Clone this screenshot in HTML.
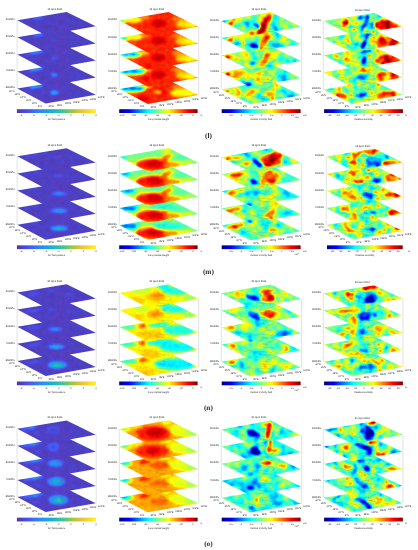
<!DOCTYPE html>
<html><head><meta charset="utf-8"><style>
html,body{margin:0;padding:0;background:#fff;width:418px;height:550px;overflow:hidden}
svg{display:block;font-family:"Liberation Sans",sans-serif;filter:blur(0.3px)}
</style></head><body><svg width="418" height="550" viewBox="0 0 418 550" font-family="Liberation Sans"><style>.t{fill:#1e1e1e}</style><defs><linearGradient id="gpar" x1="0" x2="1" y1="0" y2="0"><stop offset="0.000" stop-color="#5136aa"/><stop offset="0.050" stop-color="#4d40c4"/><stop offset="0.100" stop-color="#4a49de"/><stop offset="0.150" stop-color="#4654f4"/><stop offset="0.200" stop-color="#3d67f5"/><stop offset="0.250" stop-color="#3479f6"/><stop offset="0.300" stop-color="#2a8bf3"/><stop offset="0.350" stop-color="#2099e8"/><stop offset="0.400" stop-color="#17a8dc"/><stop offset="0.450" stop-color="#17b4cc"/><stop offset="0.500" stop-color="#24bcb6"/><stop offset="0.550" stop-color="#31c4a0"/><stop offset="0.600" stop-color="#4ec784"/><stop offset="0.650" stop-color="#77c763"/><stop offset="0.700" stop-color="#9fc642"/><stop offset="0.750" stop-color="#c0c538"/><stop offset="0.800" stop-color="#ddc438"/><stop offset="0.850" stop-color="#fac338"/><stop offset="0.900" stop-color="#fcd32d"/><stop offset="0.950" stop-color="#fae720"/><stop offset="1.000" stop-color="#f9fa14"/></linearGradient><linearGradient id="gjet" x1="0" x2="1" y1="0" y2="0"><stop offset="0.000" stop-color="#00007f"/><stop offset="0.031" stop-color="#00009f"/><stop offset="0.062" stop-color="#0000bf"/><stop offset="0.094" stop-color="#0000df"/><stop offset="0.125" stop-color="#0000ff"/><stop offset="0.156" stop-color="#001fff"/><stop offset="0.188" stop-color="#003fff"/><stop offset="0.219" stop-color="#005fff"/><stop offset="0.250" stop-color="#007fff"/><stop offset="0.281" stop-color="#009fff"/><stop offset="0.312" stop-color="#00bfff"/><stop offset="0.344" stop-color="#00dfff"/><stop offset="0.375" stop-color="#00ffff"/><stop offset="0.406" stop-color="#1fffdf"/><stop offset="0.438" stop-color="#3fffbf"/><stop offset="0.469" stop-color="#5fff9f"/><stop offset="0.500" stop-color="#7fff7f"/><stop offset="0.531" stop-color="#9fff5f"/><stop offset="0.562" stop-color="#bfff3f"/><stop offset="0.594" stop-color="#dfff1f"/><stop offset="0.625" stop-color="#ffff00"/><stop offset="0.656" stop-color="#ffdf00"/><stop offset="0.688" stop-color="#ffbf00"/><stop offset="0.719" stop-color="#ff9f00"/><stop offset="0.750" stop-color="#ff7f00"/><stop offset="0.781" stop-color="#ff5f00"/><stop offset="0.812" stop-color="#ff3f00"/><stop offset="0.844" stop-color="#ff1f00"/><stop offset="0.875" stop-color="#ff0000"/><stop offset="0.906" stop-color="#df0000"/><stop offset="0.938" stop-color="#bf0000"/><stop offset="0.969" stop-color="#9f0000"/><stop offset="1.000" stop-color="#7f0000"/></linearGradient><filter id="f00" x="-10%" y="-20%" width="120%" height="140%" color-interpolation-filters="sRGB"><feGaussianBlur stdDeviation="0.90" result="b"/><feTurbulence type="fractalNoise" baseFrequency="0.200" numOctaves="2" seed="1" result="n"/><feColorMatrix in="n" type="matrix" values="1 0 0 0 0 1 0 0 0 0 1 0 0 0 0 0 0 0 0 1" result="ng"/><feComposite in="b" in2="ng" operator="arithmetic" k1="0" k2="1" k3="0.080" k4="-0.040" result="s"/><feComponentTransfer in="s"><feFuncR type="table" tableValues="0.318 0.281 0.179 0.069 0.216 0.672 0.997 0.977"/><feFuncG type="table" tableValues="0.213 0.323 0.529 0.695 0.784 0.779 0.766 0.984"/><feFuncB type="table" tableValues="0.667 0.958 0.968 0.839 0.592 0.223 0.220 0.081"/><feFuncA type="linear" slope="0" intercept="1"/></feComponentTransfer></filter><filter id="f10" x="-10%" y="-20%" width="120%" height="140%" color-interpolation-filters="sRGB"><feGaussianBlur stdDeviation="0.90" result="b"/><feTurbulence type="fractalNoise" baseFrequency="0.200" numOctaves="2" seed="5" result="n"/><feColorMatrix in="n" type="matrix" values="1 0 0 0 0 1 0 0 0 0 1 0 0 0 0 0 0 0 0 1" result="ng"/><feComposite in="b" in2="ng" operator="arithmetic" k1="0" k2="1" k3="0.080" k4="-0.040" result="s"/><feComponentTransfer in="s"><feFuncR type="table" tableValues="0.318 0.281 0.179 0.069 0.216 0.672 0.997 0.977"/><feFuncG type="table" tableValues="0.213 0.323 0.529 0.695 0.784 0.779 0.766 0.984"/><feFuncB type="table" tableValues="0.667 0.958 0.968 0.839 0.592 0.223 0.220 0.081"/><feFuncA type="linear" slope="0" intercept="1"/></feComponentTransfer></filter><filter id="f20" x="-10%" y="-20%" width="120%" height="140%" color-interpolation-filters="sRGB"><feGaussianBlur stdDeviation="0.90" result="b"/><feTurbulence type="fractalNoise" baseFrequency="0.200" numOctaves="2" seed="9" result="n"/><feColorMatrix in="n" type="matrix" values="1 0 0 0 0 1 0 0 0 0 1 0 0 0 0 0 0 0 0 1" result="ng"/><feComposite in="b" in2="ng" operator="arithmetic" k1="0" k2="1" k3="0.080" k4="-0.040" result="s"/><feComponentTransfer in="s"><feFuncR type="table" tableValues="0.318 0.281 0.179 0.069 0.216 0.672 0.997 0.977"/><feFuncG type="table" tableValues="0.213 0.323 0.529 0.695 0.784 0.779 0.766 0.984"/><feFuncB type="table" tableValues="0.667 0.958 0.968 0.839 0.592 0.223 0.220 0.081"/><feFuncA type="linear" slope="0" intercept="1"/></feComponentTransfer></filter><filter id="f30" x="-10%" y="-20%" width="120%" height="140%" color-interpolation-filters="sRGB"><feGaussianBlur stdDeviation="0.90" result="b"/><feTurbulence type="fractalNoise" baseFrequency="0.200" numOctaves="2" seed="13" result="n"/><feColorMatrix in="n" type="matrix" values="1 0 0 0 0 1 0 0 0 0 1 0 0 0 0 0 0 0 0 1" result="ng"/><feComposite in="b" in2="ng" operator="arithmetic" k1="0" k2="1" k3="0.080" k4="-0.040" result="s"/><feComponentTransfer in="s"><feFuncR type="table" tableValues="0.318 0.281 0.179 0.069 0.216 0.672 0.997 0.977"/><feFuncG type="table" tableValues="0.213 0.323 0.529 0.695 0.784 0.779 0.766 0.984"/><feFuncB type="table" tableValues="0.667 0.958 0.968 0.839 0.592 0.223 0.220 0.081"/><feFuncA type="linear" slope="0" intercept="1"/></feComponentTransfer></filter><filter id="f01" x="-10%" y="-20%" width="120%" height="140%" color-interpolation-filters="sRGB"><feGaussianBlur stdDeviation="1.50" result="b"/><feTurbulence type="fractalNoise" baseFrequency="0.250" numOctaves="2" seed="2" result="n"/><feColorMatrix in="n" type="matrix" values="1 0 0 0 0 1 0 0 0 0 1 0 0 0 0 0 0 0 0 1" result="ng"/><feComposite in="b" in2="ng" operator="arithmetic" k1="0" k2="1" k3="0.060" k4="-0.030" result="s"/><feComponentTransfer in="s"><feFuncR type="table" tableValues="0 0 0 0 0.5 1 1 1 0.5"/><feFuncG type="table" tableValues="0 0 0.5 1 1 1 0.5 0 0"/><feFuncB type="table" tableValues="0.56 1 1 1 0.5 0 0 0 0"/><feFuncA type="linear" slope="0" intercept="1"/></feComponentTransfer></filter><filter id="f11" x="-10%" y="-20%" width="120%" height="140%" color-interpolation-filters="sRGB"><feGaussianBlur stdDeviation="1.50" result="b"/><feTurbulence type="fractalNoise" baseFrequency="0.250" numOctaves="2" seed="6" result="n"/><feColorMatrix in="n" type="matrix" values="1 0 0 0 0 1 0 0 0 0 1 0 0 0 0 0 0 0 0 1" result="ng"/><feComposite in="b" in2="ng" operator="arithmetic" k1="0" k2="1" k3="0.060" k4="-0.030" result="s"/><feComponentTransfer in="s"><feFuncR type="table" tableValues="0 0 0 0 0.5 1 1 1 0.5"/><feFuncG type="table" tableValues="0 0 0.5 1 1 1 0.5 0 0"/><feFuncB type="table" tableValues="0.56 1 1 1 0.5 0 0 0 0"/><feFuncA type="linear" slope="0" intercept="1"/></feComponentTransfer></filter><filter id="f21" x="-10%" y="-20%" width="120%" height="140%" color-interpolation-filters="sRGB"><feGaussianBlur stdDeviation="1.50" result="b"/><feTurbulence type="fractalNoise" baseFrequency="0.250" numOctaves="2" seed="10" result="n"/><feColorMatrix in="n" type="matrix" values="1 0 0 0 0 1 0 0 0 0 1 0 0 0 0 0 0 0 0 1" result="ng"/><feComposite in="b" in2="ng" operator="arithmetic" k1="0" k2="1" k3="0.070" k4="-0.035" result="s"/><feComponentTransfer in="s"><feFuncR type="table" tableValues="0 0 0 0 0.5 1 1 1 0.5"/><feFuncG type="table" tableValues="0 0 0.5 1 1 1 0.5 0 0"/><feFuncB type="table" tableValues="0.56 1 1 1 0.5 0 0 0 0"/><feFuncA type="linear" slope="0" intercept="1"/></feComponentTransfer></filter><filter id="f31" x="-10%" y="-20%" width="120%" height="140%" color-interpolation-filters="sRGB"><feGaussianBlur stdDeviation="1.60" result="b"/><feTurbulence type="fractalNoise" baseFrequency="0.250" numOctaves="2" seed="14" result="n"/><feColorMatrix in="n" type="matrix" values="1 0 0 0 0 1 0 0 0 0 1 0 0 0 0 0 0 0 0 1" result="ng"/><feComposite in="b" in2="ng" operator="arithmetic" k1="0" k2="1" k3="0.060" k4="-0.030" result="s"/><feComponentTransfer in="s"><feFuncR type="table" tableValues="0 0 0 0 0.5 1 1 1 0.5"/><feFuncG type="table" tableValues="0 0 0.5 1 1 1 0.5 0 0"/><feFuncB type="table" tableValues="0.56 1 1 1 0.5 0 0 0 0"/><feFuncA type="linear" slope="0" intercept="1"/></feComponentTransfer></filter><filter id="f02" x="-10%" y="-20%" width="120%" height="140%" color-interpolation-filters="sRGB"><feGaussianBlur stdDeviation="1.00" result="b"/><feTurbulence type="fractalNoise" baseFrequency="0.100" numOctaves="2" seed="3" result="n"/><feColorMatrix in="n" type="matrix" values="1 0 0 0 0 1 0 0 0 0 1 0 0 0 0 0 0 0 0 1" result="ng"/><feComposite in="b" in2="ng" operator="arithmetic" k1="0" k2="1" k3="0.600" k4="-0.300" result="s"/><feComponentTransfer in="s"><feFuncR type="table" tableValues="0 0 0 0 0.5 1 1 1 0.5"/><feFuncG type="table" tableValues="0 0 0.5 1 1 1 0.5 0 0"/><feFuncB type="table" tableValues="0.56 1 1 1 0.5 0 0 0 0"/><feFuncA type="linear" slope="0" intercept="1"/></feComponentTransfer></filter><filter id="f12" x="-10%" y="-20%" width="120%" height="140%" color-interpolation-filters="sRGB"><feGaussianBlur stdDeviation="1.00" result="b"/><feTurbulence type="fractalNoise" baseFrequency="0.100" numOctaves="2" seed="7" result="n"/><feColorMatrix in="n" type="matrix" values="1 0 0 0 0 1 0 0 0 0 1 0 0 0 0 0 0 0 0 1" result="ng"/><feComposite in="b" in2="ng" operator="arithmetic" k1="0" k2="1" k3="0.600" k4="-0.300" result="s"/><feComponentTransfer in="s"><feFuncR type="table" tableValues="0 0 0 0 0.5 1 1 1 0.5"/><feFuncG type="table" tableValues="0 0 0.5 1 1 1 0.5 0 0"/><feFuncB type="table" tableValues="0.56 1 1 1 0.5 0 0 0 0"/><feFuncA type="linear" slope="0" intercept="1"/></feComponentTransfer></filter><filter id="f22" x="-10%" y="-20%" width="120%" height="140%" color-interpolation-filters="sRGB"><feGaussianBlur stdDeviation="1.00" result="b"/><feTurbulence type="fractalNoise" baseFrequency="0.100" numOctaves="2" seed="11" result="n"/><feColorMatrix in="n" type="matrix" values="1 0 0 0 0 1 0 0 0 0 1 0 0 0 0 0 0 0 0 1" result="ng"/><feComposite in="b" in2="ng" operator="arithmetic" k1="0" k2="1" k3="0.600" k4="-0.300" result="s"/><feComponentTransfer in="s"><feFuncR type="table" tableValues="0 0 0 0 0.5 1 1 1 0.5"/><feFuncG type="table" tableValues="0 0 0.5 1 1 1 0.5 0 0"/><feFuncB type="table" tableValues="0.56 1 1 1 0.5 0 0 0 0"/><feFuncA type="linear" slope="0" intercept="1"/></feComponentTransfer></filter><filter id="f32" x="-10%" y="-20%" width="120%" height="140%" color-interpolation-filters="sRGB"><feGaussianBlur stdDeviation="1.00" result="b"/><feTurbulence type="fractalNoise" baseFrequency="0.100" numOctaves="2" seed="15" result="n"/><feColorMatrix in="n" type="matrix" values="1 0 0 0 0 1 0 0 0 0 1 0 0 0 0 0 0 0 0 1" result="ng"/><feComposite in="b" in2="ng" operator="arithmetic" k1="0" k2="1" k3="0.600" k4="-0.300" result="s"/><feComponentTransfer in="s"><feFuncR type="table" tableValues="0 0 0 0 0.5 1 1 1 0.5"/><feFuncG type="table" tableValues="0 0 0.5 1 1 1 0.5 0 0"/><feFuncB type="table" tableValues="0.56 1 1 1 0.5 0 0 0 0"/><feFuncA type="linear" slope="0" intercept="1"/></feComponentTransfer></filter><filter id="f03" x="-10%" y="-20%" width="120%" height="140%" color-interpolation-filters="sRGB"><feGaussianBlur stdDeviation="0.90" result="b"/><feTurbulence type="fractalNoise" baseFrequency="0.120" numOctaves="2" seed="4" result="n"/><feColorMatrix in="n" type="matrix" values="1 0 0 0 0 1 0 0 0 0 1 0 0 0 0 0 0 0 0 1" result="ng"/><feComposite in="b" in2="ng" operator="arithmetic" k1="0" k2="1" k3="0.620" k4="-0.290" result="s"/><feComponentTransfer in="s"><feFuncR type="table" tableValues="0 0 0 0 0.5 1 1 1 0.5"/><feFuncG type="table" tableValues="0 0 0.5 1 1 1 0.5 0 0"/><feFuncB type="table" tableValues="0.56 1 1 1 0.5 0 0 0 0"/><feFuncA type="linear" slope="0" intercept="1"/></feComponentTransfer></filter><filter id="f13" x="-10%" y="-20%" width="120%" height="140%" color-interpolation-filters="sRGB"><feGaussianBlur stdDeviation="0.90" result="b"/><feTurbulence type="fractalNoise" baseFrequency="0.120" numOctaves="2" seed="8" result="n"/><feColorMatrix in="n" type="matrix" values="1 0 0 0 0 1 0 0 0 0 1 0 0 0 0 0 0 0 0 1" result="ng"/><feComposite in="b" in2="ng" operator="arithmetic" k1="0" k2="1" k3="0.620" k4="-0.290" result="s"/><feComponentTransfer in="s"><feFuncR type="table" tableValues="0 0 0 0 0.5 1 1 1 0.5"/><feFuncG type="table" tableValues="0 0 0.5 1 1 1 0.5 0 0"/><feFuncB type="table" tableValues="0.56 1 1 1 0.5 0 0 0 0"/><feFuncA type="linear" slope="0" intercept="1"/></feComponentTransfer></filter><filter id="f23" x="-10%" y="-20%" width="120%" height="140%" color-interpolation-filters="sRGB"><feGaussianBlur stdDeviation="0.90" result="b"/><feTurbulence type="fractalNoise" baseFrequency="0.120" numOctaves="2" seed="12" result="n"/><feColorMatrix in="n" type="matrix" values="1 0 0 0 0 1 0 0 0 0 1 0 0 0 0 0 0 0 0 1" result="ng"/><feComposite in="b" in2="ng" operator="arithmetic" k1="0" k2="1" k3="0.620" k4="-0.290" result="s"/><feComponentTransfer in="s"><feFuncR type="table" tableValues="0 0 0 0 0.5 1 1 1 0.5"/><feFuncG type="table" tableValues="0 0 0.5 1 1 1 0.5 0 0"/><feFuncB type="table" tableValues="0.56 1 1 1 0.5 0 0 0 0"/><feFuncA type="linear" slope="0" intercept="1"/></feComponentTransfer></filter><filter id="f33" x="-10%" y="-20%" width="120%" height="140%" color-interpolation-filters="sRGB"><feGaussianBlur stdDeviation="0.90" result="b"/><feTurbulence type="fractalNoise" baseFrequency="0.120" numOctaves="2" seed="16" result="n"/><feColorMatrix in="n" type="matrix" values="1 0 0 0 0 1 0 0 0 0 1 0 0 0 0 0 0 0 0 1" result="ng"/><feComposite in="b" in2="ng" operator="arithmetic" k1="0" k2="1" k3="0.620" k4="-0.290" result="s"/><feComponentTransfer in="s"><feFuncR type="table" tableValues="0 0 0 0 0.5 1 1 1 0.5"/><feFuncG type="table" tableValues="0 0 0.5 1 1 1 0.5 0 0"/><feFuncB type="table" tableValues="0.56 1 1 1 0.5 0 0 0 0"/><feFuncA type="linear" slope="0" intercept="1"/></feComponentTransfer></filter><clipPath id="c004"><polygon points="17.30,88.60 66.60,80.40 95.70,94.70 45.60,103.60"/></clipPath><clipPath id="c003"><polygon points="17.30,71.50 66.60,63.30 95.70,77.60 45.60,86.50"/></clipPath><clipPath id="c002"><polygon points="17.30,54.40 66.60,46.20 95.70,60.50 45.60,69.40"/></clipPath><clipPath id="c001"><polygon points="17.30,37.30 66.60,29.10 95.70,43.40 45.60,52.30"/></clipPath><clipPath id="c000"><polygon points="17.30,20.20 66.60,12.00 95.70,26.30 45.60,35.20"/></clipPath><clipPath id="c014"><polygon points="119.50,89.00 168.60,80.30 198.20,94.90 147.80,103.90"/></clipPath><clipPath id="c013"><polygon points="119.50,71.90 168.60,63.20 198.20,77.80 147.80,86.80"/></clipPath><clipPath id="c012"><polygon points="119.50,54.80 168.60,46.10 198.20,60.70 147.80,69.70"/></clipPath><clipPath id="c011"><polygon points="119.50,37.70 168.60,29.00 198.20,43.60 147.80,52.60"/></clipPath><clipPath id="c010"><polygon points="119.50,20.60 168.60,11.90 198.20,26.50 147.80,35.50"/></clipPath><clipPath id="c024"><polygon points="221.50,89.40 270.60,80.50 300.90,95.20 250.30,104.10"/></clipPath><clipPath id="c023"><polygon points="221.50,72.30 270.60,63.40 300.90,78.10 250.30,87.00"/></clipPath><clipPath id="c022"><polygon points="221.50,55.20 270.60,46.30 300.90,61.00 250.30,69.90"/></clipPath><clipPath id="c021"><polygon points="221.50,38.10 270.60,29.20 300.90,43.90 250.30,52.80"/></clipPath><clipPath id="c020"><polygon points="221.50,21.00 270.60,12.10 300.90,26.80 250.30,35.70"/></clipPath><clipPath id="c034"><polygon points="323.50,89.40 374.00,81.30 402.40,94.70 352.30,103.90"/></clipPath><clipPath id="c033"><polygon points="323.50,72.30 374.00,64.20 402.40,77.60 352.30,86.80"/></clipPath><clipPath id="c032"><polygon points="323.50,55.20 374.00,47.10 402.40,60.50 352.30,69.70"/></clipPath><clipPath id="c031"><polygon points="323.50,38.10 374.00,30.00 402.40,43.40 352.30,52.60"/></clipPath><clipPath id="c030"><polygon points="323.50,21.00 374.00,12.90 402.40,26.30 352.30,35.50"/></clipPath><clipPath id="c104"><polygon points="17.30,224.75 66.60,216.55 95.70,230.85 45.60,239.75"/></clipPath><clipPath id="c103"><polygon points="17.30,207.65 66.60,199.45 95.70,213.75 45.60,222.65"/></clipPath><clipPath id="c102"><polygon points="17.30,190.55 66.60,182.35 95.70,196.65 45.60,205.55"/></clipPath><clipPath id="c101"><polygon points="17.30,173.45 66.60,165.25 95.70,179.55 45.60,188.45"/></clipPath><clipPath id="c100"><polygon points="17.30,156.35 66.60,148.15 95.70,162.45 45.60,171.35"/></clipPath><clipPath id="c114"><polygon points="119.50,225.15 168.60,216.45 198.20,231.05 147.80,240.05"/></clipPath><clipPath id="c113"><polygon points="119.50,208.05 168.60,199.35 198.20,213.95 147.80,222.95"/></clipPath><clipPath id="c112"><polygon points="119.50,190.95 168.60,182.25 198.20,196.85 147.80,205.85"/></clipPath><clipPath id="c111"><polygon points="119.50,173.85 168.60,165.15 198.20,179.75 147.80,188.75"/></clipPath><clipPath id="c110"><polygon points="119.50,156.75 168.60,148.05 198.20,162.65 147.80,171.65"/></clipPath><clipPath id="c124"><polygon points="221.50,225.55 270.60,216.65 300.90,231.35 250.30,240.25"/></clipPath><clipPath id="c123"><polygon points="221.50,208.45 270.60,199.55 300.90,214.25 250.30,223.15"/></clipPath><clipPath id="c122"><polygon points="221.50,191.35 270.60,182.45 300.90,197.15 250.30,206.05"/></clipPath><clipPath id="c121"><polygon points="221.50,174.25 270.60,165.35 300.90,180.05 250.30,188.95"/></clipPath><clipPath id="c120"><polygon points="221.50,157.15 270.60,148.25 300.90,162.95 250.30,171.85"/></clipPath><clipPath id="c134"><polygon points="326.50,225.00 374.50,217.00 402.70,230.90 353.30,239.30"/></clipPath><clipPath id="c133"><polygon points="326.50,207.90 374.50,199.90 402.70,213.80 353.30,222.20"/></clipPath><clipPath id="c132"><polygon points="326.50,190.80 374.50,182.80 402.70,196.70 353.30,205.10"/></clipPath><clipPath id="c131"><polygon points="326.50,173.70 374.50,165.70 402.70,179.60 353.30,188.00"/></clipPath><clipPath id="c130"><polygon points="326.50,156.60 374.50,148.60 402.70,162.50 353.30,170.90"/></clipPath><clipPath id="c204"><polygon points="17.30,360.90 66.60,352.70 95.70,367.00 45.60,375.90"/></clipPath><clipPath id="c203"><polygon points="17.30,343.80 66.60,335.60 95.70,349.90 45.60,358.80"/></clipPath><clipPath id="c202"><polygon points="17.30,326.70 66.60,318.50 95.70,332.80 45.60,341.70"/></clipPath><clipPath id="c201"><polygon points="17.30,309.60 66.60,301.40 95.70,315.70 45.60,324.60"/></clipPath><clipPath id="c200"><polygon points="17.30,292.50 66.60,284.30 95.70,298.60 45.60,307.50"/></clipPath><clipPath id="c214"><polygon points="119.50,361.30 168.60,352.60 198.20,367.20 147.80,376.20"/></clipPath><clipPath id="c213"><polygon points="119.50,344.20 168.60,335.50 198.20,350.10 147.80,359.10"/></clipPath><clipPath id="c212"><polygon points="119.50,327.10 168.60,318.40 198.20,333.00 147.80,342.00"/></clipPath><clipPath id="c211"><polygon points="119.50,310.00 168.60,301.30 198.20,315.90 147.80,324.90"/></clipPath><clipPath id="c210"><polygon points="119.50,292.90 168.60,284.20 198.20,298.80 147.80,307.80"/></clipPath><clipPath id="c224"><polygon points="221.50,361.70 270.60,352.80 300.90,367.50 250.30,376.40"/></clipPath><clipPath id="c223"><polygon points="221.50,344.60 270.60,335.70 300.90,350.40 250.30,359.30"/></clipPath><clipPath id="c222"><polygon points="221.50,327.50 270.60,318.60 300.90,333.30 250.30,342.20"/></clipPath><clipPath id="c221"><polygon points="221.50,310.40 270.60,301.50 300.90,316.20 250.30,325.10"/></clipPath><clipPath id="c220"><polygon points="221.50,293.30 270.60,284.40 300.90,299.10 250.30,308.00"/></clipPath><clipPath id="c234"><polygon points="323.50,361.70 374.00,353.60 402.40,367.00 352.30,376.20"/></clipPath><clipPath id="c233"><polygon points="323.50,344.60 374.00,336.50 402.40,349.90 352.30,359.10"/></clipPath><clipPath id="c232"><polygon points="323.50,327.50 374.00,319.40 402.40,332.80 352.30,342.00"/></clipPath><clipPath id="c231"><polygon points="323.50,310.40 374.00,302.30 402.40,315.70 352.30,324.90"/></clipPath><clipPath id="c230"><polygon points="323.50,293.30 374.00,285.20 402.40,298.60 352.30,307.80"/></clipPath><clipPath id="c304"><polygon points="17.30,497.05 66.60,488.85 95.70,503.15 45.60,512.05"/></clipPath><clipPath id="c303"><polygon points="17.30,479.95 66.60,471.75 95.70,486.05 45.60,494.95"/></clipPath><clipPath id="c302"><polygon points="17.30,462.85 66.60,454.65 95.70,468.95 45.60,477.85"/></clipPath><clipPath id="c301"><polygon points="17.30,445.75 66.60,437.55 95.70,451.85 45.60,460.75"/></clipPath><clipPath id="c300"><polygon points="17.30,428.65 66.60,420.45 95.70,434.75 45.60,443.65"/></clipPath><clipPath id="c314"><polygon points="119.50,497.45 168.60,488.75 198.20,503.35 147.80,512.35"/></clipPath><clipPath id="c313"><polygon points="119.50,480.35 168.60,471.65 198.20,486.25 147.80,495.25"/></clipPath><clipPath id="c312"><polygon points="119.50,463.25 168.60,454.55 198.20,469.15 147.80,478.15"/></clipPath><clipPath id="c311"><polygon points="119.50,446.15 168.60,437.45 198.20,452.05 147.80,461.05"/></clipPath><clipPath id="c310"><polygon points="119.50,429.05 168.60,420.35 198.20,434.95 147.80,443.95"/></clipPath><clipPath id="c324"><polygon points="221.50,497.85 270.60,488.95 300.90,503.65 250.30,512.55"/></clipPath><clipPath id="c323"><polygon points="221.50,480.75 270.60,471.85 300.90,486.55 250.30,495.45"/></clipPath><clipPath id="c322"><polygon points="221.50,463.65 270.60,454.75 300.90,469.45 250.30,478.35"/></clipPath><clipPath id="c321"><polygon points="221.50,446.55 270.60,437.65 300.90,452.35 250.30,461.25"/></clipPath><clipPath id="c320"><polygon points="221.50,429.45 270.60,420.55 300.90,435.25 250.30,444.15"/></clipPath><clipPath id="c334"><polygon points="323.50,497.85 374.00,489.75 402.40,503.15 352.30,512.35"/></clipPath><clipPath id="c333"><polygon points="323.50,480.75 374.00,472.65 402.40,486.05 352.30,495.25"/></clipPath><clipPath id="c332"><polygon points="323.50,463.65 374.00,455.55 402.40,468.95 352.30,478.15"/></clipPath><clipPath id="c331"><polygon points="323.50,446.55 374.00,438.45 402.40,451.85 352.30,461.05"/></clipPath><clipPath id="c330"><polygon points="323.50,429.45 374.00,421.35 402.40,434.75 352.30,443.95"/></clipPath></defs><line x1="17.10" y1="20.20" x2="17.10" y2="88.60" stroke="#c4c4c4" stroke-width="0.5"/><line x1="96.20" y1="26.30" x2="96.20" y2="94.70" stroke="#c4c4c4" stroke-width="0.5"/><g clip-path="url(#c004)"><g filter="url(#f00)"><g transform="translate(17.30 88.60)"><rect x="-2" y="-12" width="83" height="30" fill="#0d0d0d"/><ellipse cx="10.0" cy="0.5" rx="4.0" ry="1.5" fill="#171717" transform="rotate(-10 10.0 0.5)"/><ellipse cx="19.0" cy="-2.0" rx="7.0" ry="1.4" fill="#6b6b6b" transform="rotate(-10 19.0 -2.0)"/><ellipse cx="37.0" cy="4.0" rx="4.0" ry="2.3" fill="#545454"/><ellipse cx="37.0" cy="4.0" rx="2.0" ry="1.2" fill="#737373"/></g></g></g><path d="M26.4 93.4 L27.6 92.9 L29.1 92.8 L31.5 93.5 L33.8 93.9 L37.3 94.3 L39.2 95.0 L40.3 95.8 L41.7 95.7 L42.4 94.9 L44.1 94.4 L46.1 94.9 L47.6 95.7 L51.2 96.6 L53.7 97.8 L54.9 98.8 L56.2 99.3 L58.3 99.5 L60.9 99.7 L63.0 100.5 M68.0 99.6 L64.8 99.2 L62.3 99.1 L60.1 99.0 L58.5 98.5 L56.0 98.2 L54.7 97.6 L53.8 96.8 L53.4 96.2 L52.7 95.7 L54.2 95.4 L55.0 95.8 L57.4 95.8 L59.4 95.9 L61.7 96.3 L63.6 96.1 L65.2 96.6 L66.2 97.1 L66.7 96.9 L67.6 96.2 L67.4 95.5 L68.4 95.1 L69.7 94.4 L69.6 93.8 L68.6 93.2 L67.3 92.7 L65.1 92.0 L63.2 91.7 L60.7 91.6 L58.8 91.4 L56.4 91.0 L55.6 90.5 L55.5 89.9 L55.6 89.4 L56.3 88.7 L57.4 88.4 L58.8 88.4 L60.2 88.5 L61.2 88.8 L62.0 88.7 L61.1 88.1 L62.4 87.7 L63.8 87.2 L64.9 86.7 L66.0 86.4 L67.7 85.8 L69.0 85.4 L69.7 84.6 L70.4 83.9 L70.8 83.2 L70.0 82.5 L69.9 82.0 M61.3 90.2 L62.9 90.1 L64.0 89.6 L63.8 88.9 L62.6 88.7 L61.0 89.1 L60.2 89.7 L61.3 90.2 M53.8 101.7 L56.2 101.6 L57.9 101.3 L59.5 101.1" fill="none" stroke="#c8287a" stroke-width="0.4" stroke-opacity="0.5" stroke-dasharray="0.8 0.4"/><g clip-path="url(#c003)"><g filter="url(#f00)"><g transform="translate(17.30 71.50)"><rect x="-2" y="-12" width="83" height="30" fill="#0d0d0d"/><ellipse cx="10.0" cy="0.5" rx="4.0" ry="1.5" fill="#171717" transform="rotate(-10 10.0 0.5)"/><ellipse cx="19.0" cy="-2.0" rx="7.0" ry="1.4" fill="#666666" transform="rotate(-10 19.0 -2.0)"/><ellipse cx="37.0" cy="3.3" rx="3.5" ry="2.0" fill="#424242"/><ellipse cx="37.0" cy="3.3" rx="1.8" ry="1.0" fill="#5c5c5c"/></g></g></g><path d="M26.4 76.3 L27.6 75.8 L29.1 75.7 L31.5 76.4 L33.8 76.8 L37.3 77.2 L39.2 77.9 L40.3 78.7 L41.7 78.6 L42.4 77.8 L44.1 77.3 L46.1 77.8 L47.6 78.6 L51.2 79.5 L53.7 80.7 L54.9 81.7 L56.2 82.2 L58.3 82.4 L60.9 82.6 L63.0 83.4 M68.0 82.5 L64.8 82.1 L62.3 82.0 L60.1 81.9 L58.5 81.4 L56.0 81.1 L54.7 80.5 L53.8 79.7 L53.4 79.1 L52.7 78.6 L54.2 78.3 L55.0 78.7 L57.4 78.7 L59.4 78.8 L61.7 79.2 L63.6 79.0 L65.2 79.5 L66.2 80.0 L66.7 79.8 L67.6 79.1 L67.4 78.4 L68.4 78.0 L69.7 77.3 L69.6 76.7 L68.6 76.1 L67.3 75.6 L65.1 74.9 L63.2 74.6 L60.7 74.5 L58.8 74.3 L56.4 73.9 L55.6 73.4 L55.5 72.8 L55.6 72.3 L56.3 71.6 L57.4 71.3 L58.8 71.3 L60.2 71.4 L61.2 71.7 L62.0 71.6 L61.1 71.0 L62.4 70.6 L63.8 70.1 L64.9 69.6 L66.0 69.3 L67.7 68.7 L69.0 68.3 L69.7 67.5 L70.4 66.8 L70.8 66.1 L70.0 65.4 L69.9 64.9 M61.3 73.1 L62.9 73.0 L64.0 72.5 L63.8 71.8 L62.6 71.6 L61.0 72.0 L60.2 72.6 L61.3 73.1 M53.8 84.6 L56.2 84.5 L57.9 84.2 L59.5 84.0" fill="none" stroke="#c8287a" stroke-width="0.4" stroke-opacity="0.5" stroke-dasharray="0.8 0.4"/><g clip-path="url(#c002)"><g filter="url(#f00)"><g transform="translate(17.30 54.40)"><rect x="-2" y="-12" width="83" height="30" fill="#0d0d0d"/><ellipse cx="10.0" cy="0.5" rx="4.0" ry="1.5" fill="#171717" transform="rotate(-10 10.0 0.5)"/><ellipse cx="19.0" cy="-2.0" rx="7.0" ry="1.4" fill="#575757" transform="rotate(-10 19.0 -2.0)"/><ellipse cx="37.0" cy="3.5" rx="3.0" ry="2.0" fill="#242424"/></g></g></g><path d="M26.4 59.2 L27.6 58.7 L29.1 58.6 L31.5 59.3 L33.8 59.7 L37.3 60.1 L39.2 60.8 L40.3 61.6 L41.7 61.5 L42.4 60.7 L44.1 60.2 L46.1 60.7 L47.6 61.5 L51.2 62.4 L53.7 63.6 L54.9 64.6 L56.2 65.1 L58.3 65.3 L60.9 65.5 L63.0 66.3 M68.0 65.4 L64.8 65.0 L62.3 64.9 L60.1 64.8 L58.5 64.3 L56.0 64.0 L54.7 63.4 L53.8 62.6 L53.4 62.0 L52.7 61.5 L54.2 61.2 L55.0 61.6 L57.4 61.6 L59.4 61.7 L61.7 62.1 L63.6 61.9 L65.2 62.4 L66.2 62.9 L66.7 62.7 L67.6 62.0 L67.4 61.3 L68.4 60.9 L69.7 60.2 L69.6 59.6 L68.6 59.0 L67.3 58.5 L65.1 57.8 L63.2 57.5 L60.7 57.4 L58.8 57.2 L56.4 56.8 L55.6 56.3 L55.5 55.7 L55.6 55.2 L56.3 54.5 L57.4 54.2 L58.8 54.2 L60.2 54.3 L61.2 54.6 L62.0 54.5 L61.1 53.9 L62.4 53.5 L63.8 53.0 L64.9 52.5 L66.0 52.2 L67.7 51.6 L69.0 51.2 L69.7 50.4 L70.4 49.7 L70.8 49.0 L70.0 48.3 L69.9 47.8 M61.3 56.0 L62.9 55.9 L64.0 55.4 L63.8 54.7 L62.6 54.5 L61.0 54.9 L60.2 55.5 L61.3 56.0 M53.8 67.5 L56.2 67.4 L57.9 67.1 L59.5 66.9" fill="none" stroke="#c8287a" stroke-width="0.4" stroke-opacity="0.5" stroke-dasharray="0.8 0.4"/><g clip-path="url(#c001)"><g filter="url(#f00)"><g transform="translate(17.30 37.30)"><rect x="-2" y="-12" width="83" height="30" fill="#0d0d0d"/><ellipse cx="10.0" cy="0.5" rx="4.0" ry="1.5" fill="#171717" transform="rotate(-10 10.0 0.5)"/><ellipse cx="21.0" cy="-2.3" rx="5.0" ry="1.3" fill="#474747" transform="rotate(-10 21.0 -2.3)"/><ellipse cx="37.0" cy="3.5" rx="3.0" ry="2.0" fill="#171717"/></g></g></g><path d="M26.4 42.1 L27.6 41.6 L29.1 41.5 L31.5 42.2 L33.8 42.6 L37.3 43.0 L39.2 43.7 L40.3 44.5 L41.7 44.4 L42.4 43.6 L44.1 43.1 L46.1 43.6 L47.6 44.4 L51.2 45.3 L53.7 46.5 L54.9 47.5 L56.2 48.0 L58.3 48.2 L60.9 48.4 L63.0 49.2 M68.0 48.3 L64.8 47.9 L62.3 47.8 L60.1 47.7 L58.5 47.2 L56.0 46.9 L54.7 46.3 L53.8 45.5 L53.4 44.9 L52.7 44.4 L54.2 44.1 L55.0 44.5 L57.4 44.5 L59.4 44.6 L61.7 45.0 L63.6 44.8 L65.2 45.3 L66.2 45.8 L66.7 45.6 L67.6 44.9 L67.4 44.2 L68.4 43.8 L69.7 43.1 L69.6 42.5 L68.6 41.9 L67.3 41.4 L65.1 40.7 L63.2 40.4 L60.7 40.3 L58.8 40.1 L56.4 39.7 L55.6 39.2 L55.5 38.6 L55.6 38.1 L56.3 37.4 L57.4 37.1 L58.8 37.1 L60.2 37.2 L61.2 37.5 L62.0 37.4 L61.1 36.8 L62.4 36.4 L63.8 35.9 L64.9 35.4 L66.0 35.1 L67.7 34.5 L69.0 34.1 L69.7 33.3 L70.4 32.6 L70.8 31.9 L70.0 31.2 L69.9 30.7 M61.3 38.9 L62.9 38.8 L64.0 38.3 L63.8 37.6 L62.6 37.4 L61.0 37.8 L60.2 38.4 L61.3 38.9 M53.8 50.4 L56.2 50.3 L57.9 50.0 L59.5 49.8" fill="none" stroke="#c8287a" stroke-width="0.4" stroke-opacity="0.5" stroke-dasharray="0.8 0.4"/><g clip-path="url(#c000)"><g filter="url(#f00)"><g transform="translate(17.30 20.20)"><rect x="-2" y="-12" width="83" height="30" fill="#0d0d0d"/><ellipse cx="10.0" cy="0.5" rx="4.0" ry="1.5" fill="#171717" transform="rotate(-10 10.0 0.5)"/><ellipse cx="21.0" cy="-2.3" rx="5.0" ry="1.3" fill="#383838" transform="rotate(-10 21.0 -2.3)"/><ellipse cx="37.0" cy="3.0" rx="3.0" ry="2.0" fill="#0f0f0f"/></g></g></g><path d="M26.4 25.0 L27.6 24.5 L29.1 24.4 L31.5 25.1 L33.8 25.5 L37.3 25.9 L39.2 26.6 L40.3 27.4 L41.7 27.3 L42.4 26.5 L44.1 26.0 L46.1 26.5 L47.6 27.3 L51.2 28.2 L53.7 29.4 L54.9 30.4 L56.2 30.9 L58.3 31.1 L60.9 31.3 L63.0 32.1 M68.0 31.2 L64.8 30.8 L62.3 30.7 L60.1 30.6 L58.5 30.1 L56.0 29.8 L54.7 29.2 L53.8 28.4 L53.4 27.8 L52.7 27.3 L54.2 27.0 L55.0 27.4 L57.4 27.4 L59.4 27.5 L61.7 27.9 L63.6 27.7 L65.2 28.2 L66.2 28.7 L66.7 28.5 L67.6 27.8 L67.4 27.1 L68.4 26.7 L69.7 26.0 L69.6 25.4 L68.6 24.8 L67.3 24.3 L65.1 23.6 L63.2 23.3 L60.7 23.2 L58.8 23.0 L56.4 22.6 L55.6 22.1 L55.5 21.5 L55.6 21.0 L56.3 20.3 L57.4 20.0 L58.8 20.0 L60.2 20.1 L61.2 20.4 L62.0 20.3 L61.1 19.7 L62.4 19.3 L63.8 18.8 L64.9 18.3 L66.0 18.0 L67.7 17.4 L69.0 17.0 L69.7 16.2 L70.4 15.5 L70.8 14.8 L70.0 14.1 L69.9 13.6 M61.3 21.8 L62.9 21.7 L64.0 21.2 L63.8 20.5 L62.6 20.3 L61.0 20.7 L60.2 21.3 L61.3 21.8 M53.8 33.3 L56.2 33.2 L57.9 32.9 L59.5 32.7" fill="none" stroke="#c8287a" stroke-width="0.4" stroke-opacity="0.5" stroke-dasharray="0.8 0.4"/><rect x="16.90" y="109.20" width="79.20" height="3.8" fill="url(#gpar)"/><line x1="119.30" y1="20.60" x2="119.30" y2="89.00" stroke="#c4c4c4" stroke-width="0.5"/><line x1="198.70" y1="26.50" x2="198.70" y2="94.90" stroke="#c4c4c4" stroke-width="0.5"/><g clip-path="url(#c014)"><g filter="url(#f01)"><g transform="translate(119.50 89.00)"><rect x="-2" y="-12" width="83" height="30" fill="#d6d6d6"/><ellipse cx="39.0" cy="3.0" rx="7.0" ry="3.5" fill="#ededed"/><ellipse cx="68.0" cy="3.5" rx="12.0" ry="4.5" fill="#a8a8a8"/><ellipse cx="71.0" cy="4.5" rx="6.0" ry="2.5" fill="#9e9e9e"/><ellipse cx="58.0" cy="-2.0" rx="6.0" ry="2.0" fill="#b8b8b8"/><ellipse cx="12.0" cy="7.0" rx="6.0" ry="3.0" fill="#cccccc"/><ellipse cx="12.0" cy="-0.5" rx="14.0" ry="3.2" fill="#454545"/><ellipse cx="5.0" cy="1.0" rx="2.0" ry="1.0" fill="#1f1f1f"/><ellipse cx="13.0" cy="-1.0" rx="2.0" ry="1.0" fill="#1a1a1a"/><ellipse cx="20.0" cy="1.0" rx="2.0" ry="1.0" fill="#1f1f1f"/><ellipse cx="28.0" cy="-3.0" rx="4.0" ry="2.0" fill="#999999"/><ellipse cx="23.0" cy="10.0" rx="6.0" ry="2.5" fill="#ebebeb"/><ellipse cx="38.0" cy="3.0" rx="5.0" ry="2.0" fill="#a8a8a8"/><ellipse cx="62.0" cy="4.0" rx="12.0" ry="4.0" fill="#9e9e9e"/></g></g></g><path d="M128.6 93.8 L129.8 93.2 L131.3 93.1 L133.7 93.8 L136.0 94.2 L139.5 94.6 L141.5 95.3 L142.5 96.1 L143.9 96.0 L144.6 95.2 L146.3 94.7 L148.4 95.2 L149.9 96.0 L153.5 96.9 L155.9 98.1 L157.2 99.0 L158.5 99.6 L160.6 99.8 L163.2 100.0 L165.3 100.8 M170.3 99.9 L167.1 99.5 L164.6 99.4 L162.4 99.3 L160.7 98.8 L158.3 98.4 L156.9 97.9 L156.1 97.1 L155.7 96.4 L154.9 95.9 L156.4 95.7 L157.3 96.1 L159.7 96.0 L161.7 96.2 L164.0 96.5 L165.9 96.4 L167.5 96.8 L168.5 97.3 L169.1 97.2 L169.9 96.4 L169.8 95.7 L170.7 95.4 L172.0 94.6 L171.9 94.0 L170.9 93.4 L169.6 92.8 L167.4 92.2 L165.5 91.9 L163.0 91.8 L161.0 91.6 L158.6 91.1 L157.8 90.7 L157.7 90.1 L157.8 89.6 L158.5 88.8 L159.6 88.6 L160.9 88.5 L162.4 88.6 L163.4 88.9 L164.2 88.8 L163.3 88.2 L164.6 87.8 L165.9 87.3 L167.1 86.8 L168.1 86.5 L169.8 85.9 L171.1 85.4 L171.8 84.7 L172.5 83.9 L172.9 83.2 L172.1 82.5 L171.9 81.9 M163.5 90.3 L165.2 90.3 L166.2 89.7 L166.0 89.0 L164.8 88.8 L163.2 89.2 L162.4 89.8 L163.5 90.3 M156.0 102.0 L158.5 101.8 L160.2 101.5 L161.7 101.4" fill="none" stroke="#404040" stroke-width="0.3" stroke-opacity="0.35"/><g clip-path="url(#c013)"><g filter="url(#f01)"><g transform="translate(119.50 71.90)"><rect x="-2" y="-12" width="83" height="30" fill="#d6d6d6"/><ellipse cx="39.0" cy="3.0" rx="7.0" ry="3.5" fill="#ededed"/><ellipse cx="68.0" cy="3.5" rx="12.0" ry="4.5" fill="#a8a8a8"/><ellipse cx="71.0" cy="4.5" rx="6.0" ry="2.5" fill="#9e9e9e"/><ellipse cx="58.0" cy="-2.0" rx="6.0" ry="2.0" fill="#b8b8b8"/><ellipse cx="12.0" cy="7.0" rx="6.0" ry="3.0" fill="#cccccc"/><ellipse cx="12.0" cy="-0.5" rx="14.0" ry="3.2" fill="#4c4c4c"/><ellipse cx="6.0" cy="0.0" rx="2.0" ry="1.0" fill="#1f1f1f"/><ellipse cx="15.0" cy="-1.0" rx="2.0" ry="1.0" fill="#1f1f1f"/><ellipse cx="28.0" cy="-3.0" rx="4.0" ry="2.0" fill="#999999"/><ellipse cx="27.0" cy="7.0" rx="3.0" ry="1.5" fill="#ededed"/></g></g></g><path d="M128.6 76.7 L129.8 76.1 L131.3 76.0 L133.7 76.7 L136.0 77.1 L139.5 77.5 L141.5 78.2 L142.5 79.0 L143.9 78.9 L144.6 78.1 L146.3 77.6 L148.4 78.1 L149.9 78.9 L153.5 79.8 L155.9 81.0 L157.2 81.9 L158.5 82.5 L160.6 82.7 L163.2 82.9 L165.3 83.7 M170.3 82.8 L167.1 82.4 L164.6 82.3 L162.4 82.2 L160.7 81.7 L158.3 81.3 L156.9 80.8 L156.1 80.0 L155.7 79.3 L154.9 78.8 L156.4 78.6 L157.3 79.0 L159.7 78.9 L161.7 79.1 L164.0 79.4 L165.9 79.3 L167.5 79.7 L168.5 80.2 L169.1 80.1 L169.9 79.3 L169.8 78.6 L170.7 78.3 L172.0 77.5 L171.9 76.9 L170.9 76.3 L169.6 75.7 L167.4 75.1 L165.5 74.8 L163.0 74.7 L161.0 74.5 L158.6 74.0 L157.8 73.6 L157.7 73.0 L157.8 72.5 L158.5 71.7 L159.6 71.5 L160.9 71.4 L162.4 71.5 L163.4 71.8 L164.2 71.7 L163.3 71.1 L164.6 70.7 L165.9 70.2 L167.1 69.7 L168.1 69.4 L169.8 68.8 L171.1 68.3 L171.8 67.6 L172.5 66.8 L172.9 66.1 L172.1 65.4 L171.9 64.8 M163.5 73.2 L165.2 73.2 L166.2 72.6 L166.0 71.9 L164.8 71.7 L163.2 72.1 L162.4 72.7 L163.5 73.2 M156.0 84.9 L158.5 84.7 L160.2 84.4 L161.7 84.3" fill="none" stroke="#404040" stroke-width="0.3" stroke-opacity="0.35"/><g clip-path="url(#c012)"><g filter="url(#f01)"><g transform="translate(119.50 54.80)"><rect x="-2" y="-12" width="83" height="30" fill="#d6d6d6"/><ellipse cx="39.0" cy="3.0" rx="7.0" ry="3.5" fill="#ededed"/><ellipse cx="68.0" cy="3.5" rx="12.0" ry="4.5" fill="#a8a8a8"/><ellipse cx="71.0" cy="4.5" rx="6.0" ry="2.5" fill="#9e9e9e"/><ellipse cx="58.0" cy="-2.0" rx="6.0" ry="2.0" fill="#b8b8b8"/><ellipse cx="12.0" cy="7.0" rx="6.0" ry="3.0" fill="#cccccc"/><ellipse cx="10.0" cy="-0.5" rx="12.0" ry="3.0" fill="#545454"/><ellipse cx="6.0" cy="0.0" rx="2.0" ry="1.0" fill="#292929"/><ellipse cx="14.0" cy="-1.0" rx="2.0" ry="1.0" fill="#292929"/><ellipse cx="25.0" cy="-2.0" rx="4.0" ry="2.0" fill="#9e9e9e"/><ellipse cx="29.0" cy="11.0" rx="3.0" ry="1.5" fill="#ededed"/></g></g></g><path d="M128.6 59.6 L129.8 59.0 L131.3 58.9 L133.7 59.6 L136.0 60.0 L139.5 60.4 L141.5 61.1 L142.5 61.9 L143.9 61.8 L144.6 61.0 L146.3 60.5 L148.4 61.0 L149.9 61.8 L153.5 62.7 L155.9 63.9 L157.2 64.8 L158.5 65.4 L160.6 65.6 L163.2 65.8 L165.3 66.6 M170.3 65.7 L167.1 65.3 L164.6 65.2 L162.4 65.1 L160.7 64.6 L158.3 64.2 L156.9 63.7 L156.1 62.9 L155.7 62.2 L154.9 61.7 L156.4 61.5 L157.3 61.9 L159.7 61.8 L161.7 62.0 L164.0 62.3 L165.9 62.2 L167.5 62.6 L168.5 63.1 L169.1 63.0 L169.9 62.2 L169.8 61.5 L170.7 61.2 L172.0 60.4 L171.9 59.8 L170.9 59.2 L169.6 58.6 L167.4 58.0 L165.5 57.7 L163.0 57.6 L161.0 57.4 L158.6 56.9 L157.8 56.5 L157.7 55.9 L157.8 55.4 L158.5 54.6 L159.6 54.4 L160.9 54.3 L162.4 54.4 L163.4 54.7 L164.2 54.6 L163.3 54.0 L164.6 53.6 L165.9 53.1 L167.1 52.6 L168.1 52.3 L169.8 51.7 L171.1 51.2 L171.8 50.5 L172.5 49.7 L172.9 49.0 L172.1 48.3 L171.9 47.7 M163.5 56.1 L165.2 56.1 L166.2 55.5 L166.0 54.8 L164.8 54.6 L163.2 55.0 L162.4 55.6 L163.5 56.1 M156.0 67.8 L158.5 67.6 L160.2 67.3 L161.7 67.2" fill="none" stroke="#404040" stroke-width="0.3" stroke-opacity="0.35"/><g clip-path="url(#c011)"><g filter="url(#f01)"><g transform="translate(119.50 37.70)"><rect x="-2" y="-12" width="83" height="30" fill="#d6d6d6"/><ellipse cx="39.0" cy="3.0" rx="7.0" ry="3.5" fill="#ededed"/><ellipse cx="68.0" cy="3.5" rx="12.0" ry="4.5" fill="#a8a8a8"/><ellipse cx="71.0" cy="4.5" rx="6.0" ry="2.5" fill="#9e9e9e"/><ellipse cx="58.0" cy="-2.0" rx="6.0" ry="2.0" fill="#b8b8b8"/><ellipse cx="12.0" cy="7.0" rx="6.0" ry="3.0" fill="#cccccc"/><ellipse cx="4.0" cy="0.5" rx="6.0" ry="2.5" fill="#616161"/><ellipse cx="15.0" cy="-1.0" rx="8.0" ry="3.5" fill="#999999"/><ellipse cx="26.0" cy="-3.0" rx="4.0" ry="2.0" fill="#b2b2b2"/></g></g></g><path d="M128.6 42.5 L129.8 41.9 L131.3 41.8 L133.7 42.5 L136.0 42.9 L139.5 43.3 L141.5 44.0 L142.5 44.8 L143.9 44.7 L144.6 43.9 L146.3 43.4 L148.4 43.9 L149.9 44.7 L153.5 45.6 L155.9 46.8 L157.2 47.7 L158.5 48.3 L160.6 48.5 L163.2 48.7 L165.3 49.5 M170.3 48.6 L167.1 48.2 L164.6 48.1 L162.4 48.0 L160.7 47.5 L158.3 47.1 L156.9 46.6 L156.1 45.8 L155.7 45.1 L154.9 44.6 L156.4 44.4 L157.3 44.8 L159.7 44.7 L161.7 44.9 L164.0 45.2 L165.9 45.1 L167.5 45.5 L168.5 46.0 L169.1 45.9 L169.9 45.1 L169.8 44.4 L170.7 44.1 L172.0 43.3 L171.9 42.7 L170.9 42.1 L169.6 41.5 L167.4 40.9 L165.5 40.6 L163.0 40.5 L161.0 40.3 L158.6 39.8 L157.8 39.4 L157.7 38.8 L157.8 38.3 L158.5 37.5 L159.6 37.3 L160.9 37.2 L162.4 37.3 L163.4 37.6 L164.2 37.5 L163.3 36.9 L164.6 36.5 L165.9 36.0 L167.1 35.5 L168.1 35.2 L169.8 34.6 L171.1 34.1 L171.8 33.4 L172.5 32.6 L172.9 31.9 L172.1 31.2 L171.9 30.6 M163.5 39.0 L165.2 39.0 L166.2 38.4 L166.0 37.7 L164.8 37.5 L163.2 37.9 L162.4 38.5 L163.5 39.0 M156.0 50.7 L158.5 50.5 L160.2 50.2 L161.7 50.1" fill="none" stroke="#404040" stroke-width="0.3" stroke-opacity="0.35"/><g clip-path="url(#c010)"><g filter="url(#f01)"><g transform="translate(119.50 20.60)"><rect x="-2" y="-12" width="83" height="30" fill="#d6d6d6"/><ellipse cx="39.0" cy="3.0" rx="7.0" ry="3.5" fill="#ededed"/><ellipse cx="68.0" cy="3.5" rx="12.0" ry="4.5" fill="#a8a8a8"/><ellipse cx="71.0" cy="4.5" rx="6.0" ry="2.5" fill="#9e9e9e"/><ellipse cx="58.0" cy="-2.0" rx="6.0" ry="2.0" fill="#b8b8b8"/><ellipse cx="12.0" cy="7.0" rx="6.0" ry="3.0" fill="#cccccc"/><ellipse cx="3.0" cy="0.0" rx="4.0" ry="2.5" fill="#737373"/><ellipse cx="14.0" cy="-1.0" rx="9.0" ry="3.5" fill="#9e9e9e"/><ellipse cx="26.0" cy="-3.0" rx="4.0" ry="2.0" fill="#b8b8b8"/></g></g></g><path d="M128.6 25.4 L129.8 24.8 L131.3 24.7 L133.7 25.4 L136.0 25.8 L139.5 26.2 L141.5 26.9 L142.5 27.7 L143.9 27.6 L144.6 26.8 L146.3 26.3 L148.4 26.8 L149.9 27.6 L153.5 28.5 L155.9 29.7 L157.2 30.6 L158.5 31.2 L160.6 31.4 L163.2 31.6 L165.3 32.4 M170.3 31.5 L167.1 31.1 L164.6 31.0 L162.4 30.9 L160.7 30.4 L158.3 30.0 L156.9 29.5 L156.1 28.7 L155.7 28.0 L154.9 27.5 L156.4 27.3 L157.3 27.7 L159.7 27.6 L161.7 27.8 L164.0 28.1 L165.9 28.0 L167.5 28.4 L168.5 28.9 L169.1 28.8 L169.9 28.0 L169.8 27.3 L170.7 27.0 L172.0 26.2 L171.9 25.6 L170.9 25.0 L169.6 24.4 L167.4 23.8 L165.5 23.5 L163.0 23.4 L161.0 23.2 L158.6 22.7 L157.8 22.3 L157.7 21.7 L157.8 21.2 L158.5 20.4 L159.6 20.2 L160.9 20.1 L162.4 20.2 L163.4 20.5 L164.2 20.4 L163.3 19.8 L164.6 19.4 L165.9 18.9 L167.1 18.4 L168.1 18.1 L169.8 17.5 L171.1 17.0 L171.8 16.3 L172.5 15.5 L172.9 14.8 L172.1 14.1 L171.9 13.5 M163.5 21.9 L165.2 21.9 L166.2 21.3 L166.0 20.6 L164.8 20.4 L163.2 20.8 L162.4 21.4 L163.5 21.9 M156.0 33.6 L158.5 33.4 L160.2 33.1 L161.7 33.0" fill="none" stroke="#404040" stroke-width="0.3" stroke-opacity="0.35"/><rect x="119.20" y="109.20" width="78.40" height="3.8" fill="url(#gjet)"/><line x1="221.30" y1="21.00" x2="221.30" y2="89.40" stroke="#c4c4c4" stroke-width="0.5"/><line x1="301.40" y1="26.80" x2="301.40" y2="95.20" stroke="#c4c4c4" stroke-width="0.5"/><g clip-path="url(#c024)"><g filter="url(#f02)"><g transform="translate(221.50 89.40)"><rect x="-2" y="-12" width="83" height="30" fill="#7a7a7a"/><ellipse cx="51.6" cy="0.3" rx="2.4" ry="1.3" fill="#a6a6a6"/><ellipse cx="51.4" cy="8.8" rx="1.7" ry="1.4" fill="#c1c1c1"/><ellipse cx="58.0" cy="6.2" rx="1.4" ry="0.9" fill="#b5b5b5"/><ellipse cx="58.2" cy="5.6" rx="2.1" ry="1.0" fill="#a8a8a8"/><ellipse cx="27.5" cy="9.8" rx="1.7" ry="1.3" fill="#9f9f9f"/><ellipse cx="28.1" cy="1.3" rx="2.5" ry="1.5" fill="#5d5d5d"/><ellipse cx="44.5" cy="-5.4" rx="1.4" ry="1.0" fill="#646464"/><ellipse cx="46.8" cy="5.0" rx="1.2" ry="0.9" fill="#606060"/><ellipse cx="50.5" cy="-3.7" rx="1.4" ry="0.9" fill="#656565"/><ellipse cx="40.1" cy="4.7" rx="2.3" ry="1.5" fill="#616161"/><ellipse cx="7.5" cy="2.2" rx="4.0" ry="2.0" fill="#dbdbdb"/><ellipse cx="18.0" cy="-1.0" rx="8.0" ry="3.0" fill="#999999"/><ellipse cx="20.0" cy="3.0" rx="13.0" ry="4.5" fill="#999999"/><ellipse cx="46.0" cy="5.0" rx="6.0" ry="2.5" fill="#b8b8b8"/><ellipse cx="66.0" cy="9.0" rx="10.0" ry="3.5" fill="#5e5e5e"/><ellipse cx="34.0" cy="1.0" rx="4.0" ry="2.0" fill="#a3a3a3"/></g></g></g><path d="M230.7 94.1 L231.9 93.6 L233.5 93.5 L235.9 94.1 L238.2 94.5 L241.7 94.9 L243.7 95.6 L244.8 96.4 L246.2 96.3 L246.9 95.5 L248.6 95.0 L250.7 95.5 L252.2 96.2 L255.9 97.2 L258.4 98.3 L259.6 99.3 L261.0 99.8 L263.1 100.0 L265.7 100.2 L267.8 101.0 M272.9 100.1 L269.6 99.7 L267.1 99.6 L264.9 99.5 L263.2 99.0 L260.7 98.7 L259.4 98.1 L258.5 97.3 L258.1 96.7 L257.3 96.2 L258.8 95.9 L259.6 96.3 L262.1 96.3 L264.1 96.4 L266.5 96.8 L268.4 96.6 L269.9 97.1 L271.0 97.6 L271.6 97.4 L272.4 96.7 L272.2 95.9 L273.2 95.6 L274.5 94.8 L274.4 94.3 L273.3 93.7 L272.0 93.1 L269.8 92.5 L267.8 92.2 L265.3 92.1 L263.3 91.9 L260.9 91.4 L260.0 91.0 L259.9 90.4 L260.0 89.9 L260.7 89.1 L261.8 88.9 L263.2 88.8 L264.6 88.9 L265.6 89.2 L266.5 89.1 L265.6 88.5 L266.8 88.0 L268.1 87.5 L269.3 87.0 L270.4 86.7 L272.0 86.1 L273.3 85.7 L274.0 84.9 L274.7 84.1 L275.0 83.4 L274.2 82.7 L274.0 82.1 M265.8 90.6 L267.5 90.6 L268.5 90.0 L268.3 89.3 L267.0 89.1 L265.5 89.5 L264.7 90.1 L265.8 90.6 M258.5 102.2 L261.0 102.1 L262.7 101.8 L264.3 101.6" fill="none" stroke="#404040" stroke-width="0.3" stroke-opacity="0.45"/><g clip-path="url(#c023)"><g filter="url(#f02)"><g transform="translate(221.50 72.30)"><rect x="-2" y="-12" width="83" height="30" fill="#7a7a7a"/><ellipse cx="37.2" cy="2.4" rx="1.2" ry="0.9" fill="#d2d2d2"/><ellipse cx="42.9" cy="7.4" rx="1.3" ry="1.0" fill="#9f9f9f"/><ellipse cx="40.4" cy="10.8" rx="1.5" ry="1.0" fill="#c5c5c5"/><ellipse cx="15.3" cy="2.9" rx="2.2" ry="1.4" fill="#c2c2c2"/><ellipse cx="38.2" cy="2.0" rx="2.5" ry="1.7" fill="#a6a6a6"/><ellipse cx="34.6" cy="0.9" rx="1.8" ry="1.1" fill="#626262"/><ellipse cx="54.3" cy="6.0" rx="2.4" ry="1.9" fill="#656565"/><ellipse cx="34.9" cy="-5.0" rx="2.0" ry="1.1" fill="#656565"/><ellipse cx="35.0" cy="4.1" rx="2.3" ry="1.3" fill="#606060"/><ellipse cx="60.4" cy="3.8" rx="1.4" ry="0.9" fill="#666666"/><ellipse cx="7.5" cy="2.2" rx="4.0" ry="2.0" fill="#dbdbdb"/><ellipse cx="18.0" cy="-1.0" rx="8.0" ry="3.0" fill="#999999"/><ellipse cx="20.0" cy="3.0" rx="13.0" ry="4.5" fill="#999999"/><ellipse cx="28.0" cy="12.0" rx="3.0" ry="1.5" fill="#333333"/><ellipse cx="42.0" cy="6.0" rx="7.0" ry="3.0" fill="#b8b8b8"/><ellipse cx="62.0" cy="6.0" rx="10.0" ry="3.0" fill="#616161"/><ellipse cx="34.0" cy="1.0" rx="4.0" ry="2.0" fill="#a3a3a3"/></g></g></g><path d="M230.7 77.0 L231.9 76.5 L233.5 76.4 L235.9 77.0 L238.2 77.4 L241.7 77.8 L243.7 78.5 L244.8 79.3 L246.2 79.2 L246.9 78.4 L248.6 77.9 L250.7 78.4 L252.2 79.1 L255.9 80.1 L258.4 81.2 L259.6 82.2 L261.0 82.7 L263.1 82.9 L265.7 83.1 L267.8 83.9 M272.9 83.0 L269.6 82.6 L267.1 82.5 L264.9 82.4 L263.2 81.9 L260.7 81.6 L259.4 81.0 L258.5 80.2 L258.1 79.6 L257.3 79.1 L258.8 78.8 L259.6 79.2 L262.1 79.2 L264.1 79.3 L266.5 79.7 L268.4 79.5 L269.9 80.0 L271.0 80.5 L271.6 80.3 L272.4 79.6 L272.2 78.8 L273.2 78.5 L274.5 77.7 L274.4 77.2 L273.3 76.6 L272.0 76.0 L269.8 75.4 L267.8 75.1 L265.3 75.0 L263.3 74.8 L260.9 74.3 L260.0 73.9 L259.9 73.3 L260.0 72.8 L260.7 72.0 L261.8 71.8 L263.2 71.7 L264.6 71.8 L265.6 72.1 L266.5 72.0 L265.6 71.4 L266.8 70.9 L268.1 70.4 L269.3 69.9 L270.4 69.6 L272.0 69.0 L273.3 68.6 L274.0 67.8 L274.7 67.0 L275.0 66.3 L274.2 65.6 L274.0 65.0 M265.8 73.5 L267.5 73.5 L268.5 72.9 L268.3 72.2 L267.0 72.0 L265.5 72.4 L264.7 73.0 L265.8 73.5 M258.5 85.1 L261.0 85.0 L262.7 84.7 L264.3 84.5" fill="none" stroke="#404040" stroke-width="0.3" stroke-opacity="0.45"/><g clip-path="url(#c022)"><g filter="url(#f02)"><g transform="translate(221.50 55.20)"><rect x="-2" y="-12" width="83" height="30" fill="#7a7a7a"/><ellipse cx="33.9" cy="11.5" rx="2.0" ry="1.4" fill="#a5a5a5"/><ellipse cx="58.0" cy="5.9" rx="1.6" ry="1.1" fill="#9a9a9a"/><ellipse cx="50.7" cy="-1.5" rx="2.6" ry="1.6" fill="#9f9f9f"/><ellipse cx="28.6" cy="11.1" rx="2.5" ry="1.7" fill="#9e9e9e"/><ellipse cx="46.5" cy="1.0" rx="2.0" ry="1.1" fill="#a1a1a1"/><ellipse cx="30.6" cy="10.9" rx="1.9" ry="1.5" fill="#636363"/><ellipse cx="15.9" cy="0.2" rx="2.2" ry="1.5" fill="#636363"/><ellipse cx="49.8" cy="6.1" rx="1.7" ry="1.2" fill="#636363"/><ellipse cx="17.7" cy="0.9" rx="2.6" ry="1.5" fill="#5d5d5d"/><ellipse cx="32.5" cy="-3.2" rx="1.9" ry="1.3" fill="#626262"/><ellipse cx="7.5" cy="2.2" rx="4.0" ry="2.0" fill="#dbdbdb"/><ellipse cx="18.0" cy="-1.0" rx="8.0" ry="3.0" fill="#999999"/><ellipse cx="20.0" cy="2.0" rx="12.0" ry="4.0" fill="#999999"/><ellipse cx="43.0" cy="6.0" rx="9.0" ry="4.0" fill="#adadad" transform="rotate(124 43.0 6.0)"/><ellipse cx="30.0" cy="8.0" rx="3.5" ry="2.0" fill="#292929"/><ellipse cx="43.0" cy="6.0" rx="7.0" ry="2.4" fill="#c2c2c2" transform="rotate(124 43.0 6.0)"/><ellipse cx="60.0" cy="6.0" rx="9.0" ry="3.0" fill="#616161"/><ellipse cx="35.0" cy="12.0" rx="5.0" ry="2.0" fill="#999999"/></g></g></g><path d="M230.7 59.9 L231.9 59.4 L233.5 59.3 L235.9 59.9 L238.2 60.3 L241.7 60.7 L243.7 61.4 L244.8 62.2 L246.2 62.1 L246.9 61.3 L248.6 60.8 L250.7 61.3 L252.2 62.0 L255.9 63.0 L258.4 64.1 L259.6 65.1 L261.0 65.6 L263.1 65.8 L265.7 66.0 L267.8 66.8 M272.9 65.9 L269.6 65.5 L267.1 65.4 L264.9 65.3 L263.2 64.8 L260.7 64.5 L259.4 63.9 L258.5 63.1 L258.1 62.5 L257.3 62.0 L258.8 61.7 L259.6 62.1 L262.1 62.1 L264.1 62.2 L266.5 62.6 L268.4 62.4 L269.9 62.9 L271.0 63.4 L271.6 63.2 L272.4 62.5 L272.2 61.7 L273.2 61.4 L274.5 60.6 L274.4 60.1 L273.3 59.5 L272.0 58.9 L269.8 58.3 L267.8 58.0 L265.3 57.9 L263.3 57.7 L260.9 57.2 L260.0 56.8 L259.9 56.2 L260.0 55.7 L260.7 54.9 L261.8 54.7 L263.2 54.6 L264.6 54.7 L265.6 55.0 L266.5 54.9 L265.6 54.3 L266.8 53.8 L268.1 53.3 L269.3 52.8 L270.4 52.5 L272.0 51.9 L273.3 51.5 L274.0 50.7 L274.7 49.9 L275.0 49.2 L274.2 48.5 L274.0 47.9 M265.8 56.4 L267.5 56.4 L268.5 55.8 L268.3 55.1 L267.0 54.9 L265.5 55.3 L264.7 55.9 L265.8 56.4 M258.5 68.0 L261.0 67.9 L262.7 67.6 L264.3 67.4" fill="none" stroke="#404040" stroke-width="0.3" stroke-opacity="0.45"/><g clip-path="url(#c021)"><g filter="url(#f02)"><g transform="translate(221.50 38.10)"><rect x="-2" y="-12" width="83" height="30" fill="#7a7a7a"/><ellipse cx="32.0" cy="-1.6" rx="1.8" ry="1.1" fill="#9d9d9d"/><ellipse cx="24.8" cy="-1.6" rx="1.8" ry="1.3" fill="#b8b8b8"/><ellipse cx="44.5" cy="-6.7" rx="2.0" ry="1.2" fill="#b7b7b7"/><ellipse cx="17.4" cy="4.2" rx="1.8" ry="0.9" fill="#a6a6a6"/><ellipse cx="22.1" cy="4.8" rx="2.5" ry="1.3" fill="#dbdbdb"/><ellipse cx="33.8" cy="-0.2" rx="2.4" ry="1.8" fill="#646464"/><ellipse cx="64.7" cy="1.9" rx="1.2" ry="0.8" fill="#656565"/><ellipse cx="18.2" cy="4.8" rx="1.7" ry="0.9" fill="#636363"/><ellipse cx="17.2" cy="5.0" rx="2.1" ry="1.3" fill="#5e5e5e"/><ellipse cx="28.5" cy="12.2" rx="2.2" ry="1.5" fill="#5d5d5d"/><ellipse cx="7.5" cy="2.2" rx="4.0" ry="2.0" fill="#dbdbdb"/><ellipse cx="18.0" cy="-1.0" rx="8.0" ry="3.0" fill="#999999"/><ellipse cx="42.4" cy="4.0" rx="10.0" ry="4.5" fill="#b2b2b2" transform="rotate(124 42.4 4.0)"/><ellipse cx="33.0" cy="8.0" rx="4.5" ry="2.0" fill="#1a1a1a" transform="rotate(20 33.0 8.0)"/><ellipse cx="42.4" cy="4.0" rx="8.0" ry="2.6" fill="#e0e0e0" transform="rotate(124 42.4 4.0)"/><ellipse cx="57.0" cy="7.0" rx="6.0" ry="2.5" fill="#595959"/><ellipse cx="60.0" cy="3.0" rx="5.0" ry="2.0" fill="#8c8c8c"/><ellipse cx="35.0" cy="12.5" rx="6.0" ry="2.0" fill="#999999"/><ellipse cx="45.0" cy="-4.0" rx="5.0" ry="2.0" fill="#8c8c8c"/></g></g></g><path d="M230.7 42.8 L231.9 42.3 L233.5 42.2 L235.9 42.8 L238.2 43.2 L241.7 43.6 L243.7 44.3 L244.8 45.1 L246.2 45.0 L246.9 44.2 L248.6 43.7 L250.7 44.2 L252.2 44.9 L255.9 45.9 L258.4 47.0 L259.6 48.0 L261.0 48.5 L263.1 48.7 L265.7 48.9 L267.8 49.7 M272.9 48.8 L269.6 48.4 L267.1 48.3 L264.9 48.2 L263.2 47.7 L260.7 47.4 L259.4 46.8 L258.5 46.0 L258.1 45.4 L257.3 44.9 L258.8 44.6 L259.6 45.0 L262.1 45.0 L264.1 45.1 L266.5 45.5 L268.4 45.3 L269.9 45.8 L271.0 46.3 L271.6 46.1 L272.4 45.4 L272.2 44.6 L273.2 44.3 L274.5 43.5 L274.4 43.0 L273.3 42.4 L272.0 41.8 L269.8 41.2 L267.8 40.9 L265.3 40.8 L263.3 40.6 L260.9 40.1 L260.0 39.7 L259.9 39.1 L260.0 38.6 L260.7 37.8 L261.8 37.6 L263.2 37.5 L264.6 37.6 L265.6 37.9 L266.5 37.8 L265.6 37.2 L266.8 36.7 L268.1 36.2 L269.3 35.7 L270.4 35.4 L272.0 34.8 L273.3 34.4 L274.0 33.6 L274.7 32.8 L275.0 32.1 L274.2 31.4 L274.0 30.8 M265.8 39.3 L267.5 39.3 L268.5 38.7 L268.3 38.0 L267.0 37.8 L265.5 38.2 L264.7 38.8 L265.8 39.3 M258.5 50.9 L261.0 50.8 L262.7 50.5 L264.3 50.3" fill="none" stroke="#404040" stroke-width="0.3" stroke-opacity="0.45"/><g clip-path="url(#c020)"><g filter="url(#f02)"><g transform="translate(221.50 21.00)"><rect x="-2" y="-12" width="83" height="30" fill="#7a7a7a"/><ellipse cx="20.9" cy="5.5" rx="2.3" ry="1.6" fill="#9c9c9c"/><ellipse cx="33.5" cy="4.3" rx="1.8" ry="1.1" fill="#9e9e9e"/><ellipse cx="25.2" cy="9.8" rx="1.4" ry="0.8" fill="#a2a2a2"/><ellipse cx="52.0" cy="1.0" rx="1.8" ry="1.0" fill="#b3b3b3"/><ellipse cx="31.8" cy="11.1" rx="1.5" ry="0.9" fill="#c5c5c5"/><ellipse cx="56.6" cy="0.5" rx="1.3" ry="0.9" fill="#5e5e5e"/><ellipse cx="34.9" cy="-2.1" rx="2.5" ry="1.9" fill="#666666"/><ellipse cx="26.4" cy="3.6" rx="1.4" ry="0.8" fill="#646464"/><ellipse cx="18.0" cy="4.1" rx="1.4" ry="0.7" fill="#5f5f5f"/><ellipse cx="61.5" cy="-0.1" rx="1.7" ry="1.1" fill="#5d5d5d"/><ellipse cx="7.5" cy="2.2" rx="4.0" ry="2.0" fill="#dbdbdb"/><ellipse cx="18.0" cy="-1.0" rx="8.0" ry="3.0" fill="#999999"/><ellipse cx="40.0" cy="-2.7" rx="5.0" ry="1.2" fill="#b8b8b8" transform="rotate(-10 40.0 -2.7)"/><ellipse cx="43.0" cy="4.0" rx="13.0" ry="5.0" fill="#b2b2b2" transform="rotate(124 43.0 4.0)"/><ellipse cx="35.6" cy="5.0" rx="4.0" ry="2.0" fill="#333333" transform="rotate(30 35.6 5.0)"/><ellipse cx="43.0" cy="4.0" rx="11.0" ry="3.0" fill="#dbdbdb" transform="rotate(124 43.0 4.0)"/><ellipse cx="42.0" cy="5.0" rx="6.0" ry="1.2" fill="#f2f2f2" transform="rotate(124 42.0 5.0)"/><ellipse cx="30.0" cy="12.3" rx="2.5" ry="1.5" fill="#cccccc"/><ellipse cx="57.0" cy="7.0" rx="6.0" ry="2.5" fill="#595959"/><ellipse cx="53.0" cy="1.0" rx="4.0" ry="2.0" fill="#8c8c8c"/></g></g></g><path d="M230.7 25.7 L231.9 25.2 L233.5 25.1 L235.9 25.7 L238.2 26.1 L241.7 26.5 L243.7 27.2 L244.8 28.0 L246.2 27.9 L246.9 27.1 L248.6 26.6 L250.7 27.1 L252.2 27.8 L255.9 28.8 L258.4 29.9 L259.6 30.9 L261.0 31.4 L263.1 31.6 L265.7 31.8 L267.8 32.6 M272.9 31.7 L269.6 31.3 L267.1 31.2 L264.9 31.1 L263.2 30.6 L260.7 30.3 L259.4 29.7 L258.5 28.9 L258.1 28.3 L257.3 27.8 L258.8 27.5 L259.6 27.9 L262.1 27.9 L264.1 28.0 L266.5 28.4 L268.4 28.2 L269.9 28.7 L271.0 29.2 L271.6 29.0 L272.4 28.3 L272.2 27.5 L273.2 27.2 L274.5 26.4 L274.4 25.9 L273.3 25.3 L272.0 24.7 L269.8 24.1 L267.8 23.8 L265.3 23.7 L263.3 23.5 L260.9 23.0 L260.0 22.6 L259.9 22.0 L260.0 21.5 L260.7 20.7 L261.8 20.5 L263.2 20.4 L264.6 20.5 L265.6 20.8 L266.5 20.7 L265.6 20.1 L266.8 19.6 L268.1 19.1 L269.3 18.6 L270.4 18.3 L272.0 17.7 L273.3 17.3 L274.0 16.5 L274.7 15.7 L275.0 15.0 L274.2 14.3 L274.0 13.7 M265.8 22.2 L267.5 22.2 L268.5 21.6 L268.3 20.9 L267.0 20.7 L265.5 21.1 L264.7 21.7 L265.8 22.2 M258.5 33.8 L261.0 33.7 L262.7 33.4 L264.3 33.2" fill="none" stroke="#404040" stroke-width="0.3" stroke-opacity="0.45"/><rect x="221.70" y="109.20" width="78.90" height="3.8" fill="url(#gjet)"/><line x1="323.30" y1="21.00" x2="323.30" y2="89.40" stroke="#c4c4c4" stroke-width="0.5"/><line x1="402.90" y1="26.30" x2="402.90" y2="94.70" stroke="#c4c4c4" stroke-width="0.5"/><g clip-path="url(#c034)"><g filter="url(#f03)"><g transform="translate(323.50 89.40)"><rect x="-2" y="-12" width="83" height="30" fill="#7a7a7a"/><ellipse cx="57.8" cy="2.6" rx="1.5" ry="0.9" fill="#9f9f9f"/><ellipse cx="54.0" cy="-4.5" rx="1.6" ry="1.0" fill="#9b9b9b"/><ellipse cx="26.5" cy="4.7" rx="1.5" ry="0.8" fill="#9b9b9b"/><ellipse cx="58.5" cy="1.2" rx="1.7" ry="0.9" fill="#a6a6a6"/><ellipse cx="60.3" cy="8.1" rx="1.2" ry="0.9" fill="#b9b9b9"/><ellipse cx="47.3" cy="3.8" rx="2.2" ry="1.2" fill="#b6b6b6"/><ellipse cx="47.8" cy="3.7" rx="2.5" ry="1.8" fill="#c2c2c2"/><ellipse cx="24.4" cy="-2.7" rx="1.2" ry="0.9" fill="#d7d7d7"/><ellipse cx="48.6" cy="-3.4" rx="2.6" ry="1.8" fill="#9f9f9f"/><ellipse cx="27.8" cy="8.9" rx="1.3" ry="0.9" fill="#a5a5a5"/><ellipse cx="37.1" cy="5.9" rx="2.3" ry="1.8" fill="#bfbfbf"/><ellipse cx="55.9" cy="2.4" rx="1.6" ry="0.8" fill="#9b9b9b"/><ellipse cx="43.0" cy="-4.2" rx="2.5" ry="2.0" fill="#9f9f9f"/><ellipse cx="27.7" cy="6.2" rx="1.3" ry="0.8" fill="#bdbdbd"/><ellipse cx="53.2" cy="8.7" rx="1.4" ry="0.7" fill="#b6b6b6"/><ellipse cx="42.0" cy="8.3" rx="1.9" ry="1.5" fill="#cfcfcf"/><ellipse cx="17.2" cy="1.2" rx="2.1" ry="1.5" fill="#a1a1a1"/><ellipse cx="71.5" cy="6.3" rx="1.9" ry="1.0" fill="#999999"/><ellipse cx="15.8" cy="-0.3" rx="2.5" ry="1.7" fill="#a2a2a2"/><ellipse cx="20.9" cy="2.4" rx="2.0" ry="1.6" fill="#a7a7a7"/><ellipse cx="47.8" cy="-4.0" rx="2.3" ry="1.4" fill="#636363"/><ellipse cx="50.7" cy="-4.0" rx="2.3" ry="1.8" fill="#606060"/><ellipse cx="19.5" cy="6.1" rx="2.6" ry="1.9" fill="#5d5d5d"/><ellipse cx="28.9" cy="9.9" rx="2.6" ry="1.6" fill="#606060"/><ellipse cx="65.0" cy="6.0" rx="12.0" ry="5.0" fill="#b2b2b2"/><ellipse cx="65.0" cy="6.0" rx="8.0" ry="3.5" fill="#cccccc"/><ellipse cx="38.0" cy="5.5" rx="6.0" ry="3.0" fill="#404040"/><ellipse cx="38.0" cy="5.5" rx="2.5" ry="1.2" fill="#1a1a1a"/><ellipse cx="17.0" cy="6.5" rx="7.0" ry="3.0" fill="#b8b8b8"/><ellipse cx="14.0" cy="6.0" rx="2.0" ry="1.0" fill="#dbdbdb"/><ellipse cx="52.0" cy="10.0" rx="5.0" ry="2.0" fill="#9e9e9e"/></g></g></g><path d="M332.7 94.0 L333.9 93.5 L335.5 93.4 L338.0 94.1 L340.3 94.5 L343.8 94.9 L345.8 95.5 L346.8 96.3 L348.2 96.2 L349.0 95.4 L350.7 94.9 L352.8 95.4 L354.3 96.1 L357.9 97.0 L360.4 98.1 L361.6 99.1 L362.9 99.6 L365.0 99.8 L367.6 99.9 L369.7 100.7 M374.7 99.8 L371.5 99.5 L369.0 99.4 L366.8 99.3 L365.2 98.8 L362.7 98.5 L361.4 98.0 L360.5 97.2 L360.1 96.6 L359.4 96.1 L360.9 95.8 L361.7 96.2 L364.1 96.2 L366.1 96.3 L368.4 96.6 L370.3 96.4 L371.9 96.8 L372.9 97.4 L373.5 97.2 L374.3 96.5 L374.2 95.7 L375.1 95.4 L376.5 94.7 L376.4 94.1 L375.4 93.6 L374.1 93.0 L371.9 92.4 L370.0 92.2 L367.5 92.1 L365.6 91.9 L363.1 91.5 L362.3 91.1 L362.3 90.5 L362.4 90.0 L363.2 89.3 L364.2 89.0 L365.6 89.0 L367.0 89.1 L368.1 89.4 L368.9 89.2 L368.0 88.7 L369.4 88.3 L370.7 87.8 L371.9 87.3 L373.0 87.1 L374.7 86.5 L376.1 86.0 L376.8 85.3 L377.6 84.6 L378.0 84.0 L377.3 83.3 L377.2 82.8 M368.1 90.7 L369.8 90.6 L370.9 90.1 L370.7 89.4 L369.5 89.3 L367.9 89.6 L367.1 90.2 L368.1 90.7 M360.5 101.9 L362.9 101.8 L364.6 101.5 L366.2 101.4" fill="none" stroke="#404040" stroke-width="0.3" stroke-opacity="0.45"/><g clip-path="url(#c033)"><g filter="url(#f03)"><g transform="translate(323.50 72.30)"><rect x="-2" y="-12" width="83" height="30" fill="#7a7a7a"/><ellipse cx="53.0" cy="-3.9" rx="1.3" ry="0.7" fill="#a7a7a7"/><ellipse cx="42.0" cy="-1.8" rx="2.3" ry="1.3" fill="#9f9f9f"/><ellipse cx="59.1" cy="3.0" rx="1.3" ry="0.9" fill="#a0a0a0"/><ellipse cx="26.0" cy="-2.6" rx="1.6" ry="1.0" fill="#a8a8a8"/><ellipse cx="57.0" cy="1.3" rx="1.2" ry="1.0" fill="#9d9d9d"/><ellipse cx="34.9" cy="7.6" rx="1.8" ry="1.2" fill="#a4a4a4"/><ellipse cx="22.9" cy="8.1" rx="1.7" ry="1.1" fill="#a3a3a3"/><ellipse cx="53.6" cy="-2.8" rx="1.5" ry="0.9" fill="#a5a5a5"/><ellipse cx="41.3" cy="5.9" rx="1.4" ry="0.9" fill="#b8b8b8"/><ellipse cx="36.9" cy="11.3" rx="1.5" ry="0.9" fill="#c4c4c4"/><ellipse cx="41.0" cy="-5.4" rx="1.7" ry="1.3" fill="#a5a5a5"/><ellipse cx="48.7" cy="6.0" rx="1.8" ry="0.9" fill="#a6a6a6"/><ellipse cx="29.1" cy="6.2" rx="1.5" ry="0.8" fill="#9d9d9d"/><ellipse cx="32.3" cy="-0.0" rx="1.3" ry="0.8" fill="#b5b5b5"/><ellipse cx="47.8" cy="4.5" rx="1.3" ry="0.9" fill="#b4b4b4"/><ellipse cx="39.1" cy="-2.5" rx="2.0" ry="1.6" fill="#c1c1c1"/><ellipse cx="37.7" cy="2.6" rx="2.1" ry="1.3" fill="#a8a8a8"/><ellipse cx="46.5" cy="5.0" rx="1.8" ry="1.0" fill="#a5a5a5"/><ellipse cx="36.4" cy="-0.4" rx="2.0" ry="1.3" fill="#a5a5a5"/><ellipse cx="40.1" cy="6.0" rx="2.1" ry="1.6" fill="#a1a1a1"/><ellipse cx="57.6" cy="1.3" rx="1.7" ry="1.3" fill="#606060"/><ellipse cx="44.1" cy="1.3" rx="2.2" ry="1.6" fill="#636363"/><ellipse cx="30.9" cy="4.8" rx="1.8" ry="1.1" fill="#5d5d5d"/><ellipse cx="52.6" cy="-2.6" rx="2.4" ry="1.7" fill="#5f5f5f"/><ellipse cx="64.0" cy="4.0" rx="12.0" ry="5.5" fill="#b8b8b8"/><ellipse cx="64.0" cy="4.0" rx="9.0" ry="4.0" fill="#d1d1d1"/><ellipse cx="39.0" cy="5.0" rx="6.0" ry="3.0" fill="#474747"/><ellipse cx="19.0" cy="5.5" rx="5.0" ry="2.5" fill="#bfbfbf"/><ellipse cx="50.0" cy="9.0" rx="4.0" ry="2.0" fill="#9e9e9e"/><ellipse cx="30.0" cy="13.0" rx="7.0" ry="2.0" fill="#999999"/></g></g></g><path d="M332.7 76.9 L333.9 76.4 L335.5 76.3 L338.0 77.0 L340.3 77.4 L343.8 77.8 L345.8 78.4 L346.8 79.2 L348.2 79.1 L349.0 78.3 L350.7 77.8 L352.8 78.3 L354.3 79.0 L357.9 79.9 L360.4 81.0 L361.6 82.0 L362.9 82.5 L365.0 82.7 L367.6 82.8 L369.7 83.6 M374.7 82.7 L371.5 82.4 L369.0 82.3 L366.8 82.2 L365.2 81.7 L362.7 81.4 L361.4 80.9 L360.5 80.1 L360.1 79.5 L359.4 79.0 L360.9 78.7 L361.7 79.1 L364.1 79.1 L366.1 79.2 L368.4 79.5 L370.3 79.3 L371.9 79.7 L372.9 80.3 L373.5 80.1 L374.3 79.4 L374.2 78.6 L375.1 78.3 L376.5 77.6 L376.4 77.0 L375.4 76.5 L374.1 75.9 L371.9 75.3 L370.0 75.1 L367.5 75.0 L365.6 74.8 L363.1 74.4 L362.3 74.0 L362.3 73.4 L362.4 72.9 L363.2 72.2 L364.2 71.9 L365.6 71.9 L367.0 72.0 L368.1 72.3 L368.9 72.1 L368.0 71.6 L369.4 71.2 L370.7 70.7 L371.9 70.2 L373.0 70.0 L374.7 69.4 L376.1 68.9 L376.8 68.2 L377.6 67.5 L378.0 66.9 L377.3 66.2 L377.2 65.7 M368.1 73.6 L369.8 73.5 L370.9 73.0 L370.7 72.3 L369.5 72.2 L367.9 72.5 L367.1 73.1 L368.1 73.6 M360.5 84.8 L362.9 84.7 L364.6 84.4 L366.2 84.3" fill="none" stroke="#404040" stroke-width="0.3" stroke-opacity="0.45"/><g clip-path="url(#c032)"><g filter="url(#f03)"><g transform="translate(323.50 55.20)"><rect x="-2" y="-12" width="83" height="30" fill="#7a7a7a"/><ellipse cx="35.7" cy="4.6" rx="1.8" ry="1.3" fill="#b9b9b9"/><ellipse cx="15.8" cy="4.6" rx="1.4" ry="0.8" fill="#9f9f9f"/><ellipse cx="48.6" cy="-6.4" rx="2.3" ry="1.3" fill="#bebebe"/><ellipse cx="24.7" cy="3.2" rx="1.5" ry="1.0" fill="#a5a5a5"/><ellipse cx="13.3" cy="1.2" rx="2.4" ry="1.7" fill="#bebebe"/><ellipse cx="45.2" cy="1.6" rx="1.3" ry="0.9" fill="#d7d7d7"/><ellipse cx="23.1" cy="8.1" rx="1.5" ry="1.1" fill="#a1a1a1"/><ellipse cx="28.0" cy="6.8" rx="2.2" ry="1.3" fill="#a8a8a8"/><ellipse cx="33.8" cy="10.3" rx="1.8" ry="1.3" fill="#9f9f9f"/><ellipse cx="56.2" cy="-1.5" rx="1.7" ry="1.3" fill="#a6a6a6"/><ellipse cx="48.9" cy="-3.1" rx="1.9" ry="1.3" fill="#a0a0a0"/><ellipse cx="12.5" cy="-0.4" rx="1.8" ry="1.0" fill="#a5a5a5"/><ellipse cx="68.5" cy="2.8" rx="1.2" ry="0.7" fill="#c1c1c1"/><ellipse cx="46.8" cy="9.0" rx="1.4" ry="0.9" fill="#bdbdbd"/><ellipse cx="28.6" cy="10.6" rx="1.3" ry="0.8" fill="#a1a1a1"/><ellipse cx="25.2" cy="7.3" rx="1.4" ry="0.8" fill="#d8d8d8"/><ellipse cx="48.7" cy="-2.9" rx="2.0" ry="1.4" fill="#a1a1a1"/><ellipse cx="37.0" cy="3.9" rx="1.9" ry="1.2" fill="#bfbfbf"/><ellipse cx="52.3" cy="0.3" rx="1.4" ry="0.7" fill="#9c9c9c"/><ellipse cx="44.1" cy="-0.1" rx="2.4" ry="1.4" fill="#a7a7a7"/><ellipse cx="43.6" cy="0.7" rx="1.4" ry="0.9" fill="#5e5e5e"/><ellipse cx="34.4" cy="3.3" rx="2.5" ry="1.3" fill="#5f5f5f"/><ellipse cx="41.4" cy="11.4" rx="2.1" ry="1.4" fill="#606060"/><ellipse cx="16.8" cy="6.5" rx="1.7" ry="1.3" fill="#5e5e5e"/><ellipse cx="64.0" cy="5.0" rx="13.0" ry="6.0" fill="#b8b8b8"/><ellipse cx="64.0" cy="5.0" rx="10.5" ry="4.5" fill="#d6d6d6"/><ellipse cx="42.0" cy="-3.5" rx="8.0" ry="1.8" fill="#262626" transform="rotate(-10 42.0 -3.5)"/><ellipse cx="41.0" cy="4.0" rx="7.0" ry="2.0" fill="#2e2e2e" transform="rotate(116 41.0 4.0)"/><ellipse cx="24.0" cy="4.0" rx="4.0" ry="1.5" fill="#bfbfbf"/><ellipse cx="75.0" cy="7.0" rx="4.0" ry="1.5" fill="#b2b2b2"/></g></g></g><path d="M332.7 59.8 L333.9 59.3 L335.5 59.2 L338.0 59.9 L340.3 60.3 L343.8 60.7 L345.8 61.3 L346.8 62.1 L348.2 62.0 L349.0 61.2 L350.7 60.7 L352.8 61.2 L354.3 61.9 L357.9 62.8 L360.4 63.9 L361.6 64.9 L362.9 65.4 L365.0 65.6 L367.6 65.7 L369.7 66.5 M374.7 65.6 L371.5 65.3 L369.0 65.2 L366.8 65.1 L365.2 64.6 L362.7 64.3 L361.4 63.8 L360.5 63.0 L360.1 62.4 L359.4 61.9 L360.9 61.6 L361.7 62.0 L364.1 62.0 L366.1 62.1 L368.4 62.4 L370.3 62.2 L371.9 62.6 L372.9 63.2 L373.5 63.0 L374.3 62.3 L374.2 61.5 L375.1 61.2 L376.5 60.5 L376.4 59.9 L375.4 59.4 L374.1 58.8 L371.9 58.2 L370.0 58.0 L367.5 57.9 L365.6 57.7 L363.1 57.3 L362.3 56.9 L362.3 56.3 L362.4 55.8 L363.2 55.1 L364.2 54.8 L365.6 54.8 L367.0 54.9 L368.1 55.2 L368.9 55.0 L368.0 54.5 L369.4 54.1 L370.7 53.6 L371.9 53.1 L373.0 52.9 L374.7 52.3 L376.1 51.8 L376.8 51.1 L377.6 50.4 L378.0 49.8 L377.3 49.1 L377.2 48.6 M368.1 56.5 L369.8 56.4 L370.9 55.9 L370.7 55.2 L369.5 55.1 L367.9 55.4 L367.1 56.0 L368.1 56.5 M360.5 67.7 L362.9 67.6 L364.6 67.3 L366.2 67.2" fill="none" stroke="#404040" stroke-width="0.3" stroke-opacity="0.45"/><g clip-path="url(#c031)"><g filter="url(#f03)"><g transform="translate(323.50 38.10)"><rect x="-2" y="-12" width="83" height="30" fill="#7a7a7a"/><ellipse cx="50.1" cy="2.4" rx="1.6" ry="0.8" fill="#d9d9d9"/><ellipse cx="50.4" cy="-0.7" rx="2.3" ry="1.5" fill="#b8b8b8"/><ellipse cx="49.7" cy="-6.1" rx="2.5" ry="1.4" fill="#cfcfcf"/><ellipse cx="48.3" cy="5.2" rx="2.3" ry="1.8" fill="#a4a4a4"/><ellipse cx="51.2" cy="3.3" rx="1.4" ry="0.9" fill="#9c9c9c"/><ellipse cx="43.7" cy="6.1" rx="2.1" ry="1.2" fill="#9e9e9e"/><ellipse cx="42.9" cy="2.2" rx="2.6" ry="1.5" fill="#b4b4b4"/><ellipse cx="25.7" cy="2.8" rx="2.3" ry="1.2" fill="#b9b9b9"/><ellipse cx="26.7" cy="5.5" rx="1.9" ry="1.2" fill="#b8b8b8"/><ellipse cx="37.7" cy="-2.4" rx="1.5" ry="0.9" fill="#c1c1c1"/><ellipse cx="56.0" cy="-2.3" rx="1.5" ry="1.0" fill="#9e9e9e"/><ellipse cx="69.2" cy="6.4" rx="1.4" ry="0.9" fill="#9c9c9c"/><ellipse cx="27.2" cy="9.1" rx="1.4" ry="0.9" fill="#a5a5a5"/><ellipse cx="44.4" cy="-5.7" rx="1.3" ry="1.0" fill="#a6a6a6"/><ellipse cx="57.7" cy="4.4" rx="1.8" ry="1.2" fill="#b4b4b4"/><ellipse cx="31.2" cy="2.2" rx="2.3" ry="1.8" fill="#a8a8a8"/><ellipse cx="65.0" cy="6.6" rx="1.8" ry="1.1" fill="#a7a7a7"/><ellipse cx="57.6" cy="3.3" rx="2.3" ry="1.2" fill="#dadada"/><ellipse cx="46.6" cy="-0.3" rx="1.7" ry="1.0" fill="#b9b9b9"/><ellipse cx="53.8" cy="5.0" rx="1.6" ry="1.0" fill="#cecece"/><ellipse cx="10.3" cy="2.1" rx="1.2" ry="0.8" fill="#5e5e5e"/><ellipse cx="16.3" cy="1.4" rx="1.7" ry="1.4" fill="#636363"/><ellipse cx="28.0" cy="1.1" rx="1.3" ry="0.8" fill="#606060"/><ellipse cx="32.3" cy="2.2" rx="1.7" ry="1.1" fill="#656565"/><ellipse cx="64.0" cy="4.5" rx="13.0" ry="6.5" fill="#b8b8b8"/><ellipse cx="64.0" cy="4.5" rx="11.0" ry="5.0" fill="#d9d9d9"/><ellipse cx="61.0" cy="5.0" rx="4.0" ry="2.0" fill="#ebebeb"/><ellipse cx="42.0" cy="-2.7" rx="8.0" ry="1.8" fill="#212121" transform="rotate(-10 42.0 -2.7)"/><ellipse cx="41.0" cy="4.0" rx="8.0" ry="2.0" fill="#1f1f1f" transform="rotate(116 41.0 4.0)"/><ellipse cx="30.0" cy="8.0" rx="2.0" ry="1.2" fill="#cccccc"/><ellipse cx="20.0" cy="1.8" rx="2.0" ry="1.2" fill="#cccccc"/><ellipse cx="75.0" cy="7.0" rx="4.0" ry="1.5" fill="#b2b2b2"/></g></g></g><path d="M332.7 42.7 L333.9 42.2 L335.5 42.1 L338.0 42.8 L340.3 43.2 L343.8 43.6 L345.8 44.2 L346.8 45.0 L348.2 44.9 L349.0 44.1 L350.7 43.6 L352.8 44.1 L354.3 44.8 L357.9 45.7 L360.4 46.8 L361.6 47.8 L362.9 48.3 L365.0 48.5 L367.6 48.6 L369.7 49.4 M374.7 48.5 L371.5 48.2 L369.0 48.1 L366.8 48.0 L365.2 47.5 L362.7 47.2 L361.4 46.7 L360.5 45.9 L360.1 45.3 L359.4 44.8 L360.9 44.5 L361.7 44.9 L364.1 44.9 L366.1 45.0 L368.4 45.3 L370.3 45.1 L371.9 45.5 L372.9 46.1 L373.5 45.9 L374.3 45.2 L374.2 44.4 L375.1 44.1 L376.5 43.4 L376.4 42.8 L375.4 42.3 L374.1 41.7 L371.9 41.1 L370.0 40.9 L367.5 40.8 L365.6 40.6 L363.1 40.2 L362.3 39.8 L362.3 39.2 L362.4 38.7 L363.2 38.0 L364.2 37.7 L365.6 37.7 L367.0 37.8 L368.1 38.1 L368.9 37.9 L368.0 37.4 L369.4 37.0 L370.7 36.5 L371.9 36.0 L373.0 35.8 L374.7 35.2 L376.1 34.7 L376.8 34.0 L377.6 33.3 L378.0 32.7 L377.3 32.0 L377.2 31.5 M368.1 39.4 L369.8 39.3 L370.9 38.8 L370.7 38.1 L369.5 38.0 L367.9 38.3 L367.1 38.9 L368.1 39.4 M360.5 50.6 L362.9 50.5 L364.6 50.2 L366.2 50.1" fill="none" stroke="#404040" stroke-width="0.3" stroke-opacity="0.45"/><g clip-path="url(#c030)"><g filter="url(#f03)"><g transform="translate(323.50 21.00)"><rect x="-2" y="-12" width="83" height="30" fill="#7a7a7a"/><ellipse cx="58.5" cy="-1.1" rx="1.5" ry="1.1" fill="#c0c0c0"/><ellipse cx="60.0" cy="0.1" rx="1.8" ry="1.0" fill="#c2c2c2"/><ellipse cx="35.7" cy="10.6" rx="2.4" ry="1.4" fill="#999999"/><ellipse cx="47.8" cy="-0.4" rx="2.1" ry="1.3" fill="#bbbbbb"/><ellipse cx="44.5" cy="-1.9" rx="1.6" ry="1.0" fill="#b5b5b5"/><ellipse cx="24.3" cy="-0.2" rx="2.3" ry="1.2" fill="#c7c7c7"/><ellipse cx="42.2" cy="8.2" rx="2.1" ry="1.1" fill="#b4b4b4"/><ellipse cx="71.1" cy="5.8" rx="1.9" ry="1.1" fill="#a3a3a3"/><ellipse cx="60.4" cy="-0.7" rx="1.3" ry="0.6" fill="#a8a8a8"/><ellipse cx="55.0" cy="5.5" rx="2.5" ry="1.8" fill="#999999"/><ellipse cx="39.0" cy="7.6" rx="2.3" ry="1.6" fill="#d2d2d2"/><ellipse cx="33.2" cy="3.2" rx="1.5" ry="1.0" fill="#b6b6b6"/><ellipse cx="54.2" cy="5.0" rx="1.6" ry="1.1" fill="#d2d2d2"/><ellipse cx="28.5" cy="-3.3" rx="2.4" ry="1.4" fill="#a1a1a1"/><ellipse cx="19.9" cy="5.3" rx="2.2" ry="1.7" fill="#cdcdcd"/><ellipse cx="31.4" cy="4.2" rx="1.4" ry="1.0" fill="#b6b6b6"/><ellipse cx="29.0" cy="2.4" rx="1.7" ry="1.3" fill="#a7a7a7"/><ellipse cx="32.1" cy="8.3" rx="1.9" ry="1.1" fill="#c4c4c4"/><ellipse cx="41.5" cy="-3.9" rx="1.6" ry="1.1" fill="#d0d0d0"/><ellipse cx="44.2" cy="-0.7" rx="1.4" ry="1.1" fill="#a3a3a3"/><ellipse cx="35.4" cy="1.8" rx="1.7" ry="1.3" fill="#5e5e5e"/><ellipse cx="50.2" cy="2.1" rx="1.5" ry="1.0" fill="#666666"/><ellipse cx="32.7" cy="5.7" rx="2.5" ry="1.4" fill="#626262"/><ellipse cx="50.7" cy="-1.9" rx="1.7" ry="1.2" fill="#616161"/><ellipse cx="63.0" cy="4.5" rx="13.0" ry="6.5" fill="#b8b8b8"/><ellipse cx="63.0" cy="4.5" rx="11.0" ry="5.0" fill="#d9d9d9"/><ellipse cx="60.0" cy="6.0" rx="4.0" ry="2.0" fill="#ebebeb"/><ellipse cx="12.0" cy="2.0" rx="2.0" ry="1.0" fill="#9e9e9e"/><ellipse cx="22.0" cy="2.0" rx="3.0" ry="2.0" fill="#c7c7c7"/><ellipse cx="29.5" cy="8.5" rx="2.0" ry="1.5" fill="#cccccc"/><ellipse cx="23.0" cy="-1.7" rx="2.5" ry="1.0" fill="#b2b2b2"/><ellipse cx="40.0" cy="-3.6" rx="6.0" ry="2.0" fill="#262626" transform="rotate(-10 40.0 -3.6)"/><ellipse cx="41.0" cy="4.0" rx="9.0" ry="2.0" fill="#1a1a1a" transform="rotate(116 41.0 4.0)"/><ellipse cx="35.0" cy="1.5" rx="4.0" ry="1.5" fill="#a6a6a6"/><ellipse cx="49.0" cy="4.0" rx="2.0" ry="4.0" fill="#595959"/><ellipse cx="75.0" cy="7.0" rx="4.0" ry="1.5" fill="#b2b2b2"/></g></g></g><path d="M332.7 25.6 L333.9 25.1 L335.5 25.0 L338.0 25.7 L340.3 26.1 L343.8 26.5 L345.8 27.1 L346.8 27.9 L348.2 27.8 L349.0 27.0 L350.7 26.5 L352.8 27.0 L354.3 27.7 L357.9 28.6 L360.4 29.7 L361.6 30.7 L362.9 31.2 L365.0 31.4 L367.6 31.5 L369.7 32.3 M374.7 31.4 L371.5 31.1 L369.0 31.0 L366.8 30.9 L365.2 30.4 L362.7 30.1 L361.4 29.6 L360.5 28.8 L360.1 28.2 L359.4 27.7 L360.9 27.4 L361.7 27.8 L364.1 27.8 L366.1 27.9 L368.4 28.2 L370.3 28.0 L371.9 28.4 L372.9 29.0 L373.5 28.8 L374.3 28.1 L374.2 27.3 L375.1 27.0 L376.5 26.3 L376.4 25.7 L375.4 25.2 L374.1 24.6 L371.9 24.0 L370.0 23.8 L367.5 23.7 L365.6 23.5 L363.1 23.1 L362.3 22.7 L362.3 22.1 L362.4 21.6 L363.2 20.9 L364.2 20.6 L365.6 20.6 L367.0 20.7 L368.1 21.0 L368.9 20.8 L368.0 20.3 L369.4 19.9 L370.7 19.4 L371.9 18.9 L373.0 18.7 L374.7 18.1 L376.1 17.6 L376.8 16.9 L377.6 16.2 L378.0 15.6 L377.3 14.9 L377.2 14.4 M368.1 22.3 L369.8 22.2 L370.9 21.7 L370.7 21.0 L369.5 20.9 L367.9 21.2 L367.1 21.8 L368.1 22.3 M360.5 33.5 L362.9 33.4 L364.6 33.1 L366.2 33.0" fill="none" stroke="#404040" stroke-width="0.3" stroke-opacity="0.45"/><rect x="324.10" y="109.20" width="78.80" height="3.8" fill="url(#gjet)"/><line x1="17.10" y1="156.35" x2="17.10" y2="224.75" stroke="#c4c4c4" stroke-width="0.5"/><line x1="96.20" y1="162.45" x2="96.20" y2="230.85" stroke="#c4c4c4" stroke-width="0.5"/><g clip-path="url(#c104)"><g filter="url(#f10)"><g transform="translate(17.30 224.75)"><rect x="-2" y="-12" width="83" height="30" fill="#0d0d0d"/><ellipse cx="10.0" cy="0.5" rx="4.0" ry="1.5" fill="#171717" transform="rotate(-10 10.0 0.5)"/><ellipse cx="18.0" cy="-2.0" rx="3.0" ry="1.0" fill="#242424" transform="rotate(-10 18.0 -2.0)"/><ellipse cx="42.0" cy="3.5" rx="9.0" ry="2.8" fill="#525252"/><ellipse cx="42.0" cy="3.5" rx="5.5" ry="1.5" fill="#757575"/></g></g></g><path d="M26.4 229.5 L27.6 229.0 L29.1 228.9 L31.5 229.6 L33.8 230.0 L37.3 230.5 L39.2 231.1 L40.3 231.9 L41.7 231.8 L42.4 231.1 L44.1 230.6 L46.1 231.1 L47.6 231.8 L51.2 232.8 L53.7 233.9 L54.9 234.9 L56.2 235.5 L58.3 235.7 L60.9 235.8 L63.0 236.7 M68.0 235.8 L64.8 235.4 L62.3 235.3 L60.1 235.2 L58.5 234.7 L56.0 234.3 L54.7 233.8 L53.8 233.0 L53.4 232.3 L52.7 231.8 L54.2 231.6 L55.0 232.0 L57.4 232.0 L59.4 232.1 L61.7 232.5 L63.6 232.3 L65.2 232.7 L66.2 233.2 L66.7 233.1 L67.6 232.4 L67.4 231.6 L68.4 231.3 L69.7 230.5 L69.6 230.0 L68.6 229.4 L67.3 228.8 L65.1 228.2 L63.2 227.9 L60.7 227.8 L58.8 227.5 L56.4 227.1 L55.6 226.7 L55.5 226.1 L55.6 225.6 L56.3 224.8 L57.4 224.6 L58.8 224.5 L60.2 224.7 L61.2 225.0 L62.0 224.8 L61.1 224.3 L62.4 223.8 L63.8 223.3 L64.9 222.8 L66.0 222.6 L67.7 222.0 L69.0 221.5 L69.7 220.8 L70.4 220.1 L70.8 219.4 L70.0 218.7 L69.9 218.2 M61.3 226.3 L62.9 226.3 L64.0 225.7 L63.8 225.0 L62.6 224.9 L61.0 225.2 L60.2 225.8 L61.3 226.3 M53.8 237.8 L56.2 237.7 L57.9 237.4 L59.5 237.3" fill="none" stroke="#c8287a" stroke-width="0.4" stroke-opacity="0.5" stroke-dasharray="0.8 0.4"/><g clip-path="url(#c103)"><g filter="url(#f10)"><g transform="translate(17.30 207.65)"><rect x="-2" y="-12" width="83" height="30" fill="#0d0d0d"/><ellipse cx="10.0" cy="0.5" rx="4.0" ry="1.5" fill="#171717" transform="rotate(-10 10.0 0.5)"/><ellipse cx="18.0" cy="-2.0" rx="3.0" ry="1.0" fill="#242424" transform="rotate(-10 18.0 -2.0)"/><ellipse cx="42.0" cy="3.0" rx="8.5" ry="2.5" fill="#474747"/><ellipse cx="42.0" cy="3.0" rx="5.0" ry="1.3" fill="#666666"/></g></g></g><path d="M26.4 212.4 L27.6 211.9 L29.1 211.8 L31.5 212.5 L33.8 212.9 L37.3 213.4 L39.2 214.0 L40.3 214.8 L41.7 214.7 L42.4 214.0 L44.1 213.5 L46.1 214.0 L47.6 214.7 L51.2 215.7 L53.7 216.8 L54.9 217.8 L56.2 218.4 L58.3 218.6 L60.9 218.7 L63.0 219.6 M68.0 218.7 L64.8 218.3 L62.3 218.2 L60.1 218.1 L58.5 217.6 L56.0 217.2 L54.7 216.7 L53.8 215.9 L53.4 215.2 L52.7 214.7 L54.2 214.5 L55.0 214.9 L57.4 214.9 L59.4 215.0 L61.7 215.4 L63.6 215.2 L65.2 215.6 L66.2 216.1 L66.7 216.0 L67.6 215.3 L67.4 214.5 L68.4 214.2 L69.7 213.4 L69.6 212.9 L68.6 212.3 L67.3 211.7 L65.1 211.1 L63.2 210.8 L60.7 210.7 L58.8 210.4 L56.4 210.0 L55.6 209.6 L55.5 209.0 L55.6 208.5 L56.3 207.7 L57.4 207.5 L58.8 207.4 L60.2 207.6 L61.2 207.9 L62.0 207.7 L61.1 207.2 L62.4 206.7 L63.8 206.2 L64.9 205.7 L66.0 205.5 L67.7 204.9 L69.0 204.4 L69.7 203.7 L70.4 203.0 L70.8 202.3 L70.0 201.6 L69.9 201.1 M61.3 209.2 L62.9 209.2 L64.0 208.6 L63.8 207.9 L62.6 207.8 L61.0 208.1 L60.2 208.7 L61.3 209.2 M53.8 220.7 L56.2 220.6 L57.9 220.3 L59.5 220.2" fill="none" stroke="#c8287a" stroke-width="0.4" stroke-opacity="0.5" stroke-dasharray="0.8 0.4"/><g clip-path="url(#c102)"><g filter="url(#f10)"><g transform="translate(17.30 190.55)"><rect x="-2" y="-12" width="83" height="30" fill="#0d0d0d"/><ellipse cx="10.0" cy="0.5" rx="4.0" ry="1.5" fill="#171717" transform="rotate(-10 10.0 0.5)"/><ellipse cx="18.0" cy="-2.0" rx="3.0" ry="1.0" fill="#242424" transform="rotate(-10 18.0 -2.0)"/><ellipse cx="42.0" cy="3.0" rx="8.0" ry="2.2" fill="#383838"/><ellipse cx="42.0" cy="3.0" rx="4.0" ry="1.2" fill="#575757"/></g></g></g><path d="M26.4 195.3 L27.6 194.8 L29.1 194.7 L31.5 195.4 L33.8 195.8 L37.3 196.3 L39.2 196.9 L40.3 197.7 L41.7 197.6 L42.4 196.9 L44.1 196.4 L46.1 196.9 L47.6 197.6 L51.2 198.6 L53.7 199.7 L54.9 200.7 L56.2 201.3 L58.3 201.5 L60.9 201.6 L63.0 202.5 M68.0 201.6 L64.8 201.2 L62.3 201.1 L60.1 201.0 L58.5 200.5 L56.0 200.1 L54.7 199.6 L53.8 198.8 L53.4 198.1 L52.7 197.6 L54.2 197.4 L55.0 197.8 L57.4 197.8 L59.4 197.9 L61.7 198.3 L63.6 198.1 L65.2 198.5 L66.2 199.0 L66.7 198.9 L67.6 198.2 L67.4 197.4 L68.4 197.1 L69.7 196.3 L69.6 195.8 L68.6 195.2 L67.3 194.6 L65.1 194.0 L63.2 193.7 L60.7 193.6 L58.8 193.3 L56.4 192.9 L55.6 192.5 L55.5 191.9 L55.6 191.4 L56.3 190.6 L57.4 190.4 L58.8 190.3 L60.2 190.5 L61.2 190.8 L62.0 190.6 L61.1 190.1 L62.4 189.6 L63.8 189.1 L64.9 188.6 L66.0 188.4 L67.7 187.8 L69.0 187.3 L69.7 186.6 L70.4 185.9 L70.8 185.2 L70.0 184.5 L69.9 184.0 M61.3 192.1 L62.9 192.1 L64.0 191.5 L63.8 190.8 L62.6 190.7 L61.0 191.0 L60.2 191.6 L61.3 192.1 M53.8 203.6 L56.2 203.5 L57.9 203.2 L59.5 203.1" fill="none" stroke="#c8287a" stroke-width="0.4" stroke-opacity="0.5" stroke-dasharray="0.8 0.4"/><g clip-path="url(#c101)"><g filter="url(#f10)"><g transform="translate(17.30 173.45)"><rect x="-2" y="-12" width="83" height="30" fill="#0d0d0d"/><ellipse cx="10.0" cy="0.5" rx="4.0" ry="1.5" fill="#171717" transform="rotate(-10 10.0 0.5)"/><ellipse cx="18.0" cy="-2.0" rx="3.0" ry="1.0" fill="#242424" transform="rotate(-10 18.0 -2.0)"/><ellipse cx="41.0" cy="2.0" rx="5.0" ry="1.5" fill="#262626"/><ellipse cx="30.0" cy="-1.0" rx="2.0" ry="1.0" fill="#1a1a1a"/></g></g></g><path d="M26.4 178.2 L27.6 177.7 L29.1 177.6 L31.5 178.3 L33.8 178.7 L37.3 179.2 L39.2 179.8 L40.3 180.6 L41.7 180.5 L42.4 179.8 L44.1 179.3 L46.1 179.8 L47.6 180.5 L51.2 181.5 L53.7 182.6 L54.9 183.6 L56.2 184.2 L58.3 184.4 L60.9 184.5 L63.0 185.4 M68.0 184.5 L64.8 184.1 L62.3 184.0 L60.1 183.9 L58.5 183.4 L56.0 183.0 L54.7 182.5 L53.8 181.7 L53.4 181.0 L52.7 180.5 L54.2 180.3 L55.0 180.7 L57.4 180.7 L59.4 180.8 L61.7 181.2 L63.6 181.0 L65.2 181.4 L66.2 181.9 L66.7 181.8 L67.6 181.1 L67.4 180.3 L68.4 180.0 L69.7 179.2 L69.6 178.7 L68.6 178.1 L67.3 177.5 L65.1 176.9 L63.2 176.6 L60.7 176.5 L58.8 176.2 L56.4 175.8 L55.6 175.4 L55.5 174.8 L55.6 174.3 L56.3 173.5 L57.4 173.3 L58.8 173.2 L60.2 173.4 L61.2 173.7 L62.0 173.5 L61.1 173.0 L62.4 172.5 L63.8 172.0 L64.9 171.5 L66.0 171.3 L67.7 170.7 L69.0 170.2 L69.7 169.5 L70.4 168.8 L70.8 168.1 L70.0 167.4 L69.9 166.9 M61.3 175.0 L62.9 175.0 L64.0 174.4 L63.8 173.7 L62.6 173.6 L61.0 173.9 L60.2 174.5 L61.3 175.0 M53.8 186.5 L56.2 186.4 L57.9 186.1 L59.5 186.0" fill="none" stroke="#c8287a" stroke-width="0.4" stroke-opacity="0.5" stroke-dasharray="0.8 0.4"/><g clip-path="url(#c100)"><g filter="url(#f10)"><g transform="translate(17.30 156.35)"><rect x="-2" y="-12" width="83" height="30" fill="#0d0d0d"/><ellipse cx="10.0" cy="0.5" rx="4.0" ry="1.5" fill="#171717" transform="rotate(-10 10.0 0.5)"/><ellipse cx="18.0" cy="-2.0" rx="3.0" ry="1.0" fill="#242424" transform="rotate(-10 18.0 -2.0)"/><ellipse cx="40.0" cy="1.0" rx="4.0" ry="1.5" fill="#1a1a1a"/><ellipse cx="50.0" cy="1.0" rx="3.0" ry="1.5" fill="#121212"/></g></g></g><path d="M26.4 161.1 L27.6 160.6 L29.1 160.5 L31.5 161.2 L33.8 161.6 L37.3 162.1 L39.2 162.7 L40.3 163.5 L41.7 163.4 L42.4 162.7 L44.1 162.2 L46.1 162.7 L47.6 163.4 L51.2 164.4 L53.7 165.5 L54.9 166.5 L56.2 167.1 L58.3 167.3 L60.9 167.4 L63.0 168.3 M68.0 167.4 L64.8 167.0 L62.3 166.9 L60.1 166.8 L58.5 166.3 L56.0 165.9 L54.7 165.4 L53.8 164.6 L53.4 163.9 L52.7 163.4 L54.2 163.2 L55.0 163.6 L57.4 163.6 L59.4 163.7 L61.7 164.1 L63.6 163.9 L65.2 164.3 L66.2 164.8 L66.7 164.7 L67.6 164.0 L67.4 163.2 L68.4 162.9 L69.7 162.1 L69.6 161.6 L68.6 161.0 L67.3 160.4 L65.1 159.8 L63.2 159.5 L60.7 159.4 L58.8 159.1 L56.4 158.7 L55.6 158.3 L55.5 157.7 L55.6 157.2 L56.3 156.4 L57.4 156.2 L58.8 156.1 L60.2 156.3 L61.2 156.6 L62.0 156.4 L61.1 155.9 L62.4 155.4 L63.8 154.9 L64.9 154.4 L66.0 154.2 L67.7 153.6 L69.0 153.1 L69.7 152.4 L70.4 151.7 L70.8 151.0 L70.0 150.3 L69.9 149.8 M61.3 157.9 L62.9 157.9 L64.0 157.3 L63.8 156.6 L62.6 156.5 L61.0 156.8 L60.2 157.4 L61.3 157.9 M53.8 169.4 L56.2 169.3 L57.9 169.0 L59.5 168.9" fill="none" stroke="#c8287a" stroke-width="0.4" stroke-opacity="0.5" stroke-dasharray="0.8 0.4"/><rect x="16.90" y="245.35" width="79.20" height="3.8" fill="url(#gpar)"/><line x1="119.30" y1="156.75" x2="119.30" y2="225.15" stroke="#c4c4c4" stroke-width="0.5"/><line x1="198.70" y1="162.65" x2="198.70" y2="231.05" stroke="#c4c4c4" stroke-width="0.5"/><g clip-path="url(#c114)"><g filter="url(#f11)"><g transform="translate(119.50 225.15)"><rect x="-2" y="-12" width="83" height="30" fill="#808080"/><ellipse cx="34.0" cy="8.0" rx="18.0" ry="6.5" fill="#d9d9d9"/><ellipse cx="35.0" cy="6.5" rx="8.0" ry="3.5" fill="#ebebeb"/><ellipse cx="46.0" cy="1.0" rx="8.0" ry="2.5" fill="#c7c7c7" transform="rotate(-25 46.0 1.0)"/><ellipse cx="53.0" cy="8.0" rx="9.0" ry="3.0" fill="#bdbdbd"/><ellipse cx="67.0" cy="6.0" rx="6.0" ry="2.0" fill="#999999"/><ellipse cx="63.0" cy="1.0" rx="9.0" ry="2.5" fill="#737373"/><ellipse cx="10.0" cy="6.0" rx="6.0" ry="2.5" fill="#999999"/><ellipse cx="11.0" cy="1.0" rx="13.0" ry="3.0" fill="#424242"/><ellipse cx="6.0" cy="0.0" rx="2.0" ry="1.0" fill="#1a1a1a"/><ellipse cx="13.0" cy="1.0" rx="2.0" ry="1.0" fill="#1a1a1a"/><ellipse cx="22.0" cy="2.0" rx="5.0" ry="2.0" fill="#9e9e9e"/><ellipse cx="48.0" cy="1.0" rx="15.0" ry="4.0" fill="#666666"/><ellipse cx="66.0" cy="8.0" rx="8.0" ry="3.0" fill="#999999"/></g></g></g><path d="M128.6 229.9 L129.8 229.4 L131.3 229.3 L133.7 230.0 L136.0 230.3 L139.5 230.8 L141.5 231.5 L142.5 232.2 L143.9 232.1 L144.6 231.4 L146.3 230.8 L148.4 231.3 L149.9 232.1 L153.5 233.1 L155.9 234.2 L157.2 235.2 L158.5 235.8 L160.6 235.9 L163.2 236.1 L165.3 236.9 M170.3 236.0 L167.1 235.7 L164.6 235.5 L162.4 235.5 L160.7 234.9 L158.3 234.6 L156.9 234.0 L156.1 233.2 L155.7 232.6 L154.9 232.1 L156.4 231.8 L157.3 232.2 L159.7 232.2 L161.7 232.3 L164.0 232.7 L165.9 232.5 L167.5 233.0 L168.5 233.5 L169.1 233.3 L169.9 232.6 L169.8 231.8 L170.7 231.5 L172.0 230.7 L171.9 230.2 L170.9 229.6 L169.6 229.0 L167.4 228.3 L165.5 228.1 L163.0 227.9 L161.0 227.7 L158.6 227.3 L157.8 226.9 L157.7 226.3 L157.8 225.8 L158.5 225.0 L159.6 224.7 L160.9 224.6 L162.4 224.8 L163.4 225.1 L164.2 224.9 L163.3 224.4 L164.6 223.9 L165.9 223.4 L167.1 222.9 L168.1 222.6 L169.8 222.0 L171.1 221.6 L171.8 220.8 L172.5 220.0 L172.9 219.3 L172.1 218.6 L171.9 218.1 M163.5 226.5 L165.2 226.4 L166.2 225.8 L166.0 225.2 L164.8 225.0 L163.2 225.3 L162.4 226.0 L163.5 226.5 M156.0 238.1 L158.5 238.0 L160.2 237.7 L161.7 237.6" fill="none" stroke="#404040" stroke-width="0.3" stroke-opacity="0.35"/><g clip-path="url(#c113)"><g filter="url(#f11)"><g transform="translate(119.50 208.05)"><rect x="-2" y="-12" width="83" height="30" fill="#808080"/><ellipse cx="34.0" cy="8.0" rx="18.0" ry="6.5" fill="#d9d9d9"/><ellipse cx="35.0" cy="6.5" rx="8.0" ry="3.5" fill="#ebebeb"/><ellipse cx="46.0" cy="1.0" rx="8.0" ry="2.5" fill="#c7c7c7" transform="rotate(-25 46.0 1.0)"/><ellipse cx="53.0" cy="8.0" rx="9.0" ry="3.0" fill="#bdbdbd"/><ellipse cx="67.0" cy="6.0" rx="6.0" ry="2.0" fill="#999999"/><ellipse cx="63.0" cy="1.0" rx="9.0" ry="2.5" fill="#737373"/><ellipse cx="10.0" cy="6.0" rx="6.0" ry="2.5" fill="#999999"/><ellipse cx="10.0" cy="0.0" rx="12.0" ry="3.0" fill="#474747"/><ellipse cx="6.0" cy="0.0" rx="2.0" ry="1.0" fill="#1a1a1a"/><ellipse cx="12.0" cy="1.0" rx="2.0" ry="1.0" fill="#1a1a1a"/><ellipse cx="22.0" cy="1.0" rx="5.0" ry="2.0" fill="#999999"/><ellipse cx="44.0" cy="-1.0" rx="14.0" ry="3.0" fill="#666666"/></g></g></g><path d="M128.6 212.8 L129.8 212.3 L131.3 212.2 L133.7 212.9 L136.0 213.2 L139.5 213.7 L141.5 214.4 L142.5 215.1 L143.9 215.0 L144.6 214.3 L146.3 213.7 L148.4 214.2 L149.9 215.0 L153.5 216.0 L155.9 217.1 L157.2 218.1 L158.5 218.7 L160.6 218.8 L163.2 219.0 L165.3 219.8 M170.3 218.9 L167.1 218.6 L164.6 218.4 L162.4 218.4 L160.7 217.8 L158.3 217.5 L156.9 216.9 L156.1 216.1 L155.7 215.5 L154.9 215.0 L156.4 214.7 L157.3 215.1 L159.7 215.1 L161.7 215.2 L164.0 215.6 L165.9 215.4 L167.5 215.9 L168.5 216.4 L169.1 216.2 L169.9 215.5 L169.8 214.7 L170.7 214.4 L172.0 213.6 L171.9 213.1 L170.9 212.5 L169.6 211.9 L167.4 211.2 L165.5 211.0 L163.0 210.8 L161.0 210.6 L158.6 210.2 L157.8 209.8 L157.7 209.2 L157.8 208.7 L158.5 207.9 L159.6 207.6 L160.9 207.5 L162.4 207.7 L163.4 208.0 L164.2 207.8 L163.3 207.3 L164.6 206.8 L165.9 206.3 L167.1 205.8 L168.1 205.5 L169.8 204.9 L171.1 204.5 L171.8 203.7 L172.5 202.9 L172.9 202.2 L172.1 201.5 L171.9 201.0 M163.5 209.4 L165.2 209.3 L166.2 208.7 L166.0 208.1 L164.8 207.9 L163.2 208.2 L162.4 208.9 L163.5 209.4 M156.0 221.0 L158.5 220.9 L160.2 220.6 L161.7 220.5" fill="none" stroke="#404040" stroke-width="0.3" stroke-opacity="0.35"/><g clip-path="url(#c112)"><g filter="url(#f11)"><g transform="translate(119.50 190.95)"><rect x="-2" y="-12" width="83" height="30" fill="#808080"/><ellipse cx="34.0" cy="8.0" rx="18.0" ry="6.5" fill="#d9d9d9"/><ellipse cx="35.0" cy="6.5" rx="8.0" ry="3.5" fill="#ebebeb"/><ellipse cx="46.0" cy="1.0" rx="8.0" ry="2.5" fill="#c7c7c7" transform="rotate(-25 46.0 1.0)"/><ellipse cx="53.0" cy="8.0" rx="9.0" ry="3.0" fill="#bdbdbd"/><ellipse cx="67.0" cy="6.0" rx="6.0" ry="2.0" fill="#999999"/><ellipse cx="63.0" cy="1.0" rx="9.0" ry="2.5" fill="#737373"/><ellipse cx="10.0" cy="6.0" rx="6.0" ry="2.5" fill="#999999"/><ellipse cx="8.0" cy="0.0" rx="10.0" ry="2.5" fill="#4c4c4c"/><ellipse cx="9.0" cy="0.0" rx="2.0" ry="1.0" fill="#1f1f1f"/><ellipse cx="20.0" cy="1.0" rx="5.0" ry="2.0" fill="#949494"/><ellipse cx="36.0" cy="-3.0" rx="10.0" ry="2.5" fill="#707070"/></g></g></g><path d="M128.6 195.7 L129.8 195.2 L131.3 195.1 L133.7 195.8 L136.0 196.1 L139.5 196.6 L141.5 197.3 L142.5 198.0 L143.9 197.9 L144.6 197.2 L146.3 196.6 L148.4 197.1 L149.9 197.9 L153.5 198.9 L155.9 200.0 L157.2 201.0 L158.5 201.6 L160.6 201.7 L163.2 201.9 L165.3 202.7 M170.3 201.8 L167.1 201.5 L164.6 201.3 L162.4 201.3 L160.7 200.7 L158.3 200.4 L156.9 199.8 L156.1 199.0 L155.7 198.4 L154.9 197.9 L156.4 197.6 L157.3 198.0 L159.7 198.0 L161.7 198.1 L164.0 198.5 L165.9 198.3 L167.5 198.8 L168.5 199.3 L169.1 199.1 L169.9 198.4 L169.8 197.6 L170.7 197.3 L172.0 196.5 L171.9 196.0 L170.9 195.4 L169.6 194.8 L167.4 194.1 L165.5 193.9 L163.0 193.7 L161.0 193.5 L158.6 193.1 L157.8 192.7 L157.7 192.1 L157.8 191.6 L158.5 190.8 L159.6 190.5 L160.9 190.4 L162.4 190.6 L163.4 190.9 L164.2 190.7 L163.3 190.2 L164.6 189.7 L165.9 189.2 L167.1 188.7 L168.1 188.4 L169.8 187.8 L171.1 187.4 L171.8 186.6 L172.5 185.8 L172.9 185.1 L172.1 184.4 L171.9 183.9 M163.5 192.3 L165.2 192.2 L166.2 191.6 L166.0 191.0 L164.8 190.8 L163.2 191.1 L162.4 191.8 L163.5 192.3 M156.0 203.9 L158.5 203.8 L160.2 203.5 L161.7 203.4" fill="none" stroke="#404040" stroke-width="0.3" stroke-opacity="0.35"/><g clip-path="url(#c111)"><g filter="url(#f11)"><g transform="translate(119.50 173.85)"><rect x="-2" y="-12" width="83" height="30" fill="#808080"/><ellipse cx="34.0" cy="8.0" rx="18.0" ry="6.5" fill="#d9d9d9"/><ellipse cx="35.0" cy="6.5" rx="8.0" ry="3.5" fill="#ebebeb"/><ellipse cx="46.0" cy="1.0" rx="8.0" ry="2.5" fill="#c7c7c7" transform="rotate(-25 46.0 1.0)"/><ellipse cx="53.0" cy="8.0" rx="9.0" ry="3.0" fill="#bdbdbd"/><ellipse cx="67.0" cy="6.0" rx="6.0" ry="2.0" fill="#999999"/><ellipse cx="63.0" cy="1.0" rx="9.0" ry="2.5" fill="#737373"/><ellipse cx="10.0" cy="6.0" rx="6.0" ry="2.5" fill="#999999"/><ellipse cx="5.0" cy="0.0" rx="7.0" ry="2.5" fill="#545454"/><ellipse cx="6.0" cy="0.0" rx="2.0" ry="1.0" fill="#2e2e2e"/><ellipse cx="25.0" cy="-4.0" rx="14.0" ry="3.0" fill="#787878"/><ellipse cx="46.0" cy="-6.0" rx="4.0" ry="1.5" fill="#999999"/></g></g></g><path d="M128.6 178.6 L129.8 178.1 L131.3 178.0 L133.7 178.7 L136.0 179.0 L139.5 179.5 L141.5 180.2 L142.5 180.9 L143.9 180.8 L144.6 180.1 L146.3 179.5 L148.4 180.0 L149.9 180.8 L153.5 181.8 L155.9 182.9 L157.2 183.9 L158.5 184.5 L160.6 184.6 L163.2 184.8 L165.3 185.6 M170.3 184.7 L167.1 184.4 L164.6 184.2 L162.4 184.2 L160.7 183.6 L158.3 183.3 L156.9 182.7 L156.1 181.9 L155.7 181.3 L154.9 180.8 L156.4 180.5 L157.3 180.9 L159.7 180.9 L161.7 181.0 L164.0 181.4 L165.9 181.2 L167.5 181.7 L168.5 182.2 L169.1 182.0 L169.9 181.3 L169.8 180.5 L170.7 180.2 L172.0 179.4 L171.9 178.9 L170.9 178.3 L169.6 177.7 L167.4 177.0 L165.5 176.8 L163.0 176.6 L161.0 176.4 L158.6 176.0 L157.8 175.6 L157.7 175.0 L157.8 174.5 L158.5 173.7 L159.6 173.4 L160.9 173.3 L162.4 173.5 L163.4 173.8 L164.2 173.6 L163.3 173.1 L164.6 172.6 L165.9 172.1 L167.1 171.6 L168.1 171.3 L169.8 170.7 L171.1 170.3 L171.8 169.5 L172.5 168.7 L172.9 168.0 L172.1 167.3 L171.9 166.8 M163.5 175.2 L165.2 175.1 L166.2 174.5 L166.0 173.9 L164.8 173.7 L163.2 174.0 L162.4 174.7 L163.5 175.2 M156.0 186.8 L158.5 186.7 L160.2 186.4 L161.7 186.3" fill="none" stroke="#404040" stroke-width="0.3" stroke-opacity="0.35"/><g clip-path="url(#c110)"><g filter="url(#f11)"><g transform="translate(119.50 156.75)"><rect x="-2" y="-12" width="83" height="30" fill="#808080"/><ellipse cx="34.0" cy="8.0" rx="18.0" ry="6.5" fill="#d9d9d9"/><ellipse cx="35.0" cy="6.5" rx="8.0" ry="3.5" fill="#ebebeb"/><ellipse cx="46.0" cy="1.0" rx="8.0" ry="2.5" fill="#c7c7c7" transform="rotate(-25 46.0 1.0)"/><ellipse cx="53.0" cy="8.0" rx="9.0" ry="3.0" fill="#bdbdbd"/><ellipse cx="67.0" cy="6.0" rx="6.0" ry="2.0" fill="#999999"/><ellipse cx="63.0" cy="1.0" rx="9.0" ry="2.5" fill="#737373"/><ellipse cx="10.0" cy="6.0" rx="6.0" ry="2.5" fill="#999999"/><ellipse cx="3.0" cy="0.0" rx="5.0" ry="2.5" fill="#666666"/><ellipse cx="25.0" cy="-4.0" rx="14.0" ry="3.0" fill="#7a7a7a"/><ellipse cx="46.0" cy="-7.0" rx="4.0" ry="1.5" fill="#a3a3a3"/><ellipse cx="49.0" cy="-8.0" rx="2.0" ry="1.0" fill="#cccccc"/></g></g></g><path d="M128.6 161.5 L129.8 161.0 L131.3 160.9 L133.7 161.6 L136.0 161.9 L139.5 162.4 L141.5 163.1 L142.5 163.8 L143.9 163.7 L144.6 163.0 L146.3 162.4 L148.4 162.9 L149.9 163.7 L153.5 164.7 L155.9 165.8 L157.2 166.8 L158.5 167.4 L160.6 167.5 L163.2 167.7 L165.3 168.5 M170.3 167.6 L167.1 167.3 L164.6 167.1 L162.4 167.1 L160.7 166.5 L158.3 166.2 L156.9 165.6 L156.1 164.8 L155.7 164.2 L154.9 163.7 L156.4 163.4 L157.3 163.8 L159.7 163.8 L161.7 163.9 L164.0 164.3 L165.9 164.1 L167.5 164.6 L168.5 165.1 L169.1 164.9 L169.9 164.2 L169.8 163.4 L170.7 163.1 L172.0 162.3 L171.9 161.8 L170.9 161.2 L169.6 160.6 L167.4 159.9 L165.5 159.7 L163.0 159.5 L161.0 159.3 L158.6 158.9 L157.8 158.5 L157.7 157.9 L157.8 157.4 L158.5 156.6 L159.6 156.3 L160.9 156.2 L162.4 156.4 L163.4 156.7 L164.2 156.5 L163.3 156.0 L164.6 155.5 L165.9 155.0 L167.1 154.5 L168.1 154.2 L169.8 153.6 L171.1 153.2 L171.8 152.4 L172.5 151.6 L172.9 150.9 L172.1 150.2 L171.9 149.7 M163.5 158.1 L165.2 158.0 L166.2 157.4 L166.0 156.8 L164.8 156.6 L163.2 156.9 L162.4 157.6 L163.5 158.1 M156.0 169.7 L158.5 169.6 L160.2 169.3 L161.7 169.2" fill="none" stroke="#404040" stroke-width="0.3" stroke-opacity="0.35"/><rect x="119.20" y="245.35" width="78.40" height="3.8" fill="url(#gjet)"/><line x1="221.30" y1="157.15" x2="221.30" y2="225.55" stroke="#c4c4c4" stroke-width="0.5"/><line x1="301.40" y1="162.95" x2="301.40" y2="231.35" stroke="#c4c4c4" stroke-width="0.5"/><g clip-path="url(#c124)"><g filter="url(#f12)"><g transform="translate(221.50 225.55)"><rect x="-2" y="-12" width="83" height="30" fill="#7a7a7a"/><ellipse cx="53.2" cy="-2.4" rx="1.5" ry="0.8" fill="#c3c3c3"/><ellipse cx="31.5" cy="11.9" rx="1.6" ry="1.0" fill="#b6b6b6"/><ellipse cx="31.6" cy="7.7" rx="1.8" ry="1.1" fill="#a1a1a1"/><ellipse cx="39.7" cy="2.0" rx="2.1" ry="1.5" fill="#a5a5a5"/><ellipse cx="21.1" cy="4.5" rx="1.3" ry="0.8" fill="#a4a4a4"/><ellipse cx="41.6" cy="10.5" rx="2.5" ry="1.4" fill="#5e5e5e"/><ellipse cx="55.8" cy="-1.3" rx="2.3" ry="1.5" fill="#5d5d5d"/><ellipse cx="39.4" cy="9.2" rx="2.4" ry="1.6" fill="#616161"/><ellipse cx="30.2" cy="10.2" rx="2.3" ry="1.4" fill="#606060"/><ellipse cx="40.3" cy="-0.4" rx="1.7" ry="1.2" fill="#606060"/><ellipse cx="13.0" cy="1.0" rx="10.0" ry="2.0" fill="#c2c2c2" transform="rotate(-10 13.0 1.0)"/><ellipse cx="52.0" cy="4.5" rx="6.0" ry="2.0" fill="#b8b8b8"/><ellipse cx="30.0" cy="8.0" rx="5.0" ry="2.0" fill="#8c8c8c"/></g></g></g><path d="M230.7 230.3 L231.9 229.7 L233.5 229.6 L235.9 230.3 L238.2 230.7 L241.7 231.1 L243.7 231.7 L244.8 232.5 L246.2 232.4 L246.9 231.6 L248.6 231.1 L250.7 231.6 L252.2 232.4 L255.9 233.3 L258.4 234.5 L259.6 235.4 L261.0 236.0 L263.1 236.2 L265.7 236.3 L267.8 237.2 M272.9 236.3 L269.6 235.9 L267.1 235.8 L264.9 235.7 L263.2 235.2 L260.7 234.8 L259.4 234.3 L258.5 233.5 L258.1 232.8 L257.3 232.3 L258.8 232.1 L259.6 232.5 L262.1 232.5 L264.1 232.6 L266.5 233.0 L268.4 232.8 L269.9 233.2 L271.0 233.7 L271.6 233.6 L272.4 232.9 L272.2 232.1 L273.2 231.8 L274.5 231.0 L274.4 230.4 L273.3 229.8 L272.0 229.3 L269.8 228.6 L267.8 228.3 L265.3 228.2 L263.3 228.0 L260.9 227.6 L260.0 227.2 L259.9 226.5 L260.0 226.0 L260.7 225.3 L261.8 225.0 L263.2 224.9 L264.6 225.1 L265.6 225.3 L266.5 225.2 L265.6 224.6 L266.8 224.2 L268.1 223.7 L269.3 223.2 L270.4 222.9 L272.0 222.3 L273.3 221.8 L274.0 221.0 L274.7 220.3 L275.0 219.6 L274.2 218.8 L274.0 218.3 M265.8 226.8 L267.5 226.7 L268.5 226.1 L268.3 225.4 L267.0 225.3 L265.5 225.6 L264.7 226.2 L265.8 226.8 M258.5 238.3 L261.0 238.2 L262.7 237.9 L264.3 237.8" fill="none" stroke="#404040" stroke-width="0.3" stroke-opacity="0.45"/><g clip-path="url(#c123)"><g filter="url(#f12)"><g transform="translate(221.50 208.45)"><rect x="-2" y="-12" width="83" height="30" fill="#7a7a7a"/><ellipse cx="30.8" cy="5.4" rx="1.3" ry="0.9" fill="#d8d8d8"/><ellipse cx="43.3" cy="-5.6" rx="2.0" ry="1.4" fill="#999999"/><ellipse cx="49.2" cy="9.3" rx="2.5" ry="1.4" fill="#c6c6c6"/><ellipse cx="6.4" cy="1.0" rx="1.9" ry="1.1" fill="#bfbfbf"/><ellipse cx="49.9" cy="3.4" rx="2.2" ry="1.2" fill="#b8b8b8"/><ellipse cx="25.1" cy="1.6" rx="2.0" ry="1.3" fill="#666666"/><ellipse cx="28.6" cy="4.7" rx="1.5" ry="1.1" fill="#646464"/><ellipse cx="24.8" cy="6.6" rx="1.4" ry="1.1" fill="#616161"/><ellipse cx="62.0" cy="6.2" rx="2.0" ry="1.1" fill="#5c5c5c"/><ellipse cx="37.3" cy="2.0" rx="1.8" ry="1.3" fill="#606060"/><ellipse cx="13.0" cy="1.0" rx="10.0" ry="2.0" fill="#c2c2c2" transform="rotate(-10 13.0 1.0)"/><ellipse cx="29.0" cy="13.0" rx="3.0" ry="1.5" fill="#1f1f1f"/><ellipse cx="48.0" cy="5.0" rx="8.0" ry="2.5" fill="#b2b2b2" transform="rotate(-30 48.0 5.0)"/><ellipse cx="20.0" cy="7.0" rx="5.0" ry="2.0" fill="#949494"/></g></g></g><path d="M230.7 213.2 L231.9 212.6 L233.5 212.5 L235.9 213.2 L238.2 213.6 L241.7 214.0 L243.7 214.6 L244.8 215.4 L246.2 215.3 L246.9 214.5 L248.6 214.0 L250.7 214.5 L252.2 215.3 L255.9 216.2 L258.4 217.4 L259.6 218.3 L261.0 218.9 L263.1 219.1 L265.7 219.2 L267.8 220.1 M272.9 219.2 L269.6 218.8 L267.1 218.7 L264.9 218.6 L263.2 218.1 L260.7 217.7 L259.4 217.2 L258.5 216.4 L258.1 215.7 L257.3 215.2 L258.8 215.0 L259.6 215.4 L262.1 215.4 L264.1 215.5 L266.5 215.9 L268.4 215.7 L269.9 216.1 L271.0 216.6 L271.6 216.5 L272.4 215.8 L272.2 215.0 L273.2 214.7 L274.5 213.9 L274.4 213.3 L273.3 212.7 L272.0 212.2 L269.8 211.5 L267.8 211.2 L265.3 211.1 L263.3 210.9 L260.9 210.5 L260.0 210.1 L259.9 209.4 L260.0 208.9 L260.7 208.2 L261.8 207.9 L263.2 207.8 L264.6 208.0 L265.6 208.2 L266.5 208.1 L265.6 207.5 L266.8 207.1 L268.1 206.6 L269.3 206.1 L270.4 205.8 L272.0 205.2 L273.3 204.7 L274.0 203.9 L274.7 203.2 L275.0 202.5 L274.2 201.7 L274.0 201.2 M265.8 209.7 L267.5 209.6 L268.5 209.0 L268.3 208.3 L267.0 208.2 L265.5 208.5 L264.7 209.1 L265.8 209.7 M258.5 221.2 L261.0 221.1 L262.7 220.8 L264.3 220.7" fill="none" stroke="#404040" stroke-width="0.3" stroke-opacity="0.45"/><g clip-path="url(#c122)"><g filter="url(#f12)"><g transform="translate(221.50 191.35)"><rect x="-2" y="-12" width="83" height="30" fill="#7a7a7a"/><ellipse cx="40.1" cy="4.6" rx="2.4" ry="1.9" fill="#d0d0d0"/><ellipse cx="54.5" cy="8.6" rx="1.5" ry="0.8" fill="#9f9f9f"/><ellipse cx="55.8" cy="2.3" rx="2.2" ry="1.2" fill="#bababa"/><ellipse cx="54.5" cy="2.6" rx="2.4" ry="1.7" fill="#a1a1a1"/><ellipse cx="12.7" cy="0.8" rx="1.5" ry="0.9" fill="#9e9e9e"/><ellipse cx="50.3" cy="2.4" rx="1.6" ry="0.8" fill="#5e5e5e"/><ellipse cx="56.8" cy="-2.4" rx="2.3" ry="1.4" fill="#606060"/><ellipse cx="66.6" cy="2.4" rx="2.1" ry="1.1" fill="#646464"/><ellipse cx="18.1" cy="0.3" rx="2.1" ry="1.4" fill="#5c5c5c"/><ellipse cx="33.4" cy="4.9" rx="1.7" ry="0.9" fill="#636363"/><ellipse cx="13.0" cy="1.0" rx="10.0" ry="2.0" fill="#c2c2c2" transform="rotate(-10 13.0 1.0)"/><ellipse cx="28.0" cy="13.5" rx="3.0" ry="1.5" fill="#1a1a1a"/><ellipse cx="46.0" cy="6.0" rx="8.0" ry="2.5" fill="#b2b2b2" transform="rotate(-30 46.0 6.0)"/><ellipse cx="20.0" cy="7.0" rx="5.0" ry="2.0" fill="#949494"/></g></g></g><path d="M230.7 196.1 L231.9 195.5 L233.5 195.4 L235.9 196.1 L238.2 196.5 L241.7 196.9 L243.7 197.5 L244.8 198.3 L246.2 198.2 L246.9 197.4 L248.6 196.9 L250.7 197.4 L252.2 198.2 L255.9 199.1 L258.4 200.3 L259.6 201.2 L261.0 201.8 L263.1 202.0 L265.7 202.1 L267.8 203.0 M272.9 202.1 L269.6 201.7 L267.1 201.6 L264.9 201.5 L263.2 201.0 L260.7 200.6 L259.4 200.1 L258.5 199.3 L258.1 198.6 L257.3 198.1 L258.8 197.9 L259.6 198.3 L262.1 198.3 L264.1 198.4 L266.5 198.8 L268.4 198.6 L269.9 199.0 L271.0 199.5 L271.6 199.4 L272.4 198.7 L272.2 197.9 L273.2 197.6 L274.5 196.8 L274.4 196.2 L273.3 195.6 L272.0 195.1 L269.8 194.4 L267.8 194.1 L265.3 194.0 L263.3 193.8 L260.9 193.4 L260.0 193.0 L259.9 192.3 L260.0 191.8 L260.7 191.1 L261.8 190.8 L263.2 190.7 L264.6 190.9 L265.6 191.1 L266.5 191.0 L265.6 190.4 L266.8 190.0 L268.1 189.5 L269.3 189.0 L270.4 188.7 L272.0 188.1 L273.3 187.6 L274.0 186.8 L274.7 186.1 L275.0 185.4 L274.2 184.6 L274.0 184.1 M265.8 192.6 L267.5 192.5 L268.5 191.9 L268.3 191.2 L267.0 191.1 L265.5 191.4 L264.7 192.0 L265.8 192.6 M258.5 204.1 L261.0 204.0 L262.7 203.7 L264.3 203.6" fill="none" stroke="#404040" stroke-width="0.3" stroke-opacity="0.45"/><g clip-path="url(#c121)"><g filter="url(#f12)"><g transform="translate(221.50 174.25)"><rect x="-2" y="-12" width="83" height="30" fill="#7a7a7a"/><ellipse cx="37.4" cy="-1.4" rx="2.1" ry="1.5" fill="#b3b3b3"/><ellipse cx="13.9" cy="2.8" rx="1.4" ry="1.0" fill="#9a9a9a"/><ellipse cx="34.4" cy="4.4" rx="1.9" ry="1.5" fill="#9b9b9b"/><ellipse cx="12.7" cy="4.7" rx="1.7" ry="1.2" fill="#9c9c9c"/><ellipse cx="45.9" cy="-1.7" rx="2.4" ry="1.8" fill="#b4b4b4"/><ellipse cx="35.7" cy="-2.9" rx="2.0" ry="1.5" fill="#636363"/><ellipse cx="50.9" cy="0.8" rx="1.6" ry="0.9" fill="#656565"/><ellipse cx="53.1" cy="7.5" rx="1.9" ry="1.2" fill="#606060"/><ellipse cx="42.8" cy="1.8" rx="2.5" ry="1.8" fill="#656565"/><ellipse cx="53.2" cy="2.8" rx="2.2" ry="1.5" fill="#5d5d5d"/><ellipse cx="13.0" cy="1.0" rx="10.0" ry="2.0" fill="#c2c2c2" transform="rotate(-10 13.0 1.0)"/><ellipse cx="49.0" cy="3.0" rx="10.0" ry="6.0" fill="#b8b8b8"/><ellipse cx="20.0" cy="6.0" rx="6.0" ry="2.0" fill="#9e9e9e"/><ellipse cx="33.7" cy="8.0" rx="5.5" ry="2.5" fill="#1a1a1a" transform="rotate(20 33.7 8.0)"/><ellipse cx="49.0" cy="3.5" rx="6.5" ry="4.0" fill="#dbdbdb"/><ellipse cx="51.0" cy="-1.8" rx="5.0" ry="2.5" fill="#d1d1d1"/><ellipse cx="42.0" cy="8.0" rx="4.0" ry="2.0" fill="#9e9e9e"/><ellipse cx="66.0" cy="5.0" rx="7.0" ry="2.0" fill="#666666"/><ellipse cx="40.0" cy="13.0" rx="4.0" ry="1.5" fill="#999999"/></g></g></g><path d="M230.7 179.0 L231.9 178.4 L233.5 178.3 L235.9 179.0 L238.2 179.4 L241.7 179.8 L243.7 180.4 L244.8 181.2 L246.2 181.1 L246.9 180.3 L248.6 179.8 L250.7 180.3 L252.2 181.1 L255.9 182.0 L258.4 183.2 L259.6 184.1 L261.0 184.7 L263.1 184.9 L265.7 185.0 L267.8 185.9 M272.9 185.0 L269.6 184.6 L267.1 184.5 L264.9 184.4 L263.2 183.9 L260.7 183.5 L259.4 183.0 L258.5 182.2 L258.1 181.5 L257.3 181.0 L258.8 180.8 L259.6 181.2 L262.1 181.2 L264.1 181.3 L266.5 181.7 L268.4 181.5 L269.9 181.9 L271.0 182.4 L271.6 182.3 L272.4 181.6 L272.2 180.8 L273.2 180.5 L274.5 179.7 L274.4 179.1 L273.3 178.5 L272.0 178.0 L269.8 177.3 L267.8 177.0 L265.3 176.9 L263.3 176.7 L260.9 176.3 L260.0 175.9 L259.9 175.2 L260.0 174.7 L260.7 174.0 L261.8 173.7 L263.2 173.6 L264.6 173.8 L265.6 174.0 L266.5 173.9 L265.6 173.3 L266.8 172.9 L268.1 172.4 L269.3 171.9 L270.4 171.6 L272.0 171.0 L273.3 170.5 L274.0 169.7 L274.7 169.0 L275.0 168.3 L274.2 167.5 L274.0 167.0 M265.8 175.5 L267.5 175.4 L268.5 174.8 L268.3 174.1 L267.0 174.0 L265.5 174.3 L264.7 174.9 L265.8 175.5 M258.5 187.0 L261.0 186.9 L262.7 186.6 L264.3 186.5" fill="none" stroke="#404040" stroke-width="0.3" stroke-opacity="0.45"/><g clip-path="url(#c120)"><g filter="url(#f12)"><g transform="translate(221.50 157.15)"><rect x="-2" y="-12" width="83" height="30" fill="#7a7a7a"/><ellipse cx="33.5" cy="-2.9" rx="1.6" ry="1.1" fill="#9c9c9c"/><ellipse cx="37.0" cy="2.3" rx="2.1" ry="1.5" fill="#a0a0a0"/><ellipse cx="54.4" cy="-3.3" rx="2.6" ry="1.5" fill="#a6a6a6"/><ellipse cx="23.7" cy="8.4" rx="1.4" ry="1.0" fill="#b5b5b5"/><ellipse cx="7.3" cy="0.5" rx="2.1" ry="1.2" fill="#bebebe"/><ellipse cx="54.7" cy="8.4" rx="1.6" ry="1.2" fill="#5f5f5f"/><ellipse cx="12.9" cy="1.1" rx="2.1" ry="1.1" fill="#5f5f5f"/><ellipse cx="20.5" cy="8.1" rx="1.8" ry="1.0" fill="#626262"/><ellipse cx="53.7" cy="2.1" rx="1.5" ry="0.8" fill="#616161"/><ellipse cx="15.0" cy="2.0" rx="1.4" ry="0.8" fill="#5e5e5e"/><ellipse cx="13.0" cy="1.0" rx="10.0" ry="2.0" fill="#c2c2c2" transform="rotate(-10 13.0 1.0)"/><ellipse cx="50.0" cy="3.0" rx="11.0" ry="7.0" fill="#bdbdbd"/><ellipse cx="22.0" cy="6.5" rx="5.0" ry="2.0" fill="#9e9e9e"/><ellipse cx="34.0" cy="4.5" rx="5.0" ry="2.0" fill="#262626" transform="rotate(40 34.0 4.5)"/><ellipse cx="38.0" cy="8.0" rx="3.0" ry="2.0" fill="#262626"/><ellipse cx="54.0" cy="-1.0" rx="8.0" ry="3.5" fill="#e0e0e0" transform="rotate(-10 54.0 -1.0)"/><ellipse cx="47.0" cy="5.0" rx="6.0" ry="4.5" fill="#e6e6e6"/><ellipse cx="50.0" cy="4.0" rx="3.5" ry="3.0" fill="#f2f2f2"/><ellipse cx="66.0" cy="6.0" rx="6.0" ry="2.0" fill="#666666"/><ellipse cx="45.0" cy="-7.0" rx="5.0" ry="2.0" fill="#616161"/><ellipse cx="38.0" cy="13.0" rx="6.0" ry="2.0" fill="#949494"/><ellipse cx="46.0" cy="13.0" rx="3.0" ry="1.2" fill="#b2b2b2"/></g></g></g><path d="M230.7 161.9 L231.9 161.3 L233.5 161.2 L235.9 161.9 L238.2 162.3 L241.7 162.7 L243.7 163.3 L244.8 164.1 L246.2 164.0 L246.9 163.2 L248.6 162.7 L250.7 163.2 L252.2 164.0 L255.9 164.9 L258.4 166.1 L259.6 167.0 L261.0 167.6 L263.1 167.8 L265.7 167.9 L267.8 168.8 M272.9 167.9 L269.6 167.5 L267.1 167.4 L264.9 167.3 L263.2 166.8 L260.7 166.4 L259.4 165.9 L258.5 165.1 L258.1 164.4 L257.3 163.9 L258.8 163.7 L259.6 164.1 L262.1 164.1 L264.1 164.2 L266.5 164.6 L268.4 164.4 L269.9 164.8 L271.0 165.3 L271.6 165.2 L272.4 164.5 L272.2 163.7 L273.2 163.4 L274.5 162.6 L274.4 162.0 L273.3 161.4 L272.0 160.9 L269.8 160.2 L267.8 159.9 L265.3 159.8 L263.3 159.6 L260.9 159.2 L260.0 158.8 L259.9 158.1 L260.0 157.6 L260.7 156.9 L261.8 156.6 L263.2 156.5 L264.6 156.7 L265.6 156.9 L266.5 156.8 L265.6 156.2 L266.8 155.8 L268.1 155.3 L269.3 154.8 L270.4 154.5 L272.0 153.9 L273.3 153.4 L274.0 152.6 L274.7 151.9 L275.0 151.2 L274.2 150.4 L274.0 149.9 M265.8 158.4 L267.5 158.3 L268.5 157.7 L268.3 157.0 L267.0 156.9 L265.5 157.2 L264.7 157.8 L265.8 158.4 M258.5 169.9 L261.0 169.8 L262.7 169.5 L264.3 169.4" fill="none" stroke="#404040" stroke-width="0.3" stroke-opacity="0.45"/><rect x="221.70" y="245.35" width="78.90" height="3.8" fill="url(#gjet)"/><line x1="326.30" y1="156.60" x2="326.30" y2="225.00" stroke="#c4c4c4" stroke-width="0.5"/><line x1="403.20" y1="162.50" x2="403.20" y2="230.90" stroke="#c4c4c4" stroke-width="0.5"/><g clip-path="url(#c134)"><g filter="url(#f13)"><g transform="translate(326.50 225.00)"><rect x="-2" y="-12" width="83" height="30" fill="#7a7a7a"/><ellipse cx="60.4" cy="0.4" rx="2.3" ry="1.2" fill="#9f9f9f"/><ellipse cx="58.5" cy="4.3" rx="2.5" ry="1.9" fill="#9c9c9c"/><ellipse cx="16.7" cy="-0.3" rx="1.4" ry="0.9" fill="#c3c3c3"/><ellipse cx="36.9" cy="1.6" rx="2.4" ry="1.5" fill="#a5a5a5"/><ellipse cx="32.2" cy="2.8" rx="1.6" ry="1.0" fill="#b5b5b5"/><ellipse cx="48.6" cy="2.6" rx="1.4" ry="0.9" fill="#a5a5a5"/><ellipse cx="36.2" cy="2.7" rx="1.8" ry="1.3" fill="#b8b8b8"/><ellipse cx="64.5" cy="2.5" rx="2.2" ry="1.3" fill="#bcbcbc"/><ellipse cx="21.7" cy="0.3" rx="2.3" ry="1.5" fill="#999999"/><ellipse cx="32.4" cy="9.2" rx="2.0" ry="1.4" fill="#b4b4b4"/><ellipse cx="19.3" cy="-0.7" rx="2.6" ry="1.8" fill="#a7a7a7"/><ellipse cx="38.3" cy="7.0" rx="1.3" ry="0.9" fill="#999999"/><ellipse cx="39.1" cy="4.0" rx="2.4" ry="1.4" fill="#b5b5b5"/><ellipse cx="52.9" cy="6.3" rx="2.0" ry="1.6" fill="#b3b3b3"/><ellipse cx="58.5" cy="7.1" rx="1.3" ry="1.0" fill="#bfbfbf"/><ellipse cx="64.6" cy="6.1" rx="1.8" ry="0.9" fill="#b5b5b5"/><ellipse cx="61.7" cy="4.8" rx="1.4" ry="0.9" fill="#bdbdbd"/><ellipse cx="41.9" cy="9.6" rx="1.3" ry="0.7" fill="#9e9e9e"/><ellipse cx="34.6" cy="10.3" rx="2.0" ry="1.5" fill="#a3a3a3"/><ellipse cx="20.4" cy="9.0" rx="1.6" ry="1.0" fill="#b3b3b3"/><ellipse cx="65.5" cy="3.4" rx="2.0" ry="1.1" fill="#656565"/><ellipse cx="62.0" cy="5.2" rx="2.3" ry="1.4" fill="#5f5f5f"/><ellipse cx="53.6" cy="4.5" rx="1.8" ry="1.1" fill="#616161"/><ellipse cx="39.8" cy="1.1" rx="2.4" ry="1.6" fill="#5f5f5f"/><ellipse cx="24.0" cy="5.0" rx="8.0" ry="2.5" fill="#b8b8b8" transform="rotate(35 24.0 5.0)"/><ellipse cx="42.0" cy="4.0" rx="8.0" ry="2.5" fill="#292929"/><ellipse cx="72.0" cy="3.0" rx="5.0" ry="2.0" fill="#c7c7c7"/><ellipse cx="30.0" cy="12.0" rx="6.0" ry="2.0" fill="#9e9e9e"/></g></g></g><path d="M335.1 229.6 L336.3 229.1 L337.8 229.0 L340.1 229.6 L342.3 230.0 L345.6 230.4 L347.5 231.1 L348.5 231.8 L349.9 231.8 L350.6 231.0 L352.2 230.5 L354.2 231.0 L355.7 231.7 L359.1 232.7 L361.5 233.8 L362.6 234.7 L363.9 235.2 L365.9 235.4 L368.5 235.6 L370.4 236.4 M375.4 235.5 L372.2 235.2 L369.8 235.1 L367.7 235.0 L366.1 234.5 L363.7 234.1 L362.5 233.6 L361.6 232.8 L361.3 232.2 L360.6 231.7 L362.1 231.5 L362.8 231.9 L365.2 231.9 L367.1 232.0 L369.4 232.4 L371.2 232.2 L372.7 232.6 L373.7 233.1 L374.3 233.0 L375.1 232.3 L375.0 231.6 L375.9 231.2 L377.3 230.5 L377.2 230.0 L376.2 229.4 L374.9 228.9 L372.9 228.2 L371.0 228.0 L368.6 227.8 L366.7 227.6 L364.3 227.2 L363.6 226.8 L363.5 226.2 L363.6 225.8 L364.4 225.0 L365.4 224.8 L366.7 224.7 L368.1 224.9 L369.1 225.1 L369.9 225.0 L369.1 224.5 L370.4 224.0 L371.6 223.6 L372.8 223.1 L373.8 222.9 L375.5 222.3 L376.8 221.8 L377.5 221.1 L378.2 220.4 L378.6 219.7 L377.8 219.1 L377.7 218.6 M369.1 226.5 L370.8 226.4 L371.8 225.9 L371.7 225.2 L370.5 225.1 L368.9 225.4 L368.2 226.0 L369.1 226.5 M361.4 237.5 L363.8 237.4 L365.4 237.1 L367.0 237.0" fill="none" stroke="#404040" stroke-width="0.3" stroke-opacity="0.45"/><g clip-path="url(#c133)"><g filter="url(#f13)"><g transform="translate(326.50 207.90)"><rect x="-2" y="-12" width="83" height="30" fill="#7a7a7a"/><ellipse cx="27.8" cy="0.9" rx="2.3" ry="1.8" fill="#cecece"/><ellipse cx="37.9" cy="4.3" rx="1.2" ry="0.6" fill="#a1a1a1"/><ellipse cx="36.1" cy="3.3" rx="1.8" ry="1.2" fill="#d1d1d1"/><ellipse cx="51.7" cy="-2.2" rx="2.4" ry="2.0" fill="#a6a6a6"/><ellipse cx="14.9" cy="4.6" rx="1.4" ry="0.9" fill="#9c9c9c"/><ellipse cx="35.3" cy="1.2" rx="1.8" ry="1.2" fill="#a4a4a4"/><ellipse cx="43.5" cy="4.1" rx="2.4" ry="1.4" fill="#c4c4c4"/><ellipse cx="46.6" cy="8.6" rx="1.4" ry="0.9" fill="#bababa"/><ellipse cx="65.5" cy="5.8" rx="2.0" ry="1.4" fill="#9f9f9f"/><ellipse cx="39.0" cy="-1.0" rx="2.4" ry="1.5" fill="#c7c7c7"/><ellipse cx="20.1" cy="-0.8" rx="1.5" ry="0.9" fill="#c5c5c5"/><ellipse cx="45.6" cy="0.1" rx="2.1" ry="1.4" fill="#9f9f9f"/><ellipse cx="46.3" cy="8.8" rx="2.4" ry="1.3" fill="#9b9b9b"/><ellipse cx="16.2" cy="1.7" rx="2.4" ry="1.8" fill="#d3d3d3"/><ellipse cx="38.8" cy="-0.1" rx="2.2" ry="1.7" fill="#bababa"/><ellipse cx="60.2" cy="3.9" rx="1.4" ry="0.9" fill="#b4b4b4"/><ellipse cx="13.8" cy="-0.7" rx="1.9" ry="1.0" fill="#a4a4a4"/><ellipse cx="43.2" cy="-3.1" rx="1.4" ry="1.1" fill="#d6d6d6"/><ellipse cx="56.7" cy="5.4" rx="2.1" ry="1.2" fill="#c6c6c6"/><ellipse cx="7.4" cy="0.5" rx="1.6" ry="1.1" fill="#c3c3c3"/><ellipse cx="14.6" cy="4.3" rx="2.2" ry="1.2" fill="#5d5d5d"/><ellipse cx="50.8" cy="3.3" rx="1.9" ry="1.5" fill="#636363"/><ellipse cx="52.2" cy="0.5" rx="2.1" ry="1.4" fill="#5f5f5f"/><ellipse cx="56.9" cy="3.1" rx="1.3" ry="0.7" fill="#606060"/><ellipse cx="24.0" cy="4.0" rx="8.0" ry="2.5" fill="#bdbdbd" transform="rotate(35 24.0 4.0)"/><ellipse cx="43.0" cy="4.5" rx="7.0" ry="2.0" fill="#292929"/><ellipse cx="67.0" cy="4.5" rx="7.0" ry="3.5" fill="#cccccc"/></g></g></g><path d="M335.1 212.5 L336.3 212.0 L337.8 211.9 L340.1 212.5 L342.3 212.9 L345.6 213.3 L347.5 214.0 L348.5 214.7 L349.9 214.7 L350.6 213.9 L352.2 213.4 L354.2 213.9 L355.7 214.6 L359.1 215.6 L361.5 216.7 L362.6 217.6 L363.9 218.1 L365.9 218.3 L368.5 218.5 L370.4 219.3 M375.4 218.4 L372.2 218.1 L369.8 218.0 L367.7 217.9 L366.1 217.4 L363.7 217.0 L362.5 216.5 L361.6 215.7 L361.3 215.1 L360.6 214.6 L362.1 214.4 L362.8 214.8 L365.2 214.8 L367.1 214.9 L369.4 215.3 L371.2 215.1 L372.7 215.5 L373.7 216.0 L374.3 215.9 L375.1 215.2 L375.0 214.5 L375.9 214.1 L377.3 213.4 L377.2 212.9 L376.2 212.3 L374.9 211.8 L372.9 211.1 L371.0 210.9 L368.6 210.7 L366.7 210.5 L364.3 210.1 L363.6 209.7 L363.5 209.1 L363.6 208.7 L364.4 207.9 L365.4 207.7 L366.7 207.6 L368.1 207.8 L369.1 208.0 L369.9 207.9 L369.1 207.4 L370.4 206.9 L371.6 206.5 L372.8 206.0 L373.8 205.8 L375.5 205.2 L376.8 204.7 L377.5 204.0 L378.2 203.3 L378.6 202.6 L377.8 202.0 L377.7 201.5 M369.1 209.4 L370.8 209.3 L371.8 208.8 L371.7 208.1 L370.5 208.0 L368.9 208.3 L368.2 208.9 L369.1 209.4 M361.4 220.4 L363.8 220.3 L365.4 220.0 L367.0 219.9" fill="none" stroke="#404040" stroke-width="0.3" stroke-opacity="0.45"/><g clip-path="url(#c132)"><g filter="url(#f13)"><g transform="translate(326.50 190.80)"><rect x="-2" y="-12" width="83" height="30" fill="#7a7a7a"/><ellipse cx="49.3" cy="8.3" rx="2.0" ry="1.2" fill="#9b9b9b"/><ellipse cx="41.8" cy="8.8" rx="1.2" ry="0.6" fill="#a3a3a3"/><ellipse cx="30.7" cy="-2.7" rx="1.6" ry="1.1" fill="#b4b4b4"/><ellipse cx="9.3" cy="0.3" rx="2.5" ry="1.8" fill="#a8a8a8"/><ellipse cx="16.0" cy="2.4" rx="1.9" ry="1.2" fill="#b8b8b8"/><ellipse cx="48.4" cy="1.1" rx="1.7" ry="1.3" fill="#c3c3c3"/><ellipse cx="34.0" cy="5.1" rx="1.7" ry="1.0" fill="#a7a7a7"/><ellipse cx="18.7" cy="5.6" rx="1.5" ry="1.1" fill="#9b9b9b"/><ellipse cx="43.2" cy="0.5" rx="1.6" ry="1.1" fill="#bbbbbb"/><ellipse cx="50.9" cy="7.5" rx="2.2" ry="1.5" fill="#c2c2c2"/><ellipse cx="21.9" cy="5.4" rx="2.2" ry="1.2" fill="#9c9c9c"/><ellipse cx="38.3" cy="7.6" rx="2.3" ry="1.7" fill="#9b9b9b"/><ellipse cx="56.4" cy="-1.0" rx="2.6" ry="1.3" fill="#b3b3b3"/><ellipse cx="55.4" cy="1.0" rx="1.9" ry="1.4" fill="#d3d3d3"/><ellipse cx="24.8" cy="0.6" rx="2.5" ry="1.7" fill="#b5b5b5"/><ellipse cx="55.2" cy="1.9" rx="2.5" ry="1.5" fill="#a8a8a8"/><ellipse cx="12.0" cy="4.5" rx="2.1" ry="1.3" fill="#b4b4b4"/><ellipse cx="50.3" cy="0.3" rx="1.3" ry="0.9" fill="#b4b4b4"/><ellipse cx="21.1" cy="8.1" rx="1.8" ry="1.1" fill="#9e9e9e"/><ellipse cx="22.1" cy="9.7" rx="2.0" ry="1.1" fill="#9d9d9d"/><ellipse cx="33.4" cy="-2.4" rx="2.6" ry="1.7" fill="#5c5c5c"/><ellipse cx="41.3" cy="10.5" rx="2.0" ry="1.2" fill="#646464"/><ellipse cx="45.0" cy="-4.4" rx="2.2" ry="1.1" fill="#5e5e5e"/><ellipse cx="45.4" cy="7.8" rx="2.0" ry="1.0" fill="#646464"/><ellipse cx="24.0" cy="5.0" rx="8.0" ry="2.5" fill="#bdbdbd" transform="rotate(35 24.0 5.0)"/><ellipse cx="42.0" cy="4.5" rx="8.0" ry="3.0" fill="#2e2e2e"/><ellipse cx="66.0" cy="4.5" rx="8.0" ry="3.0" fill="#cccccc"/></g></g></g><path d="M335.1 195.4 L336.3 194.9 L337.8 194.8 L340.1 195.4 L342.3 195.8 L345.6 196.2 L347.5 196.9 L348.5 197.6 L349.9 197.6 L350.6 196.8 L352.2 196.3 L354.2 196.8 L355.7 197.5 L359.1 198.5 L361.5 199.6 L362.6 200.5 L363.9 201.0 L365.9 201.2 L368.5 201.4 L370.4 202.2 M375.4 201.3 L372.2 201.0 L369.8 200.9 L367.7 200.8 L366.1 200.3 L363.7 199.9 L362.5 199.4 L361.6 198.6 L361.3 198.0 L360.6 197.5 L362.1 197.3 L362.8 197.7 L365.2 197.7 L367.1 197.8 L369.4 198.2 L371.2 198.0 L372.7 198.4 L373.7 198.9 L374.3 198.8 L375.1 198.1 L375.0 197.4 L375.9 197.0 L377.3 196.3 L377.2 195.8 L376.2 195.2 L374.9 194.7 L372.9 194.0 L371.0 193.8 L368.6 193.6 L366.7 193.4 L364.3 193.0 L363.6 192.6 L363.5 192.0 L363.6 191.6 L364.4 190.8 L365.4 190.6 L366.7 190.5 L368.1 190.7 L369.1 190.9 L369.9 190.8 L369.1 190.3 L370.4 189.8 L371.6 189.4 L372.8 188.9 L373.8 188.7 L375.5 188.1 L376.8 187.6 L377.5 186.9 L378.2 186.2 L378.6 185.5 L377.8 184.9 L377.7 184.4 M369.1 192.3 L370.8 192.2 L371.8 191.7 L371.7 191.0 L370.5 190.9 L368.9 191.2 L368.2 191.8 L369.1 192.3 M361.4 203.3 L363.8 203.2 L365.4 202.9 L367.0 202.8" fill="none" stroke="#404040" stroke-width="0.3" stroke-opacity="0.45"/><g clip-path="url(#c131)"><g filter="url(#f13)"><g transform="translate(326.50 173.70)"><rect x="-2" y="-12" width="83" height="30" fill="#7a7a7a"/><ellipse cx="67.0" cy="5.4" rx="1.2" ry="0.6" fill="#a2a2a2"/><ellipse cx="23.9" cy="4.4" rx="1.6" ry="1.0" fill="#a5a5a5"/><ellipse cx="32.0" cy="8.7" rx="2.4" ry="1.2" fill="#999999"/><ellipse cx="42.2" cy="3.6" rx="1.2" ry="1.0" fill="#a2a2a2"/><ellipse cx="50.5" cy="0.8" rx="2.5" ry="1.3" fill="#a4a4a4"/><ellipse cx="28.1" cy="-0.6" rx="1.6" ry="1.0" fill="#bdbdbd"/><ellipse cx="24.8" cy="7.9" rx="1.7" ry="1.0" fill="#b9b9b9"/><ellipse cx="52.5" cy="8.8" rx="1.9" ry="1.0" fill="#b9b9b9"/><ellipse cx="45.4" cy="-0.2" rx="1.7" ry="1.4" fill="#a4a4a4"/><ellipse cx="33.9" cy="2.5" rx="1.3" ry="0.9" fill="#c3c3c3"/><ellipse cx="30.0" cy="-2.2" rx="1.6" ry="0.9" fill="#bebebe"/><ellipse cx="26.1" cy="-0.7" rx="1.2" ry="0.9" fill="#b7b7b7"/><ellipse cx="41.6" cy="-3.3" rx="2.5" ry="1.9" fill="#d7d7d7"/><ellipse cx="60.7" cy="4.0" rx="2.4" ry="1.5" fill="#cdcdcd"/><ellipse cx="28.9" cy="-3.9" rx="1.6" ry="1.3" fill="#a7a7a7"/><ellipse cx="41.4" cy="4.5" rx="1.3" ry="0.9" fill="#a4a4a4"/><ellipse cx="23.6" cy="2.5" rx="1.7" ry="0.9" fill="#9d9d9d"/><ellipse cx="26.8" cy="1.6" rx="2.6" ry="1.5" fill="#dadada"/><ellipse cx="4.5" cy="0.2" rx="2.3" ry="1.3" fill="#c5c5c5"/><ellipse cx="42.8" cy="4.9" rx="2.4" ry="1.3" fill="#9e9e9e"/><ellipse cx="42.7" cy="0.5" rx="2.2" ry="1.4" fill="#616161"/><ellipse cx="23.3" cy="4.8" rx="2.6" ry="1.6" fill="#616161"/><ellipse cx="22.3" cy="6.7" rx="1.4" ry="0.9" fill="#5f5f5f"/><ellipse cx="52.0" cy="-3.7" rx="1.5" ry="1.0" fill="#606060"/><ellipse cx="12.0" cy="1.0" rx="2.0" ry="1.0" fill="#333333"/><ellipse cx="23.7" cy="-1.4" rx="4.0" ry="1.5" fill="#cccccc"/><ellipse cx="32.5" cy="7.8" rx="5.0" ry="2.0" fill="#d9d9d9"/><ellipse cx="21.0" cy="4.5" rx="3.0" ry="1.5" fill="#bfbfbf"/><ellipse cx="16.0" cy="-0.5" rx="3.0" ry="1.2" fill="#9e9e9e"/><ellipse cx="51.0" cy="7.0" rx="4.0" ry="3.0" fill="#262626"/><ellipse cx="44.0" cy="0.0" rx="3.0" ry="1.5" fill="#404040"/><ellipse cx="67.0" cy="3.5" rx="9.0" ry="4.5" fill="#dbdbdb"/><ellipse cx="45.0" cy="12.0" rx="5.0" ry="1.5" fill="#b2b2b2"/></g></g></g><path d="M335.1 178.3 L336.3 177.8 L337.8 177.7 L340.1 178.3 L342.3 178.7 L345.6 179.1 L347.5 179.8 L348.5 180.5 L349.9 180.5 L350.6 179.7 L352.2 179.2 L354.2 179.7 L355.7 180.4 L359.1 181.4 L361.5 182.5 L362.6 183.4 L363.9 183.9 L365.9 184.1 L368.5 184.3 L370.4 185.1 M375.4 184.2 L372.2 183.9 L369.8 183.8 L367.7 183.7 L366.1 183.2 L363.7 182.8 L362.5 182.3 L361.6 181.5 L361.3 180.9 L360.6 180.4 L362.1 180.2 L362.8 180.6 L365.2 180.6 L367.1 180.7 L369.4 181.1 L371.2 180.9 L372.7 181.3 L373.7 181.8 L374.3 181.7 L375.1 181.0 L375.0 180.3 L375.9 179.9 L377.3 179.2 L377.2 178.7 L376.2 178.1 L374.9 177.6 L372.9 176.9 L371.0 176.7 L368.6 176.5 L366.7 176.3 L364.3 175.9 L363.6 175.5 L363.5 174.9 L363.6 174.5 L364.4 173.7 L365.4 173.5 L366.7 173.4 L368.1 173.6 L369.1 173.8 L369.9 173.7 L369.1 173.2 L370.4 172.7 L371.6 172.3 L372.8 171.8 L373.8 171.6 L375.5 171.0 L376.8 170.5 L377.5 169.8 L378.2 169.1 L378.6 168.4 L377.8 167.8 L377.7 167.3 M369.1 175.2 L370.8 175.1 L371.8 174.6 L371.7 173.9 L370.5 173.8 L368.9 174.1 L368.2 174.7 L369.1 175.2 M361.4 186.2 L363.8 186.1 L365.4 185.8 L367.0 185.7" fill="none" stroke="#404040" stroke-width="0.3" stroke-opacity="0.45"/><g clip-path="url(#c130)"><g filter="url(#f13)"><g transform="translate(326.50 156.60)"><rect x="-2" y="-12" width="83" height="30" fill="#7a7a7a"/><ellipse cx="44.8" cy="5.8" rx="2.4" ry="1.4" fill="#9e9e9e"/><ellipse cx="36.1" cy="7.9" rx="2.6" ry="1.4" fill="#c6c6c6"/><ellipse cx="27.5" cy="7.3" rx="1.8" ry="0.9" fill="#b7b7b7"/><ellipse cx="62.3" cy="4.9" rx="1.4" ry="1.1" fill="#b3b3b3"/><ellipse cx="27.6" cy="0.1" rx="2.4" ry="1.3" fill="#a1a1a1"/><ellipse cx="26.0" cy="5.7" rx="1.3" ry="1.0" fill="#a2a2a2"/><ellipse cx="23.5" cy="5.7" rx="1.3" ry="0.9" fill="#a5a5a5"/><ellipse cx="59.2" cy="0.5" rx="1.3" ry="1.0" fill="#cfcfcf"/><ellipse cx="46.4" cy="-2.1" rx="2.1" ry="1.2" fill="#bdbdbd"/><ellipse cx="33.6" cy="10.2" rx="2.1" ry="1.4" fill="#9f9f9f"/><ellipse cx="13.0" cy="4.2" rx="2.1" ry="1.3" fill="#bababa"/><ellipse cx="51.3" cy="8.9" rx="1.5" ry="0.8" fill="#9e9e9e"/><ellipse cx="54.1" cy="-2.5" rx="1.6" ry="0.9" fill="#a4a4a4"/><ellipse cx="31.2" cy="-1.2" rx="1.4" ry="0.8" fill="#c3c3c3"/><ellipse cx="27.0" cy="7.5" rx="1.5" ry="0.8" fill="#a1a1a1"/><ellipse cx="54.0" cy="0.5" rx="2.5" ry="1.5" fill="#a1a1a1"/><ellipse cx="26.7" cy="-3.1" rx="2.5" ry="1.3" fill="#d2d2d2"/><ellipse cx="58.2" cy="7.3" rx="2.3" ry="1.2" fill="#b4b4b4"/><ellipse cx="27.8" cy="2.1" rx="1.6" ry="1.2" fill="#a6a6a6"/><ellipse cx="49.7" cy="5.8" rx="2.3" ry="1.7" fill="#a6a6a6"/><ellipse cx="33.8" cy="3.3" rx="1.4" ry="1.0" fill="#5d5d5d"/><ellipse cx="33.0" cy="11.0" rx="1.6" ry="0.8" fill="#606060"/><ellipse cx="56.7" cy="4.2" rx="2.1" ry="1.3" fill="#606060"/><ellipse cx="58.7" cy="-0.1" rx="1.9" ry="1.3" fill="#5f5f5f"/><ellipse cx="13.0" cy="1.5" rx="3.0" ry="1.5" fill="#999999"/><ellipse cx="21.0" cy="0.6" rx="3.5" ry="1.5" fill="#cccccc"/><ellipse cx="27.5" cy="6.0" rx="4.0" ry="2.0" fill="#bfbfbf"/><ellipse cx="40.0" cy="-4.2" rx="13.0" ry="2.6" fill="#d9d9d9" transform="rotate(-10 40.0 -4.2)"/><ellipse cx="37.0" cy="-1.3" rx="4.0" ry="1.5" fill="#333333"/><ellipse cx="37.0" cy="2.0" rx="4.0" ry="2.0" fill="#8c8c8c"/><ellipse cx="47.0" cy="6.0" rx="6.0" ry="4.0" fill="#141414"/><ellipse cx="47.0" cy="6.0" rx="9.0" ry="6.0" fill="#404040"/><ellipse cx="58.0" cy="1.0" rx="5.0" ry="2.5" fill="#616161"/><ellipse cx="60.0" cy="0.0" rx="1.5" ry="1.0" fill="#333333"/><ellipse cx="66.0" cy="6.4" rx="10.0" ry="2.5" fill="#d6d6d6"/><ellipse cx="53.0" cy="-7.5" rx="5.0" ry="1.5" fill="#cccccc"/><ellipse cx="45.0" cy="12.0" rx="5.0" ry="2.0" fill="#8c8c8c"/></g></g></g><path d="M335.1 161.2 L336.3 160.7 L337.8 160.6 L340.1 161.2 L342.3 161.6 L345.6 162.0 L347.5 162.7 L348.5 163.4 L349.9 163.4 L350.6 162.6 L352.2 162.1 L354.2 162.6 L355.7 163.3 L359.1 164.3 L361.5 165.4 L362.6 166.3 L363.9 166.8 L365.9 167.0 L368.5 167.2 L370.4 168.0 M375.4 167.1 L372.2 166.8 L369.8 166.7 L367.7 166.6 L366.1 166.1 L363.7 165.7 L362.5 165.2 L361.6 164.4 L361.3 163.8 L360.6 163.3 L362.1 163.1 L362.8 163.5 L365.2 163.5 L367.1 163.6 L369.4 164.0 L371.2 163.8 L372.7 164.2 L373.7 164.7 L374.3 164.6 L375.1 163.9 L375.0 163.2 L375.9 162.8 L377.3 162.1 L377.2 161.6 L376.2 161.0 L374.9 160.5 L372.9 159.8 L371.0 159.6 L368.6 159.4 L366.7 159.2 L364.3 158.8 L363.6 158.4 L363.5 157.8 L363.6 157.4 L364.4 156.6 L365.4 156.4 L366.7 156.3 L368.1 156.5 L369.1 156.7 L369.9 156.6 L369.1 156.1 L370.4 155.6 L371.6 155.2 L372.8 154.7 L373.8 154.5 L375.5 153.9 L376.8 153.4 L377.5 152.7 L378.2 152.0 L378.6 151.3 L377.8 150.7 L377.7 150.2 M369.1 158.1 L370.8 158.0 L371.8 157.5 L371.7 156.8 L370.5 156.7 L368.9 157.0 L368.2 157.6 L369.1 158.1 M361.4 169.1 L363.8 169.0 L365.4 168.7 L367.0 168.6" fill="none" stroke="#404040" stroke-width="0.3" stroke-opacity="0.45"/><rect x="327.00" y="245.35" width="75.70" height="3.8" fill="url(#gjet)"/><line x1="17.10" y1="292.50" x2="17.10" y2="360.90" stroke="#c4c4c4" stroke-width="0.5"/><line x1="96.20" y1="298.60" x2="96.20" y2="367.00" stroke="#c4c4c4" stroke-width="0.5"/><g clip-path="url(#c204)"><g filter="url(#f20)"><g transform="translate(17.30 360.90)"><rect x="-2" y="-12" width="83" height="30" fill="#0d0d0d"/><ellipse cx="10.0" cy="1.5" rx="3.0" ry="1.2" fill="#1a1a1a" transform="rotate(-10 10.0 1.5)"/><ellipse cx="17.0" cy="1.0" rx="6.0" ry="1.4" fill="#262626" transform="rotate(-10 17.0 1.0)"/><ellipse cx="40.0" cy="4.0" rx="9.5" ry="4.0" fill="#5c5c5c"/><ellipse cx="40.0" cy="4.0" rx="5.0" ry="2.0" fill="#808080"/><ellipse cx="40.0" cy="4.0" rx="2.0" ry="1.0" fill="#8f8f8f"/></g></g></g><path d="M26.4 365.7 L27.6 365.2 L29.1 365.1 L31.5 365.8 L33.8 366.2 L37.3 366.6 L39.2 367.3 L40.3 368.1 L41.7 368.0 L42.4 367.2 L44.1 366.7 L46.1 367.2 L47.6 368.0 L51.2 368.9 L53.7 370.1 L54.9 371.1 L56.2 371.6 L58.3 371.8 L60.9 372.0 L63.0 372.8 M68.0 371.9 L64.8 371.5 L62.3 371.4 L60.1 371.3 L58.5 370.8 L56.0 370.5 L54.7 369.9 L53.8 369.1 L53.4 368.5 L52.7 368.0 L54.2 367.7 L55.0 368.1 L57.4 368.1 L59.4 368.2 L61.7 368.6 L63.6 368.4 L65.2 368.9 L66.2 369.4 L66.7 369.2 L67.6 368.5 L67.4 367.8 L68.4 367.4 L69.7 366.7 L69.6 366.1 L68.6 365.5 L67.3 365.0 L65.1 364.3 L63.2 364.0 L60.7 363.9 L58.8 363.7 L56.4 363.3 L55.6 362.8 L55.5 362.2 L55.6 361.7 L56.3 361.0 L57.4 360.7 L58.8 360.7 L60.2 360.8 L61.2 361.1 L62.0 361.0 L61.1 360.4 L62.4 360.0 L63.8 359.5 L64.9 359.0 L66.0 358.7 L67.7 358.1 L69.0 357.7 L69.7 356.9 L70.4 356.2 L70.8 355.5 L70.0 354.8 L69.9 354.3 M61.3 362.5 L62.9 362.4 L64.0 361.9 L63.8 361.2 L62.6 361.0 L61.0 361.4 L60.2 362.0 L61.3 362.5 M53.8 374.0 L56.2 373.9 L57.9 373.6 L59.5 373.4" fill="none" stroke="#c8287a" stroke-width="0.4" stroke-opacity="0.5" stroke-dasharray="0.8 0.4"/><g clip-path="url(#c203)"><g filter="url(#f20)"><g transform="translate(17.30 343.80)"><rect x="-2" y="-12" width="83" height="30" fill="#0d0d0d"/><ellipse cx="10.0" cy="1.5" rx="3.0" ry="1.2" fill="#1a1a1a" transform="rotate(-10 10.0 1.5)"/><ellipse cx="17.0" cy="1.0" rx="6.0" ry="1.4" fill="#262626" transform="rotate(-10 17.0 1.0)"/><ellipse cx="39.0" cy="3.0" rx="8.0" ry="2.5" fill="#525252"/><ellipse cx="39.0" cy="3.0" rx="3.5" ry="1.2" fill="#757575"/></g></g></g><path d="M26.4 348.6 L27.6 348.1 L29.1 348.0 L31.5 348.7 L33.8 349.1 L37.3 349.5 L39.2 350.2 L40.3 351.0 L41.7 350.9 L42.4 350.1 L44.1 349.6 L46.1 350.1 L47.6 350.9 L51.2 351.8 L53.7 353.0 L54.9 354.0 L56.2 354.5 L58.3 354.7 L60.9 354.9 L63.0 355.7 M68.0 354.8 L64.8 354.4 L62.3 354.3 L60.1 354.2 L58.5 353.7 L56.0 353.4 L54.7 352.8 L53.8 352.0 L53.4 351.4 L52.7 350.9 L54.2 350.6 L55.0 351.0 L57.4 351.0 L59.4 351.1 L61.7 351.5 L63.6 351.3 L65.2 351.8 L66.2 352.3 L66.7 352.1 L67.6 351.4 L67.4 350.7 L68.4 350.3 L69.7 349.6 L69.6 349.0 L68.6 348.4 L67.3 347.9 L65.1 347.2 L63.2 346.9 L60.7 346.8 L58.8 346.6 L56.4 346.2 L55.6 345.7 L55.5 345.1 L55.6 344.6 L56.3 343.9 L57.4 343.6 L58.8 343.6 L60.2 343.7 L61.2 344.0 L62.0 343.9 L61.1 343.3 L62.4 342.9 L63.8 342.4 L64.9 341.9 L66.0 341.6 L67.7 341.0 L69.0 340.6 L69.7 339.8 L70.4 339.1 L70.8 338.4 L70.0 337.7 L69.9 337.2 M61.3 345.4 L62.9 345.3 L64.0 344.8 L63.8 344.1 L62.6 343.9 L61.0 344.3 L60.2 344.9 L61.3 345.4 M53.8 356.9 L56.2 356.8 L57.9 356.5 L59.5 356.3" fill="none" stroke="#c8287a" stroke-width="0.4" stroke-opacity="0.5" stroke-dasharray="0.8 0.4"/><g clip-path="url(#c202)"><g filter="url(#f20)"><g transform="translate(17.30 326.70)"><rect x="-2" y="-12" width="83" height="30" fill="#0d0d0d"/><ellipse cx="10.0" cy="1.5" rx="3.0" ry="1.2" fill="#1a1a1a" transform="rotate(-10 10.0 1.5)"/><ellipse cx="17.0" cy="1.0" rx="6.0" ry="1.4" fill="#262626" transform="rotate(-10 17.0 1.0)"/><ellipse cx="38.0" cy="2.5" rx="7.0" ry="2.0" fill="#424242"/><ellipse cx="38.0" cy="2.5" rx="3.0" ry="1.0" fill="#616161"/></g></g></g><path d="M26.4 331.5 L27.6 331.0 L29.1 330.9 L31.5 331.6 L33.8 332.0 L37.3 332.4 L39.2 333.1 L40.3 333.9 L41.7 333.8 L42.4 333.0 L44.1 332.5 L46.1 333.0 L47.6 333.8 L51.2 334.7 L53.7 335.9 L54.9 336.9 L56.2 337.4 L58.3 337.6 L60.9 337.8 L63.0 338.6 M68.0 337.7 L64.8 337.3 L62.3 337.2 L60.1 337.1 L58.5 336.6 L56.0 336.3 L54.7 335.7 L53.8 334.9 L53.4 334.3 L52.7 333.8 L54.2 333.5 L55.0 333.9 L57.4 333.9 L59.4 334.0 L61.7 334.4 L63.6 334.2 L65.2 334.7 L66.2 335.2 L66.7 335.0 L67.6 334.3 L67.4 333.6 L68.4 333.2 L69.7 332.5 L69.6 331.9 L68.6 331.3 L67.3 330.8 L65.1 330.1 L63.2 329.8 L60.7 329.7 L58.8 329.5 L56.4 329.1 L55.6 328.6 L55.5 328.0 L55.6 327.5 L56.3 326.8 L57.4 326.5 L58.8 326.5 L60.2 326.6 L61.2 326.9 L62.0 326.8 L61.1 326.2 L62.4 325.8 L63.8 325.3 L64.9 324.8 L66.0 324.5 L67.7 323.9 L69.0 323.5 L69.7 322.7 L70.4 322.0 L70.8 321.3 L70.0 320.6 L69.9 320.1 M61.3 328.3 L62.9 328.2 L64.0 327.7 L63.8 327.0 L62.6 326.8 L61.0 327.2 L60.2 327.8 L61.3 328.3 M53.8 339.8 L56.2 339.7 L57.9 339.4 L59.5 339.2" fill="none" stroke="#c8287a" stroke-width="0.4" stroke-opacity="0.5" stroke-dasharray="0.8 0.4"/><g clip-path="url(#c201)"><g filter="url(#f20)"><g transform="translate(17.30 309.60)"><rect x="-2" y="-12" width="83" height="30" fill="#0d0d0d"/><ellipse cx="10.0" cy="1.5" rx="3.0" ry="1.2" fill="#1a1a1a" transform="rotate(-10 10.0 1.5)"/><ellipse cx="17.0" cy="1.0" rx="6.0" ry="1.4" fill="#262626" transform="rotate(-10 17.0 1.0)"/><ellipse cx="34.0" cy="0.0" rx="4.0" ry="1.5" fill="#212121"/><ellipse cx="52.0" cy="2.0" rx="3.0" ry="1.5" fill="#1a1a1a"/></g></g></g><path d="M26.4 314.4 L27.6 313.9 L29.1 313.8 L31.5 314.5 L33.8 314.9 L37.3 315.3 L39.2 316.0 L40.3 316.8 L41.7 316.7 L42.4 315.9 L44.1 315.4 L46.1 315.9 L47.6 316.7 L51.2 317.6 L53.7 318.8 L54.9 319.8 L56.2 320.3 L58.3 320.5 L60.9 320.7 L63.0 321.5 M68.0 320.6 L64.8 320.2 L62.3 320.1 L60.1 320.0 L58.5 319.5 L56.0 319.2 L54.7 318.6 L53.8 317.8 L53.4 317.2 L52.7 316.7 L54.2 316.4 L55.0 316.8 L57.4 316.8 L59.4 316.9 L61.7 317.3 L63.6 317.1 L65.2 317.6 L66.2 318.1 L66.7 317.9 L67.6 317.2 L67.4 316.5 L68.4 316.1 L69.7 315.4 L69.6 314.8 L68.6 314.2 L67.3 313.7 L65.1 313.0 L63.2 312.7 L60.7 312.6 L58.8 312.4 L56.4 312.0 L55.6 311.5 L55.5 310.9 L55.6 310.4 L56.3 309.7 L57.4 309.4 L58.8 309.4 L60.2 309.5 L61.2 309.8 L62.0 309.7 L61.1 309.1 L62.4 308.7 L63.8 308.2 L64.9 307.7 L66.0 307.4 L67.7 306.8 L69.0 306.4 L69.7 305.6 L70.4 304.9 L70.8 304.2 L70.0 303.5 L69.9 303.0 M61.3 311.2 L62.9 311.1 L64.0 310.6 L63.8 309.9 L62.6 309.7 L61.0 310.1 L60.2 310.7 L61.3 311.2 M53.8 322.7 L56.2 322.6 L57.9 322.3 L59.5 322.1" fill="none" stroke="#c8287a" stroke-width="0.4" stroke-opacity="0.5" stroke-dasharray="0.8 0.4"/><g clip-path="url(#c200)"><g filter="url(#f20)"><g transform="translate(17.30 292.50)"><rect x="-2" y="-12" width="83" height="30" fill="#0d0d0d"/><ellipse cx="10.0" cy="1.5" rx="3.0" ry="1.2" fill="#1a1a1a" transform="rotate(-10 10.0 1.5)"/><ellipse cx="17.0" cy="1.0" rx="6.0" ry="1.4" fill="#262626" transform="rotate(-10 17.0 1.0)"/><ellipse cx="34.0" cy="-2.0" rx="4.0" ry="1.5" fill="#1f1f1f"/><ellipse cx="51.0" cy="1.0" rx="4.0" ry="1.5" fill="#1f1f1f"/></g></g></g><path d="M26.4 297.3 L27.6 296.8 L29.1 296.7 L31.5 297.4 L33.8 297.8 L37.3 298.2 L39.2 298.9 L40.3 299.7 L41.7 299.6 L42.4 298.8 L44.1 298.3 L46.1 298.8 L47.6 299.6 L51.2 300.5 L53.7 301.7 L54.9 302.7 L56.2 303.2 L58.3 303.4 L60.9 303.6 L63.0 304.4 M68.0 303.5 L64.8 303.1 L62.3 303.0 L60.1 302.9 L58.5 302.4 L56.0 302.1 L54.7 301.5 L53.8 300.7 L53.4 300.1 L52.7 299.6 L54.2 299.3 L55.0 299.7 L57.4 299.7 L59.4 299.8 L61.7 300.2 L63.6 300.0 L65.2 300.5 L66.2 301.0 L66.7 300.8 L67.6 300.1 L67.4 299.4 L68.4 299.0 L69.7 298.3 L69.6 297.7 L68.6 297.1 L67.3 296.6 L65.1 295.9 L63.2 295.6 L60.7 295.5 L58.8 295.3 L56.4 294.9 L55.6 294.4 L55.5 293.8 L55.6 293.3 L56.3 292.6 L57.4 292.3 L58.8 292.3 L60.2 292.4 L61.2 292.7 L62.0 292.6 L61.1 292.0 L62.4 291.6 L63.8 291.1 L64.9 290.6 L66.0 290.3 L67.7 289.7 L69.0 289.3 L69.7 288.5 L70.4 287.8 L70.8 287.1 L70.0 286.4 L69.9 285.9 M61.3 294.1 L62.9 294.0 L64.0 293.5 L63.8 292.8 L62.6 292.6 L61.0 293.0 L60.2 293.6 L61.3 294.1 M53.8 305.6 L56.2 305.5 L57.9 305.2 L59.5 305.0" fill="none" stroke="#c8287a" stroke-width="0.4" stroke-opacity="0.5" stroke-dasharray="0.8 0.4"/><rect x="16.90" y="381.50" width="79.20" height="3.8" fill="url(#gpar)"/><line x1="119.30" y1="292.90" x2="119.30" y2="361.30" stroke="#c4c4c4" stroke-width="0.5"/><line x1="198.70" y1="298.80" x2="198.70" y2="367.20" stroke="#c4c4c4" stroke-width="0.5"/><g clip-path="url(#c214)"><g filter="url(#f21)"><g transform="translate(119.50 361.30)"><rect x="-2" y="-12" width="83" height="30" fill="#a1a1a1"/><ellipse cx="8.0" cy="0.0" rx="10.0" ry="2.5" fill="#666666"/><ellipse cx="24.0" cy="-1.3" rx="4.5" ry="1.3" fill="#ebebeb" transform="rotate(-10 24.0 -1.3)"/><ellipse cx="24.0" cy="11.0" rx="12.0" ry="4.0" fill="#adadad"/><ellipse cx="56.0" cy="3.0" rx="20.0" ry="6.0" fill="#5c5c5c"/><ellipse cx="40.0" cy="2.0" rx="6.0" ry="2.0" fill="#545454"/></g></g></g><path d="M128.6 366.1 L129.8 365.5 L131.3 365.4 L133.7 366.1 L136.0 366.5 L139.5 366.9 L141.5 367.6 L142.5 368.4 L143.9 368.3 L144.6 367.5 L146.3 367.0 L148.4 367.5 L149.9 368.3 L153.5 369.2 L155.9 370.4 L157.2 371.3 L158.5 371.9 L160.6 372.1 L163.2 372.3 L165.3 373.1 M170.3 372.2 L167.1 371.8 L164.6 371.7 L162.4 371.6 L160.7 371.1 L158.3 370.7 L156.9 370.2 L156.1 369.4 L155.7 368.7 L154.9 368.2 L156.4 368.0 L157.3 368.4 L159.7 368.3 L161.7 368.5 L164.0 368.8 L165.9 368.7 L167.5 369.1 L168.5 369.6 L169.1 369.5 L169.9 368.7 L169.8 368.0 L170.7 367.7 L172.0 366.9 L171.9 366.3 L170.9 365.7 L169.6 365.1 L167.4 364.5 L165.5 364.2 L163.0 364.1 L161.0 363.9 L158.6 363.4 L157.8 363.0 L157.7 362.4 L157.8 361.9 L158.5 361.1 L159.6 360.9 L160.9 360.8 L162.4 360.9 L163.4 361.2 L164.2 361.1 L163.3 360.5 L164.6 360.1 L165.9 359.6 L167.1 359.1 L168.1 358.8 L169.8 358.2 L171.1 357.7 L171.8 357.0 L172.5 356.2 L172.9 355.5 L172.1 354.8 L171.9 354.2 M163.5 362.6 L165.2 362.6 L166.2 362.0 L166.0 361.3 L164.8 361.1 L163.2 361.5 L162.4 362.1 L163.5 362.6 M156.0 374.3 L158.5 374.1 L160.2 373.8 L161.7 373.7" fill="none" stroke="#404040" stroke-width="0.3" stroke-opacity="0.35"/><g clip-path="url(#c213)"><g filter="url(#f21)"><g transform="translate(119.50 344.20)"><rect x="-2" y="-12" width="83" height="30" fill="#a1a1a1"/><ellipse cx="8.0" cy="0.0" rx="9.0" ry="2.5" fill="#666666"/><ellipse cx="24.0" cy="-1.3" rx="4.5" ry="1.3" fill="#ededed" transform="rotate(-10 24.0 -1.3)"/><ellipse cx="42.0" cy="-2.0" rx="16.0" ry="3.5" fill="#616161"/><ellipse cx="30.0" cy="10.0" rx="10.0" ry="4.0" fill="#adadad"/><ellipse cx="58.0" cy="3.0" rx="18.0" ry="5.0" fill="#5e5e5e"/></g></g></g><path d="M128.6 349.0 L129.8 348.4 L131.3 348.3 L133.7 349.0 L136.0 349.4 L139.5 349.8 L141.5 350.5 L142.5 351.3 L143.9 351.2 L144.6 350.4 L146.3 349.9 L148.4 350.4 L149.9 351.2 L153.5 352.1 L155.9 353.3 L157.2 354.2 L158.5 354.8 L160.6 355.0 L163.2 355.2 L165.3 356.0 M170.3 355.1 L167.1 354.7 L164.6 354.6 L162.4 354.5 L160.7 354.0 L158.3 353.6 L156.9 353.1 L156.1 352.3 L155.7 351.6 L154.9 351.1 L156.4 350.9 L157.3 351.3 L159.7 351.2 L161.7 351.4 L164.0 351.7 L165.9 351.6 L167.5 352.0 L168.5 352.5 L169.1 352.4 L169.9 351.6 L169.8 350.9 L170.7 350.6 L172.0 349.8 L171.9 349.2 L170.9 348.6 L169.6 348.0 L167.4 347.4 L165.5 347.1 L163.0 347.0 L161.0 346.8 L158.6 346.3 L157.8 345.9 L157.7 345.3 L157.8 344.8 L158.5 344.0 L159.6 343.8 L160.9 343.7 L162.4 343.8 L163.4 344.1 L164.2 344.0 L163.3 343.4 L164.6 343.0 L165.9 342.5 L167.1 342.0 L168.1 341.7 L169.8 341.1 L171.1 340.6 L171.8 339.9 L172.5 339.1 L172.9 338.4 L172.1 337.7 L171.9 337.1 M163.5 345.5 L165.2 345.5 L166.2 344.9 L166.0 344.2 L164.8 344.0 L163.2 344.4 L162.4 345.0 L163.5 345.5 M156.0 357.2 L158.5 357.0 L160.2 356.7 L161.7 356.6" fill="none" stroke="#404040" stroke-width="0.3" stroke-opacity="0.35"/><g clip-path="url(#c212)"><g filter="url(#f21)"><g transform="translate(119.50 327.10)"><rect x="-2" y="-12" width="83" height="30" fill="#a1a1a1"/><ellipse cx="8.0" cy="0.0" rx="9.0" ry="2.5" fill="#6b6b6b"/><ellipse cx="23.5" cy="-1.3" rx="4.5" ry="1.3" fill="#ebebeb" transform="rotate(-10 23.5 -1.3)"/><ellipse cx="38.0" cy="-3.0" rx="12.0" ry="3.0" fill="#666666"/><ellipse cx="32.0" cy="7.5" rx="14.0" ry="4.0" fill="#adadad"/><ellipse cx="60.0" cy="3.0" rx="16.0" ry="5.0" fill="#666666"/></g></g></g><path d="M128.6 331.9 L129.8 331.3 L131.3 331.2 L133.7 331.9 L136.0 332.3 L139.5 332.7 L141.5 333.4 L142.5 334.2 L143.9 334.1 L144.6 333.3 L146.3 332.8 L148.4 333.3 L149.9 334.1 L153.5 335.0 L155.9 336.2 L157.2 337.1 L158.5 337.7 L160.6 337.9 L163.2 338.1 L165.3 338.9 M170.3 338.0 L167.1 337.6 L164.6 337.5 L162.4 337.4 L160.7 336.9 L158.3 336.5 L156.9 336.0 L156.1 335.2 L155.7 334.5 L154.9 334.0 L156.4 333.8 L157.3 334.2 L159.7 334.1 L161.7 334.3 L164.0 334.6 L165.9 334.5 L167.5 334.9 L168.5 335.4 L169.1 335.3 L169.9 334.5 L169.8 333.8 L170.7 333.5 L172.0 332.7 L171.9 332.1 L170.9 331.5 L169.6 330.9 L167.4 330.3 L165.5 330.0 L163.0 329.9 L161.0 329.7 L158.6 329.2 L157.8 328.8 L157.7 328.2 L157.8 327.7 L158.5 326.9 L159.6 326.7 L160.9 326.6 L162.4 326.7 L163.4 327.0 L164.2 326.9 L163.3 326.3 L164.6 325.9 L165.9 325.4 L167.1 324.9 L168.1 324.6 L169.8 324.0 L171.1 323.5 L171.8 322.8 L172.5 322.0 L172.9 321.3 L172.1 320.6 L171.9 320.0 M163.5 328.4 L165.2 328.4 L166.2 327.8 L166.0 327.1 L164.8 326.9 L163.2 327.3 L162.4 327.9 L163.5 328.4 M156.0 340.1 L158.5 339.9 L160.2 339.6 L161.7 339.5" fill="none" stroke="#404040" stroke-width="0.3" stroke-opacity="0.35"/><g clip-path="url(#c211)"><g filter="url(#f21)"><g transform="translate(119.50 310.00)"><rect x="-2" y="-12" width="83" height="30" fill="#a1a1a1"/><ellipse cx="56.0" cy="-1.0" rx="14.0" ry="4.0" fill="#666666"/><ellipse cx="70.0" cy="5.0" rx="7.0" ry="2.5" fill="#808080"/><ellipse cx="44.0" cy="-6.0" rx="7.0" ry="2.5" fill="#595959"/><ellipse cx="36.0" cy="4.0" rx="9.0" ry="4.0" fill="#b2b2b2"/><ellipse cx="36.0" cy="4.0" rx="4.0" ry="2.0" fill="#c2c2c2"/><ellipse cx="22.0" cy="-2.0" rx="10.0" ry="3.0" fill="#8f8f8f"/><ellipse cx="18.0" cy="8.0" rx="7.0" ry="3.0" fill="#adadad"/></g></g></g><path d="M128.6 314.8 L129.8 314.2 L131.3 314.1 L133.7 314.8 L136.0 315.2 L139.5 315.6 L141.5 316.3 L142.5 317.1 L143.9 317.0 L144.6 316.2 L146.3 315.7 L148.4 316.2 L149.9 317.0 L153.5 317.9 L155.9 319.1 L157.2 320.0 L158.5 320.6 L160.6 320.8 L163.2 321.0 L165.3 321.8 M170.3 320.9 L167.1 320.5 L164.6 320.4 L162.4 320.3 L160.7 319.8 L158.3 319.4 L156.9 318.9 L156.1 318.1 L155.7 317.4 L154.9 316.9 L156.4 316.7 L157.3 317.1 L159.7 317.0 L161.7 317.2 L164.0 317.5 L165.9 317.4 L167.5 317.8 L168.5 318.3 L169.1 318.2 L169.9 317.4 L169.8 316.7 L170.7 316.4 L172.0 315.6 L171.9 315.0 L170.9 314.4 L169.6 313.8 L167.4 313.2 L165.5 312.9 L163.0 312.8 L161.0 312.6 L158.6 312.1 L157.8 311.7 L157.7 311.1 L157.8 310.6 L158.5 309.8 L159.6 309.6 L160.9 309.5 L162.4 309.6 L163.4 309.9 L164.2 309.8 L163.3 309.2 L164.6 308.8 L165.9 308.3 L167.1 307.8 L168.1 307.5 L169.8 306.9 L171.1 306.4 L171.8 305.7 L172.5 304.9 L172.9 304.2 L172.1 303.5 L171.9 302.9 M163.5 311.3 L165.2 311.3 L166.2 310.7 L166.0 310.0 L164.8 309.8 L163.2 310.2 L162.4 310.8 L163.5 311.3 M156.0 323.0 L158.5 322.8 L160.2 322.5 L161.7 322.4" fill="none" stroke="#404040" stroke-width="0.3" stroke-opacity="0.35"/><g clip-path="url(#c210)"><g filter="url(#f21)"><g transform="translate(119.50 292.90)"><rect x="-2" y="-12" width="83" height="30" fill="#a1a1a1"/><ellipse cx="56.0" cy="-2.0" rx="14.0" ry="4.0" fill="#666666"/><ellipse cx="70.0" cy="5.0" rx="7.0" ry="2.5" fill="#808080"/><ellipse cx="44.0" cy="-6.5" rx="7.0" ry="2.5" fill="#5c5c5c"/><ellipse cx="37.0" cy="3.0" rx="10.0" ry="4.5" fill="#b2b2b2"/><ellipse cx="38.0" cy="3.0" rx="5.0" ry="2.5" fill="#bfbfbf"/><ellipse cx="22.0" cy="-3.0" rx="12.0" ry="3.0" fill="#8f8f8f"/><ellipse cx="18.0" cy="8.0" rx="7.0" ry="3.0" fill="#adadad"/><ellipse cx="4.0" cy="0.5" rx="4.0" ry="2.0" fill="#999999"/></g></g></g><path d="M128.6 297.7 L129.8 297.1 L131.3 297.0 L133.7 297.7 L136.0 298.1 L139.5 298.5 L141.5 299.2 L142.5 300.0 L143.9 299.9 L144.6 299.1 L146.3 298.6 L148.4 299.1 L149.9 299.9 L153.5 300.8 L155.9 302.0 L157.2 302.9 L158.5 303.5 L160.6 303.7 L163.2 303.9 L165.3 304.7 M170.3 303.8 L167.1 303.4 L164.6 303.3 L162.4 303.2 L160.7 302.7 L158.3 302.3 L156.9 301.8 L156.1 301.0 L155.7 300.3 L154.9 299.8 L156.4 299.6 L157.3 300.0 L159.7 299.9 L161.7 300.1 L164.0 300.4 L165.9 300.3 L167.5 300.7 L168.5 301.2 L169.1 301.1 L169.9 300.3 L169.8 299.6 L170.7 299.3 L172.0 298.5 L171.9 297.9 L170.9 297.3 L169.6 296.7 L167.4 296.1 L165.5 295.8 L163.0 295.7 L161.0 295.5 L158.6 295.0 L157.8 294.6 L157.7 294.0 L157.8 293.5 L158.5 292.7 L159.6 292.5 L160.9 292.4 L162.4 292.5 L163.4 292.8 L164.2 292.7 L163.3 292.1 L164.6 291.7 L165.9 291.2 L167.1 290.7 L168.1 290.4 L169.8 289.8 L171.1 289.3 L171.8 288.6 L172.5 287.8 L172.9 287.1 L172.1 286.4 L171.9 285.8 M163.5 294.2 L165.2 294.2 L166.2 293.6 L166.0 292.9 L164.8 292.7 L163.2 293.1 L162.4 293.7 L163.5 294.2 M156.0 305.9 L158.5 305.7 L160.2 305.4 L161.7 305.3" fill="none" stroke="#404040" stroke-width="0.3" stroke-opacity="0.35"/><rect x="119.20" y="381.50" width="78.40" height="3.8" fill="url(#gjet)"/><line x1="221.30" y1="293.30" x2="221.30" y2="361.70" stroke="#c4c4c4" stroke-width="0.5"/><line x1="301.40" y1="299.10" x2="301.40" y2="367.50" stroke="#c4c4c4" stroke-width="0.5"/><g clip-path="url(#c224)"><g filter="url(#f22)"><g transform="translate(221.50 361.70)"><rect x="-2" y="-12" width="83" height="30" fill="#7a7a7a"/><ellipse cx="26.9" cy="8.8" rx="1.8" ry="1.3" fill="#a5a5a5"/><ellipse cx="23.3" cy="9.1" rx="2.4" ry="1.5" fill="#a3a3a3"/><ellipse cx="59.7" cy="1.7" rx="2.1" ry="1.3" fill="#a5a5a5"/><ellipse cx="59.6" cy="-1.6" rx="1.7" ry="0.9" fill="#999999"/><ellipse cx="36.3" cy="-4.5" rx="2.5" ry="1.7" fill="#9d9d9d"/><ellipse cx="38.7" cy="3.4" rx="1.9" ry="1.3" fill="#5f5f5f"/><ellipse cx="53.0" cy="4.9" rx="1.8" ry="1.1" fill="#646464"/><ellipse cx="28.5" cy="7.8" rx="1.9" ry="1.2" fill="#616161"/><ellipse cx="12.4" cy="3.1" rx="2.4" ry="1.9" fill="#606060"/><ellipse cx="50.3" cy="8.4" rx="2.5" ry="1.4" fill="#5e5e5e"/><ellipse cx="10.0" cy="1.0" rx="4.0" ry="2.0" fill="#bfbfbf"/><ellipse cx="48.0" cy="5.0" rx="5.0" ry="2.0" fill="#949494"/><ellipse cx="30.0" cy="5.0" rx="4.0" ry="2.0" fill="#8f8f8f"/></g></g></g><path d="M230.7 366.4 L231.9 365.9 L233.5 365.8 L235.9 366.4 L238.2 366.8 L241.7 367.2 L243.7 367.9 L244.8 368.7 L246.2 368.6 L246.9 367.8 L248.6 367.3 L250.7 367.8 L252.2 368.5 L255.9 369.5 L258.4 370.6 L259.6 371.6 L261.0 372.1 L263.1 372.3 L265.7 372.5 L267.8 373.3 M272.9 372.4 L269.6 372.0 L267.1 371.9 L264.9 371.8 L263.2 371.3 L260.7 371.0 L259.4 370.4 L258.5 369.6 L258.1 369.0 L257.3 368.5 L258.8 368.2 L259.6 368.6 L262.1 368.6 L264.1 368.7 L266.5 369.1 L268.4 368.9 L269.9 369.4 L271.0 369.9 L271.6 369.7 L272.4 369.0 L272.2 368.2 L273.2 367.9 L274.5 367.1 L274.4 366.6 L273.3 366.0 L272.0 365.4 L269.8 364.8 L267.8 364.5 L265.3 364.4 L263.3 364.2 L260.9 363.7 L260.0 363.3 L259.9 362.7 L260.0 362.2 L260.7 361.4 L261.8 361.2 L263.2 361.1 L264.6 361.2 L265.6 361.5 L266.5 361.4 L265.6 360.8 L266.8 360.3 L268.1 359.8 L269.3 359.3 L270.4 359.0 L272.0 358.4 L273.3 358.0 L274.0 357.2 L274.7 356.4 L275.0 355.7 L274.2 355.0 L274.0 354.4 M265.8 362.9 L267.5 362.9 L268.5 362.3 L268.3 361.6 L267.0 361.4 L265.5 361.8 L264.7 362.4 L265.8 362.9 M258.5 374.5 L261.0 374.4 L262.7 374.1 L264.3 373.9" fill="none" stroke="#404040" stroke-width="0.3" stroke-opacity="0.45"/><g clip-path="url(#c223)"><g filter="url(#f22)"><g transform="translate(221.50 344.60)"><rect x="-2" y="-12" width="83" height="30" fill="#7a7a7a"/><ellipse cx="62.7" cy="1.3" rx="2.4" ry="1.7" fill="#a0a0a0"/><ellipse cx="65.5" cy="5.9" rx="1.4" ry="0.7" fill="#d7d7d7"/><ellipse cx="62.8" cy="6.8" rx="1.3" ry="0.9" fill="#b7b7b7"/><ellipse cx="65.8" cy="2.8" rx="2.1" ry="1.5" fill="#b5b5b5"/><ellipse cx="33.7" cy="-4.5" rx="1.9" ry="1.5" fill="#9f9f9f"/><ellipse cx="49.3" cy="2.6" rx="2.5" ry="1.8" fill="#616161"/><ellipse cx="20.4" cy="3.5" rx="1.4" ry="0.8" fill="#5c5c5c"/><ellipse cx="36.8" cy="1.4" rx="1.4" ry="1.1" fill="#636363"/><ellipse cx="29.1" cy="0.8" rx="2.4" ry="1.3" fill="#5f5f5f"/><ellipse cx="19.3" cy="7.2" rx="1.8" ry="1.3" fill="#626262"/><ellipse cx="10.0" cy="1.0" rx="4.0" ry="2.0" fill="#bfbfbf"/><ellipse cx="28.0" cy="12.6" rx="2.0" ry="1.0" fill="#242424"/><ellipse cx="48.0" cy="6.0" rx="5.0" ry="2.0" fill="#999999"/></g></g></g><path d="M230.7 349.3 L231.9 348.8 L233.5 348.7 L235.9 349.3 L238.2 349.7 L241.7 350.1 L243.7 350.8 L244.8 351.6 L246.2 351.5 L246.9 350.7 L248.6 350.2 L250.7 350.7 L252.2 351.4 L255.9 352.4 L258.4 353.5 L259.6 354.5 L261.0 355.0 L263.1 355.2 L265.7 355.4 L267.8 356.2 M272.9 355.3 L269.6 354.9 L267.1 354.8 L264.9 354.7 L263.2 354.2 L260.7 353.9 L259.4 353.3 L258.5 352.5 L258.1 351.9 L257.3 351.4 L258.8 351.1 L259.6 351.5 L262.1 351.5 L264.1 351.6 L266.5 352.0 L268.4 351.8 L269.9 352.3 L271.0 352.8 L271.6 352.6 L272.4 351.9 L272.2 351.1 L273.2 350.8 L274.5 350.0 L274.4 349.5 L273.3 348.9 L272.0 348.3 L269.8 347.7 L267.8 347.4 L265.3 347.3 L263.3 347.1 L260.9 346.6 L260.0 346.2 L259.9 345.6 L260.0 345.1 L260.7 344.3 L261.8 344.1 L263.2 344.0 L264.6 344.1 L265.6 344.4 L266.5 344.3 L265.6 343.7 L266.8 343.2 L268.1 342.7 L269.3 342.2 L270.4 341.9 L272.0 341.3 L273.3 340.9 L274.0 340.1 L274.7 339.3 L275.0 338.6 L274.2 337.9 L274.0 337.3 M265.8 345.8 L267.5 345.8 L268.5 345.2 L268.3 344.5 L267.0 344.3 L265.5 344.7 L264.7 345.3 L265.8 345.8 M258.5 357.4 L261.0 357.3 L262.7 357.0 L264.3 356.8" fill="none" stroke="#404040" stroke-width="0.3" stroke-opacity="0.45"/><g clip-path="url(#c222)"><g filter="url(#f22)"><g transform="translate(221.50 327.50)"><rect x="-2" y="-12" width="83" height="30" fill="#7a7a7a"/><ellipse cx="39.7" cy="1.2" rx="2.3" ry="1.5" fill="#b3b3b3"/><ellipse cx="22.6" cy="1.2" rx="2.5" ry="1.8" fill="#a7a7a7"/><ellipse cx="12.2" cy="3.4" rx="2.3" ry="1.8" fill="#999999"/><ellipse cx="22.5" cy="1.5" rx="1.9" ry="1.4" fill="#9e9e9e"/><ellipse cx="9.6" cy="1.1" rx="2.2" ry="1.6" fill="#a3a3a3"/><ellipse cx="15.8" cy="-0.1" rx="1.2" ry="0.8" fill="#5e5e5e"/><ellipse cx="50.0" cy="9.6" rx="1.2" ry="0.8" fill="#656565"/><ellipse cx="61.3" cy="6.8" rx="2.6" ry="1.6" fill="#5f5f5f"/><ellipse cx="42.1" cy="-3.9" rx="2.3" ry="1.2" fill="#616161"/><ellipse cx="40.7" cy="5.9" rx="2.6" ry="1.3" fill="#636363"/><ellipse cx="10.0" cy="1.0" rx="4.0" ry="2.0" fill="#bfbfbf"/><ellipse cx="29.0" cy="13.0" rx="3.0" ry="1.5" fill="#242424"/><ellipse cx="49.0" cy="5.5" rx="5.0" ry="2.0" fill="#adadad"/><ellipse cx="62.0" cy="6.0" rx="8.0" ry="3.0" fill="#5c5c5c"/></g></g></g><path d="M230.7 332.2 L231.9 331.7 L233.5 331.6 L235.9 332.2 L238.2 332.6 L241.7 333.0 L243.7 333.7 L244.8 334.5 L246.2 334.4 L246.9 333.6 L248.6 333.1 L250.7 333.6 L252.2 334.3 L255.9 335.3 L258.4 336.4 L259.6 337.4 L261.0 337.9 L263.1 338.1 L265.7 338.3 L267.8 339.1 M272.9 338.2 L269.6 337.8 L267.1 337.7 L264.9 337.6 L263.2 337.1 L260.7 336.8 L259.4 336.2 L258.5 335.4 L258.1 334.8 L257.3 334.3 L258.8 334.0 L259.6 334.4 L262.1 334.4 L264.1 334.5 L266.5 334.9 L268.4 334.7 L269.9 335.2 L271.0 335.7 L271.6 335.5 L272.4 334.8 L272.2 334.0 L273.2 333.7 L274.5 332.9 L274.4 332.4 L273.3 331.8 L272.0 331.2 L269.8 330.6 L267.8 330.3 L265.3 330.2 L263.3 330.0 L260.9 329.5 L260.0 329.1 L259.9 328.5 L260.0 328.0 L260.7 327.2 L261.8 327.0 L263.2 326.9 L264.6 327.0 L265.6 327.3 L266.5 327.2 L265.6 326.6 L266.8 326.1 L268.1 325.6 L269.3 325.1 L270.4 324.8 L272.0 324.2 L273.3 323.8 L274.0 323.0 L274.7 322.2 L275.0 321.5 L274.2 320.8 L274.0 320.2 M265.8 328.7 L267.5 328.7 L268.5 328.1 L268.3 327.4 L267.0 327.2 L265.5 327.6 L264.7 328.2 L265.8 328.7 M258.5 340.3 L261.0 340.2 L262.7 339.9 L264.3 339.7" fill="none" stroke="#404040" stroke-width="0.3" stroke-opacity="0.45"/><g clip-path="url(#c221)"><g filter="url(#f22)"><g transform="translate(221.50 310.40)"><rect x="-2" y="-12" width="83" height="30" fill="#7a7a7a"/><ellipse cx="17.4" cy="5.4" rx="2.0" ry="1.4" fill="#a2a2a2"/><ellipse cx="39.9" cy="2.3" rx="1.5" ry="1.1" fill="#a7a7a7"/><ellipse cx="32.6" cy="8.2" rx="2.2" ry="1.7" fill="#a8a8a8"/><ellipse cx="13.1" cy="3.6" rx="1.7" ry="1.3" fill="#a2a2a2"/><ellipse cx="50.2" cy="-2.5" rx="1.9" ry="1.0" fill="#a2a2a2"/><ellipse cx="36.1" cy="9.3" rx="1.6" ry="1.2" fill="#626262"/><ellipse cx="46.9" cy="-0.8" rx="1.3" ry="0.7" fill="#5f5f5f"/><ellipse cx="19.4" cy="5.1" rx="1.9" ry="1.4" fill="#5e5e5e"/><ellipse cx="9.9" cy="2.0" rx="2.1" ry="1.7" fill="#616161"/><ellipse cx="65.9" cy="1.4" rx="2.1" ry="1.2" fill="#5e5e5e"/><ellipse cx="10.0" cy="1.0" rx="4.0" ry="2.0" fill="#bfbfbf"/><ellipse cx="33.0" cy="5.0" rx="7.0" ry="3.5" fill="#1a1a1a" transform="rotate(30 33.0 5.0)"/><ellipse cx="48.0" cy="3.5" rx="6.0" ry="4.5" fill="#d9d9d9"/><ellipse cx="10.0" cy="1.0" rx="6.0" ry="2.0" fill="#adadad"/><ellipse cx="60.0" cy="2.0" rx="6.0" ry="3.0" fill="#a3a3a3"/><ellipse cx="20.0" cy="-1.0" rx="6.0" ry="2.0" fill="#999999"/></g></g></g><path d="M230.7 315.1 L231.9 314.6 L233.5 314.5 L235.9 315.1 L238.2 315.5 L241.7 315.9 L243.7 316.6 L244.8 317.4 L246.2 317.3 L246.9 316.5 L248.6 316.0 L250.7 316.5 L252.2 317.2 L255.9 318.2 L258.4 319.3 L259.6 320.3 L261.0 320.8 L263.1 321.0 L265.7 321.2 L267.8 322.0 M272.9 321.1 L269.6 320.7 L267.1 320.6 L264.9 320.5 L263.2 320.0 L260.7 319.7 L259.4 319.1 L258.5 318.3 L258.1 317.7 L257.3 317.2 L258.8 316.9 L259.6 317.3 L262.1 317.3 L264.1 317.4 L266.5 317.8 L268.4 317.6 L269.9 318.1 L271.0 318.6 L271.6 318.4 L272.4 317.7 L272.2 316.9 L273.2 316.6 L274.5 315.8 L274.4 315.3 L273.3 314.7 L272.0 314.1 L269.8 313.5 L267.8 313.2 L265.3 313.1 L263.3 312.9 L260.9 312.4 L260.0 312.0 L259.9 311.4 L260.0 310.9 L260.7 310.1 L261.8 309.9 L263.2 309.8 L264.6 309.9 L265.6 310.2 L266.5 310.1 L265.6 309.5 L266.8 309.0 L268.1 308.5 L269.3 308.0 L270.4 307.7 L272.0 307.1 L273.3 306.7 L274.0 305.9 L274.7 305.1 L275.0 304.4 L274.2 303.7 L274.0 303.1 M265.8 311.6 L267.5 311.6 L268.5 311.0 L268.3 310.3 L267.0 310.1 L265.5 310.5 L264.7 311.1 L265.8 311.6 M258.5 323.2 L261.0 323.1 L262.7 322.8 L264.3 322.6" fill="none" stroke="#404040" stroke-width="0.3" stroke-opacity="0.45"/><g clip-path="url(#c220)"><g filter="url(#f22)"><g transform="translate(221.50 293.30)"><rect x="-2" y="-12" width="83" height="30" fill="#7a7a7a"/><ellipse cx="32.3" cy="6.6" rx="2.4" ry="1.8" fill="#9d9d9d"/><ellipse cx="35.1" cy="5.1" rx="1.8" ry="1.2" fill="#bebebe"/><ellipse cx="22.4" cy="2.9" rx="2.4" ry="1.7" fill="#a0a0a0"/><ellipse cx="27.1" cy="-0.1" rx="1.9" ry="1.1" fill="#9b9b9b"/><ellipse cx="58.5" cy="-1.9" rx="1.6" ry="0.9" fill="#a0a0a0"/><ellipse cx="10.7" cy="2.0" rx="1.5" ry="0.8" fill="#646464"/><ellipse cx="41.2" cy="11.4" rx="1.9" ry="1.5" fill="#636363"/><ellipse cx="35.6" cy="7.8" rx="2.1" ry="1.2" fill="#636363"/><ellipse cx="21.3" cy="1.0" rx="1.7" ry="0.9" fill="#636363"/><ellipse cx="50.0" cy="-0.8" rx="1.2" ry="0.8" fill="#5c5c5c"/><ellipse cx="10.0" cy="1.0" rx="4.0" ry="2.0" fill="#bfbfbf"/><ellipse cx="18.0" cy="-1.0" rx="6.0" ry="2.0" fill="#999999"/><ellipse cx="31.0" cy="4.5" rx="8.0" ry="2.5" fill="#1f1f1f" transform="rotate(20 31.0 4.5)"/><ellipse cx="34.5" cy="5.5" rx="3.0" ry="1.5" fill="#0f0f0f"/><ellipse cx="46.0" cy="4.5" rx="7.0" ry="5.0" fill="#e0e0e0"/><ellipse cx="46.0" cy="-2.0" rx="9.0" ry="1.8" fill="#d9d9d9" transform="rotate(-10 46.0 -2.0)"/><ellipse cx="50.0" cy="5.0" rx="3.0" ry="2.5" fill="#f0f0f0"/><ellipse cx="59.0" cy="0.5" rx="7.0" ry="3.0" fill="#b8b8b8"/><ellipse cx="62.0" cy="4.0" rx="6.0" ry="2.0" fill="#9e9e9e"/><ellipse cx="44.0" cy="-7.0" rx="5.0" ry="1.5" fill="#4c4c4c"/><ellipse cx="40.0" cy="13.0" rx="6.0" ry="2.0" fill="#8f8f8f"/></g></g></g><path d="M230.7 298.0 L231.9 297.5 L233.5 297.4 L235.9 298.0 L238.2 298.4 L241.7 298.8 L243.7 299.5 L244.8 300.3 L246.2 300.2 L246.9 299.4 L248.6 298.9 L250.7 299.4 L252.2 300.1 L255.9 301.1 L258.4 302.2 L259.6 303.2 L261.0 303.7 L263.1 303.9 L265.7 304.1 L267.8 304.9 M272.9 304.0 L269.6 303.6 L267.1 303.5 L264.9 303.4 L263.2 302.9 L260.7 302.6 L259.4 302.0 L258.5 301.2 L258.1 300.6 L257.3 300.1 L258.8 299.8 L259.6 300.2 L262.1 300.2 L264.1 300.3 L266.5 300.7 L268.4 300.5 L269.9 301.0 L271.0 301.5 L271.6 301.3 L272.4 300.6 L272.2 299.8 L273.2 299.5 L274.5 298.7 L274.4 298.2 L273.3 297.6 L272.0 297.0 L269.8 296.4 L267.8 296.1 L265.3 296.0 L263.3 295.8 L260.9 295.3 L260.0 294.9 L259.9 294.3 L260.0 293.8 L260.7 293.0 L261.8 292.8 L263.2 292.7 L264.6 292.8 L265.6 293.1 L266.5 293.0 L265.6 292.4 L266.8 291.9 L268.1 291.4 L269.3 290.9 L270.4 290.6 L272.0 290.0 L273.3 289.6 L274.0 288.8 L274.7 288.0 L275.0 287.3 L274.2 286.6 L274.0 286.0 M265.8 294.5 L267.5 294.5 L268.5 293.9 L268.3 293.2 L267.0 293.0 L265.5 293.4 L264.7 294.0 L265.8 294.5 M258.5 306.1 L261.0 306.0 L262.7 305.7 L264.3 305.5" fill="none" stroke="#404040" stroke-width="0.3" stroke-opacity="0.45"/><rect x="221.70" y="381.50" width="78.90" height="3.8" fill="url(#gjet)"/><line x1="323.30" y1="293.30" x2="323.30" y2="361.70" stroke="#c4c4c4" stroke-width="0.5"/><line x1="402.90" y1="298.60" x2="402.90" y2="367.00" stroke="#c4c4c4" stroke-width="0.5"/><g clip-path="url(#c234)"><g filter="url(#f23)"><g transform="translate(323.50 361.70)"><rect x="-2" y="-12" width="83" height="30" fill="#7a7a7a"/><ellipse cx="59.3" cy="-1.0" rx="2.5" ry="1.7" fill="#a7a7a7"/><ellipse cx="36.7" cy="-3.5" rx="1.2" ry="0.9" fill="#b7b7b7"/><ellipse cx="35.9" cy="5.9" rx="1.5" ry="0.8" fill="#b6b6b6"/><ellipse cx="17.2" cy="6.6" rx="2.0" ry="1.3" fill="#cdcdcd"/><ellipse cx="33.6" cy="-2.9" rx="2.0" ry="1.4" fill="#b8b8b8"/><ellipse cx="35.0" cy="1.4" rx="1.8" ry="1.2" fill="#a7a7a7"/><ellipse cx="18.0" cy="6.8" rx="1.9" ry="1.1" fill="#9b9b9b"/><ellipse cx="21.7" cy="7.6" rx="1.4" ry="1.1" fill="#a2a2a2"/><ellipse cx="63.8" cy="7.2" rx="1.3" ry="0.7" fill="#9e9e9e"/><ellipse cx="45.2" cy="-3.2" rx="1.4" ry="1.1" fill="#a8a8a8"/><ellipse cx="15.8" cy="5.1" rx="2.3" ry="1.5" fill="#9e9e9e"/><ellipse cx="51.8" cy="0.8" rx="1.8" ry="1.3" fill="#c4c4c4"/><ellipse cx="48.7" cy="-1.8" rx="1.8" ry="1.0" fill="#9c9c9c"/><ellipse cx="49.5" cy="7.3" rx="2.1" ry="1.5" fill="#a6a6a6"/><ellipse cx="37.9" cy="7.0" rx="1.4" ry="1.1" fill="#646464"/><ellipse cx="20.2" cy="0.4" rx="2.2" ry="1.6" fill="#646464"/><ellipse cx="26.1" cy="-2.0" rx="1.3" ry="0.7" fill="#606060"/><ellipse cx="18.8" cy="6.7" rx="2.5" ry="1.8" fill="#5d5d5d"/><ellipse cx="42.9" cy="10.3" rx="1.6" ry="0.8" fill="#5c5c5c"/><ellipse cx="28.6" cy="-0.2" rx="2.2" ry="1.7" fill="#606060"/><ellipse cx="23.0" cy="0.5" rx="4.0" ry="2.0" fill="#cccccc"/><ellipse cx="71.0" cy="5.5" rx="7.0" ry="2.5" fill="#a8a8a8"/><ellipse cx="44.0" cy="5.0" rx="9.0" ry="3.0" fill="#404040"/><ellipse cx="20.0" cy="5.0" rx="6.0" ry="1.5" fill="#b8b8b8"/><ellipse cx="58.0" cy="9.0" rx="5.0" ry="2.0" fill="#a8a8a8"/></g></g></g><path d="M332.7 366.3 L333.9 365.8 L335.5 365.7 L338.0 366.4 L340.3 366.8 L343.8 367.2 L345.8 367.8 L346.8 368.6 L348.2 368.5 L349.0 367.7 L350.7 367.2 L352.8 367.7 L354.3 368.4 L357.9 369.3 L360.4 370.4 L361.6 371.4 L362.9 371.9 L365.0 372.1 L367.6 372.2 L369.7 373.0 M374.7 372.1 L371.5 371.8 L369.0 371.7 L366.8 371.6 L365.2 371.1 L362.7 370.8 L361.4 370.3 L360.5 369.5 L360.1 368.9 L359.4 368.4 L360.9 368.1 L361.7 368.5 L364.1 368.5 L366.1 368.6 L368.4 368.9 L370.3 368.7 L371.9 369.1 L372.9 369.7 L373.5 369.5 L374.3 368.8 L374.2 368.0 L375.1 367.7 L376.5 367.0 L376.4 366.4 L375.4 365.9 L374.1 365.3 L371.9 364.7 L370.0 364.5 L367.5 364.4 L365.6 364.2 L363.1 363.8 L362.3 363.4 L362.3 362.8 L362.4 362.3 L363.2 361.6 L364.2 361.3 L365.6 361.3 L367.0 361.4 L368.1 361.7 L368.9 361.5 L368.0 361.0 L369.4 360.6 L370.7 360.1 L371.9 359.6 L373.0 359.4 L374.7 358.8 L376.1 358.3 L376.8 357.6 L377.6 356.9 L378.0 356.3 L377.3 355.6 L377.2 355.1 M368.1 363.0 L369.8 362.9 L370.9 362.4 L370.7 361.7 L369.5 361.6 L367.9 361.9 L367.1 362.5 L368.1 363.0 M360.5 374.2 L362.9 374.1 L364.6 373.8 L366.2 373.7" fill="none" stroke="#404040" stroke-width="0.3" stroke-opacity="0.45"/><g clip-path="url(#c233)"><g filter="url(#f23)"><g transform="translate(323.50 344.60)"><rect x="-2" y="-12" width="83" height="30" fill="#7a7a7a"/><ellipse cx="31.4" cy="4.7" rx="2.1" ry="1.5" fill="#9d9d9d"/><ellipse cx="15.8" cy="2.8" rx="1.9" ry="1.5" fill="#bababa"/><ellipse cx="66.2" cy="2.9" rx="2.2" ry="1.3" fill="#9b9b9b"/><ellipse cx="57.3" cy="6.7" rx="2.4" ry="1.5" fill="#cdcdcd"/><ellipse cx="20.0" cy="7.9" rx="1.3" ry="0.9" fill="#a0a0a0"/><ellipse cx="55.0" cy="-0.1" rx="2.2" ry="1.2" fill="#d9d9d9"/><ellipse cx="24.1" cy="9.9" rx="2.5" ry="1.9" fill="#9e9e9e"/><ellipse cx="24.6" cy="2.4" rx="2.0" ry="1.0" fill="#a4a4a4"/><ellipse cx="20.5" cy="2.9" rx="1.6" ry="1.3" fill="#c6c6c6"/><ellipse cx="27.4" cy="-0.5" rx="1.5" ry="1.0" fill="#a4a4a4"/><ellipse cx="56.5" cy="-2.5" rx="1.7" ry="0.9" fill="#9e9e9e"/><ellipse cx="40.1" cy="10.5" rx="2.3" ry="1.6" fill="#a5a5a5"/><ellipse cx="40.0" cy="3.9" rx="2.4" ry="1.3" fill="#9d9d9d"/><ellipse cx="32.4" cy="10.3" rx="2.0" ry="1.4" fill="#a5a5a5"/><ellipse cx="61.0" cy="0.4" rx="1.2" ry="0.7" fill="#5f5f5f"/><ellipse cx="53.2" cy="9.1" rx="1.3" ry="0.7" fill="#636363"/><ellipse cx="42.7" cy="7.2" rx="1.4" ry="1.1" fill="#666666"/><ellipse cx="16.5" cy="4.9" rx="1.9" ry="1.1" fill="#606060"/><ellipse cx="46.3" cy="-1.1" rx="2.3" ry="1.3" fill="#5f5f5f"/><ellipse cx="62.9" cy="3.2" rx="2.4" ry="1.2" fill="#5e5e5e"/><ellipse cx="23.0" cy="0.5" rx="4.0" ry="2.0" fill="#cccccc"/><ellipse cx="71.0" cy="5.5" rx="7.0" ry="2.5" fill="#a8a8a8"/><ellipse cx="42.0" cy="5.5" rx="7.0" ry="2.5" fill="#404040"/><ellipse cx="20.0" cy="-0.5" rx="3.0" ry="1.0" fill="#cccccc"/><ellipse cx="30.0" cy="9.0" rx="5.0" ry="2.0" fill="#a8a8a8"/></g></g></g><path d="M332.7 349.2 L333.9 348.7 L335.5 348.6 L338.0 349.3 L340.3 349.7 L343.8 350.1 L345.8 350.7 L346.8 351.5 L348.2 351.4 L349.0 350.6 L350.7 350.1 L352.8 350.6 L354.3 351.3 L357.9 352.2 L360.4 353.3 L361.6 354.3 L362.9 354.8 L365.0 355.0 L367.6 355.1 L369.7 355.9 M374.7 355.0 L371.5 354.7 L369.0 354.6 L366.8 354.5 L365.2 354.0 L362.7 353.7 L361.4 353.2 L360.5 352.4 L360.1 351.8 L359.4 351.3 L360.9 351.0 L361.7 351.4 L364.1 351.4 L366.1 351.5 L368.4 351.8 L370.3 351.6 L371.9 352.0 L372.9 352.6 L373.5 352.4 L374.3 351.7 L374.2 350.9 L375.1 350.6 L376.5 349.9 L376.4 349.3 L375.4 348.8 L374.1 348.2 L371.9 347.6 L370.0 347.4 L367.5 347.3 L365.6 347.1 L363.1 346.7 L362.3 346.3 L362.3 345.7 L362.4 345.2 L363.2 344.5 L364.2 344.2 L365.6 344.2 L367.0 344.3 L368.1 344.6 L368.9 344.4 L368.0 343.9 L369.4 343.5 L370.7 343.0 L371.9 342.5 L373.0 342.3 L374.7 341.7 L376.1 341.2 L376.8 340.5 L377.6 339.8 L378.0 339.2 L377.3 338.5 L377.2 338.0 M368.1 345.9 L369.8 345.8 L370.9 345.3 L370.7 344.6 L369.5 344.5 L367.9 344.8 L367.1 345.4 L368.1 345.9 M360.5 357.1 L362.9 357.0 L364.6 356.7 L366.2 356.6" fill="none" stroke="#404040" stroke-width="0.3" stroke-opacity="0.45"/><g clip-path="url(#c232)"><g filter="url(#f23)"><g transform="translate(323.50 327.50)"><rect x="-2" y="-12" width="83" height="30" fill="#7a7a7a"/><ellipse cx="48.4" cy="5.3" rx="1.2" ry="1.0" fill="#b5b5b5"/><ellipse cx="50.2" cy="1.6" rx="1.4" ry="1.0" fill="#999999"/><ellipse cx="55.9" cy="2.9" rx="2.2" ry="1.1" fill="#c1c1c1"/><ellipse cx="26.9" cy="8.0" rx="2.2" ry="1.2" fill="#9d9d9d"/><ellipse cx="28.8" cy="7.2" rx="2.2" ry="1.4" fill="#9c9c9c"/><ellipse cx="31.4" cy="7.9" rx="1.4" ry="0.8" fill="#9b9b9b"/><ellipse cx="28.1" cy="4.7" rx="2.3" ry="1.4" fill="#a2a2a2"/><ellipse cx="35.8" cy="-4.2" rx="2.4" ry="1.4" fill="#9a9a9a"/><ellipse cx="22.7" cy="6.5" rx="1.5" ry="1.0" fill="#c5c5c5"/><ellipse cx="52.7" cy="4.6" rx="2.1" ry="1.2" fill="#a1a1a1"/><ellipse cx="16.3" cy="1.7" rx="1.5" ry="1.2" fill="#a6a6a6"/><ellipse cx="37.3" cy="8.0" rx="1.8" ry="1.0" fill="#a3a3a3"/><ellipse cx="11.9" cy="4.1" rx="1.3" ry="0.9" fill="#bbbbbb"/><ellipse cx="53.9" cy="7.1" rx="1.4" ry="1.0" fill="#c4c4c4"/><ellipse cx="39.0" cy="5.6" rx="1.4" ry="0.8" fill="#5d5d5d"/><ellipse cx="44.5" cy="-0.3" rx="2.3" ry="1.2" fill="#616161"/><ellipse cx="38.8" cy="10.3" rx="2.4" ry="1.4" fill="#606060"/><ellipse cx="67.0" cy="6.0" rx="2.4" ry="1.4" fill="#5f5f5f"/><ellipse cx="51.5" cy="5.9" rx="1.5" ry="0.8" fill="#636363"/><ellipse cx="22.7" cy="7.2" rx="2.3" ry="1.6" fill="#636363"/><ellipse cx="23.0" cy="0.5" rx="4.0" ry="2.0" fill="#cccccc"/><ellipse cx="71.0" cy="5.5" rx="7.0" ry="2.5" fill="#a8a8a8"/><ellipse cx="41.0" cy="4.5" rx="8.0" ry="2.5" fill="#454545"/><ellipse cx="20.0" cy="6.0" rx="6.0" ry="1.5" fill="#b2b2b2"/><ellipse cx="55.0" cy="8.0" rx="5.0" ry="2.0" fill="#a8a8a8"/></g></g></g><path d="M332.7 332.1 L333.9 331.6 L335.5 331.5 L338.0 332.2 L340.3 332.6 L343.8 333.0 L345.8 333.6 L346.8 334.4 L348.2 334.3 L349.0 333.5 L350.7 333.0 L352.8 333.5 L354.3 334.2 L357.9 335.1 L360.4 336.2 L361.6 337.2 L362.9 337.7 L365.0 337.9 L367.6 338.0 L369.7 338.8 M374.7 337.9 L371.5 337.6 L369.0 337.5 L366.8 337.4 L365.2 336.9 L362.7 336.6 L361.4 336.1 L360.5 335.3 L360.1 334.7 L359.4 334.2 L360.9 333.9 L361.7 334.3 L364.1 334.3 L366.1 334.4 L368.4 334.7 L370.3 334.5 L371.9 334.9 L372.9 335.5 L373.5 335.3 L374.3 334.6 L374.2 333.8 L375.1 333.5 L376.5 332.8 L376.4 332.2 L375.4 331.7 L374.1 331.1 L371.9 330.5 L370.0 330.3 L367.5 330.2 L365.6 330.0 L363.1 329.6 L362.3 329.2 L362.3 328.6 L362.4 328.1 L363.2 327.4 L364.2 327.1 L365.6 327.1 L367.0 327.2 L368.1 327.5 L368.9 327.3 L368.0 326.8 L369.4 326.4 L370.7 325.9 L371.9 325.4 L373.0 325.2 L374.7 324.6 L376.1 324.1 L376.8 323.4 L377.6 322.7 L378.0 322.1 L377.3 321.4 L377.2 320.9 M368.1 328.8 L369.8 328.7 L370.9 328.2 L370.7 327.5 L369.5 327.4 L367.9 327.7 L367.1 328.3 L368.1 328.8 M360.5 340.0 L362.9 339.9 L364.6 339.6 L366.2 339.5" fill="none" stroke="#404040" stroke-width="0.3" stroke-opacity="0.45"/><g clip-path="url(#c231)"><g filter="url(#f23)"><g transform="translate(323.50 310.40)"><rect x="-2" y="-12" width="83" height="30" fill="#7a7a7a"/><ellipse cx="27.8" cy="0.9" rx="1.9" ry="1.1" fill="#9f9f9f"/><ellipse cx="20.8" cy="1.0" rx="2.4" ry="1.7" fill="#c2c2c2"/><ellipse cx="34.0" cy="-1.9" rx="1.5" ry="0.9" fill="#b6b6b6"/><ellipse cx="42.1" cy="9.6" rx="2.4" ry="1.9" fill="#a6a6a6"/><ellipse cx="42.1" cy="3.9" rx="1.4" ry="0.8" fill="#a6a6a6"/><ellipse cx="32.7" cy="10.8" rx="1.7" ry="1.4" fill="#a6a6a6"/><ellipse cx="17.8" cy="-0.1" rx="2.2" ry="1.6" fill="#b6b6b6"/><ellipse cx="32.2" cy="9.1" rx="2.3" ry="1.6" fill="#c2c2c2"/><ellipse cx="34.0" cy="5.8" rx="2.5" ry="1.5" fill="#9b9b9b"/><ellipse cx="18.1" cy="6.8" rx="2.0" ry="1.1" fill="#9f9f9f"/><ellipse cx="42.9" cy="8.0" rx="1.2" ry="0.9" fill="#9e9e9e"/><ellipse cx="20.0" cy="5.0" rx="1.5" ry="1.1" fill="#9b9b9b"/><ellipse cx="48.1" cy="5.7" rx="2.2" ry="1.2" fill="#d4d4d4"/><ellipse cx="24.3" cy="0.4" rx="2.4" ry="1.9" fill="#a7a7a7"/><ellipse cx="48.2" cy="-5.9" rx="1.6" ry="1.3" fill="#5d5d5d"/><ellipse cx="59.2" cy="3.5" rx="2.5" ry="1.5" fill="#636363"/><ellipse cx="61.8" cy="4.1" rx="1.2" ry="0.8" fill="#666666"/><ellipse cx="34.8" cy="11.6" rx="1.6" ry="1.0" fill="#5f5f5f"/><ellipse cx="23.9" cy="-0.0" rx="1.3" ry="0.8" fill="#5c5c5c"/><ellipse cx="46.1" cy="5.1" rx="1.4" ry="0.9" fill="#636363"/><ellipse cx="23.0" cy="0.5" rx="4.0" ry="2.0" fill="#cccccc"/><ellipse cx="71.0" cy="5.5" rx="7.0" ry="2.5" fill="#a8a8a8"/><ellipse cx="43.0" cy="5.5" rx="10.0" ry="4.5" fill="#383838"/><ellipse cx="44.0" cy="5.0" rx="4.0" ry="2.0" fill="#1f1f1f"/><ellipse cx="24.0" cy="1.0" rx="3.0" ry="1.5" fill="#cccccc"/><ellipse cx="30.0" cy="8.0" rx="4.0" ry="1.5" fill="#a6a6a6"/></g></g></g><path d="M332.7 315.0 L333.9 314.5 L335.5 314.4 L338.0 315.1 L340.3 315.5 L343.8 315.9 L345.8 316.5 L346.8 317.3 L348.2 317.2 L349.0 316.4 L350.7 315.9 L352.8 316.4 L354.3 317.1 L357.9 318.0 L360.4 319.1 L361.6 320.1 L362.9 320.6 L365.0 320.8 L367.6 320.9 L369.7 321.7 M374.7 320.8 L371.5 320.5 L369.0 320.4 L366.8 320.3 L365.2 319.8 L362.7 319.5 L361.4 319.0 L360.5 318.2 L360.1 317.6 L359.4 317.1 L360.9 316.8 L361.7 317.2 L364.1 317.2 L366.1 317.3 L368.4 317.6 L370.3 317.4 L371.9 317.8 L372.9 318.4 L373.5 318.2 L374.3 317.5 L374.2 316.7 L375.1 316.4 L376.5 315.7 L376.4 315.1 L375.4 314.6 L374.1 314.0 L371.9 313.4 L370.0 313.2 L367.5 313.1 L365.6 312.9 L363.1 312.5 L362.3 312.1 L362.3 311.5 L362.4 311.0 L363.2 310.3 L364.2 310.0 L365.6 310.0 L367.0 310.1 L368.1 310.4 L368.9 310.2 L368.0 309.7 L369.4 309.3 L370.7 308.8 L371.9 308.3 L373.0 308.1 L374.7 307.5 L376.1 307.0 L376.8 306.3 L377.6 305.6 L378.0 305.0 L377.3 304.3 L377.2 303.8 M368.1 311.7 L369.8 311.6 L370.9 311.1 L370.7 310.4 L369.5 310.3 L367.9 310.6 L367.1 311.2 L368.1 311.7 M360.5 322.9 L362.9 322.8 L364.6 322.5 L366.2 322.4" fill="none" stroke="#404040" stroke-width="0.3" stroke-opacity="0.45"/><g clip-path="url(#c230)"><g filter="url(#f23)"><g transform="translate(323.50 293.30)"><rect x="-2" y="-12" width="83" height="30" fill="#7a7a7a"/><ellipse cx="53.5" cy="8.5" rx="2.1" ry="1.4" fill="#9b9b9b"/><ellipse cx="37.0" cy="4.1" rx="1.6" ry="1.1" fill="#9e9e9e"/><ellipse cx="28.8" cy="1.0" rx="1.9" ry="1.4" fill="#c1c1c1"/><ellipse cx="50.5" cy="4.2" rx="2.2" ry="1.4" fill="#9f9f9f"/><ellipse cx="57.7" cy="0.3" rx="1.8" ry="1.3" fill="#d7d7d7"/><ellipse cx="23.7" cy="4.6" rx="2.4" ry="1.8" fill="#a2a2a2"/><ellipse cx="61.3" cy="0.5" rx="1.9" ry="1.4" fill="#bbbbbb"/><ellipse cx="62.1" cy="6.4" rx="1.8" ry="1.4" fill="#9b9b9b"/><ellipse cx="36.3" cy="-4.0" rx="1.7" ry="1.2" fill="#9b9b9b"/><ellipse cx="43.9" cy="4.3" rx="1.5" ry="1.2" fill="#c4c4c4"/><ellipse cx="59.8" cy="-0.1" rx="2.3" ry="1.6" fill="#9d9d9d"/><ellipse cx="19.5" cy="0.6" rx="1.6" ry="0.9" fill="#9f9f9f"/><ellipse cx="55.8" cy="-0.5" rx="1.7" ry="1.1" fill="#9f9f9f"/><ellipse cx="13.1" cy="4.3" rx="1.5" ry="0.8" fill="#9b9b9b"/><ellipse cx="50.7" cy="0.4" rx="1.2" ry="0.7" fill="#626262"/><ellipse cx="46.2" cy="-1.8" rx="2.3" ry="1.5" fill="#5e5e5e"/><ellipse cx="48.6" cy="6.7" rx="1.5" ry="0.8" fill="#616161"/><ellipse cx="46.7" cy="-5.1" rx="1.4" ry="1.0" fill="#606060"/><ellipse cx="32.1" cy="9.7" rx="2.6" ry="1.7" fill="#666666"/><ellipse cx="72.3" cy="5.5" rx="2.0" ry="1.3" fill="#5e5e5e"/><ellipse cx="23.0" cy="0.5" rx="4.0" ry="2.0" fill="#cccccc"/><ellipse cx="71.0" cy="5.5" rx="7.0" ry="2.5" fill="#a8a8a8"/><ellipse cx="46.0" cy="-5.5" rx="10.0" ry="2.5" fill="#e6e6e6" transform="rotate(-10 46.0 -5.5)"/><ellipse cx="43.0" cy="4.5" rx="12.0" ry="6.0" fill="#333333"/><ellipse cx="46.0" cy="6.0" rx="5.0" ry="3.5" fill="#0f0f0f"/><ellipse cx="11.0" cy="0.5" rx="3.0" ry="1.2" fill="#333333"/><ellipse cx="29.5" cy="5.8" rx="5.0" ry="2.0" fill="#a8a8a8"/><ellipse cx="48.0" cy="12.0" rx="5.0" ry="1.5" fill="#cccccc"/><ellipse cx="21.0" cy="2.0" rx="2.0" ry="1.0" fill="#9e9e9e"/></g></g></g><path d="M332.7 297.9 L333.9 297.4 L335.5 297.3 L338.0 298.0 L340.3 298.4 L343.8 298.8 L345.8 299.4 L346.8 300.2 L348.2 300.1 L349.0 299.3 L350.7 298.8 L352.8 299.3 L354.3 300.0 L357.9 300.9 L360.4 302.0 L361.6 303.0 L362.9 303.5 L365.0 303.7 L367.6 303.8 L369.7 304.6 M374.7 303.7 L371.5 303.4 L369.0 303.3 L366.8 303.2 L365.2 302.7 L362.7 302.4 L361.4 301.9 L360.5 301.1 L360.1 300.5 L359.4 300.0 L360.9 299.7 L361.7 300.1 L364.1 300.1 L366.1 300.2 L368.4 300.5 L370.3 300.3 L371.9 300.7 L372.9 301.3 L373.5 301.1 L374.3 300.4 L374.2 299.6 L375.1 299.3 L376.5 298.6 L376.4 298.0 L375.4 297.5 L374.1 296.9 L371.9 296.3 L370.0 296.1 L367.5 296.0 L365.6 295.8 L363.1 295.4 L362.3 295.0 L362.3 294.4 L362.4 293.9 L363.2 293.2 L364.2 292.9 L365.6 292.9 L367.0 293.0 L368.1 293.3 L368.9 293.1 L368.0 292.6 L369.4 292.2 L370.7 291.7 L371.9 291.2 L373.0 291.0 L374.7 290.4 L376.1 289.9 L376.8 289.2 L377.6 288.5 L378.0 287.9 L377.3 287.2 L377.2 286.7 M368.1 294.6 L369.8 294.5 L370.9 294.0 L370.7 293.3 L369.5 293.2 L367.9 293.5 L367.1 294.1 L368.1 294.6 M360.5 305.8 L362.9 305.7 L364.6 305.4 L366.2 305.3" fill="none" stroke="#404040" stroke-width="0.3" stroke-opacity="0.45"/><rect x="324.10" y="381.50" width="78.80" height="3.8" fill="url(#gjet)"/><line x1="17.10" y1="428.65" x2="17.10" y2="497.05" stroke="#c4c4c4" stroke-width="0.5"/><line x1="96.20" y1="434.75" x2="96.20" y2="503.15" stroke="#c4c4c4" stroke-width="0.5"/><g clip-path="url(#c304)"><g filter="url(#f30)"><g transform="translate(17.30 497.05)"><rect x="-2" y="-12" width="83" height="30" fill="#0d0d0d"/><ellipse cx="20.0" cy="5.0" rx="3.0" ry="2.0" fill="#1c1c1c"/><ellipse cx="16.0" cy="-1.5" rx="11.0" ry="2.0" fill="#3d3d3d" transform="rotate(-10 16.0 -1.5)"/><ellipse cx="18.0" cy="-1.5" rx="3.0" ry="1.0" fill="#666666"/><ellipse cx="41.0" cy="3.0" rx="10.0" ry="5.0" fill="#575757"/><ellipse cx="41.0" cy="3.0" rx="4.0" ry="2.2" fill="#858585"/><ellipse cx="41.0" cy="3.0" rx="2.0" ry="1.0" fill="#999999"/></g></g></g><path d="M26.4 501.9 L27.6 501.3 L29.1 501.2 L31.5 501.9 L33.8 502.3 L37.3 502.8 L39.2 503.4 L40.3 504.2 L41.7 504.1 L42.4 503.4 L44.1 502.9 L46.1 503.4 L47.6 504.1 L51.2 505.1 L53.7 506.2 L54.9 507.2 L56.2 507.8 L58.3 508.0 L60.9 508.1 L63.0 509.0 M68.0 508.1 L64.8 507.7 L62.3 507.6 L60.1 507.5 L58.5 507.0 L56.0 506.6 L54.7 506.1 L53.8 505.3 L53.4 504.6 L52.7 504.1 L54.2 503.9 L55.0 504.3 L57.4 504.3 L59.4 504.4 L61.7 504.8 L63.6 504.6 L65.2 505.0 L66.2 505.5 L66.7 505.4 L67.6 504.7 L67.4 503.9 L68.4 503.6 L69.7 502.8 L69.6 502.3 L68.6 501.7 L67.3 501.1 L65.1 500.5 L63.2 500.2 L60.7 500.1 L58.8 499.8 L56.4 499.4 L55.6 499.0 L55.5 498.4 L55.6 497.9 L56.3 497.1 L57.4 496.9 L58.8 496.8 L60.2 497.0 L61.2 497.3 L62.0 497.1 L61.1 496.6 L62.4 496.1 L63.8 495.6 L64.9 495.1 L66.0 494.9 L67.7 494.3 L69.0 493.8 L69.7 493.1 L70.4 492.4 L70.8 491.7 L70.0 491.0 L69.9 490.5 M61.3 498.6 L62.9 498.6 L64.0 498.0 L63.8 497.3 L62.6 497.2 L61.0 497.5 L60.2 498.1 L61.3 498.6 M53.8 510.1 L56.2 510.0 L57.9 509.7 L59.5 509.6" fill="none" stroke="#c8287a" stroke-width="0.4" stroke-opacity="0.5" stroke-dasharray="0.8 0.4"/><g clip-path="url(#c303)"><g filter="url(#f30)"><g transform="translate(17.30 479.95)"><rect x="-2" y="-12" width="83" height="30" fill="#0d0d0d"/><ellipse cx="20.0" cy="5.0" rx="3.0" ry="2.0" fill="#1c1c1c"/><ellipse cx="16.0" cy="-2.0" rx="11.0" ry="2.0" fill="#3d3d3d" transform="rotate(-10 16.0 -2.0)"/><ellipse cx="18.0" cy="-2.0" rx="3.0" ry="1.0" fill="#666666"/><ellipse cx="39.0" cy="1.5" rx="9.0" ry="5.0" fill="#4c4c4c"/><ellipse cx="39.0" cy="1.5" rx="4.0" ry="2.5" fill="#737373"/></g></g></g><path d="M26.4 484.8 L27.6 484.2 L29.1 484.1 L31.5 484.8 L33.8 485.2 L37.3 485.7 L39.2 486.3 L40.3 487.1 L41.7 487.0 L42.4 486.3 L44.1 485.8 L46.1 486.3 L47.6 487.0 L51.2 488.0 L53.7 489.1 L54.9 490.1 L56.2 490.7 L58.3 490.9 L60.9 491.0 L63.0 491.9 M68.0 491.0 L64.8 490.6 L62.3 490.5 L60.1 490.4 L58.5 489.9 L56.0 489.5 L54.7 489.0 L53.8 488.2 L53.4 487.5 L52.7 487.0 L54.2 486.8 L55.0 487.2 L57.4 487.2 L59.4 487.3 L61.7 487.7 L63.6 487.5 L65.2 487.9 L66.2 488.4 L66.7 488.3 L67.6 487.6 L67.4 486.8 L68.4 486.5 L69.7 485.7 L69.6 485.2 L68.6 484.6 L67.3 484.0 L65.1 483.4 L63.2 483.1 L60.7 483.0 L58.8 482.7 L56.4 482.3 L55.6 481.9 L55.5 481.3 L55.6 480.8 L56.3 480.0 L57.4 479.8 L58.8 479.7 L60.2 479.9 L61.2 480.2 L62.0 480.0 L61.1 479.5 L62.4 479.0 L63.8 478.5 L64.9 478.0 L66.0 477.8 L67.7 477.2 L69.0 476.7 L69.7 476.0 L70.4 475.3 L70.8 474.6 L70.0 473.9 L69.9 473.4 M61.3 481.5 L62.9 481.5 L64.0 480.9 L63.8 480.2 L62.6 480.1 L61.0 480.4 L60.2 481.0 L61.3 481.5 M53.8 493.0 L56.2 492.9 L57.9 492.6 L59.5 492.5" fill="none" stroke="#c8287a" stroke-width="0.4" stroke-opacity="0.5" stroke-dasharray="0.8 0.4"/><g clip-path="url(#c302)"><g filter="url(#f30)"><g transform="translate(17.30 462.85)"><rect x="-2" y="-12" width="83" height="30" fill="#0d0d0d"/><ellipse cx="20.0" cy="5.0" rx="3.0" ry="2.0" fill="#1c1c1c"/><ellipse cx="16.0" cy="-2.0" rx="11.0" ry="2.0" fill="#3d3d3d" transform="rotate(-10 16.0 -2.0)"/><ellipse cx="18.0" cy="-2.0" rx="3.0" ry="1.0" fill="#666666"/><ellipse cx="38.0" cy="0.5" rx="8.0" ry="4.0" fill="#424242"/><ellipse cx="38.0" cy="0.5" rx="4.0" ry="2.0" fill="#5c5c5c"/></g></g></g><path d="M26.4 467.6 L27.6 467.1 L29.1 467.0 L31.5 467.7 L33.8 468.1 L37.3 468.6 L39.2 469.2 L40.3 470.0 L41.7 469.9 L42.4 469.2 L44.1 468.7 L46.1 469.2 L47.6 469.9 L51.2 470.9 L53.7 472.0 L54.9 473.0 L56.2 473.6 L58.3 473.8 L60.9 473.9 L63.0 474.8 M68.0 473.9 L64.8 473.5 L62.3 473.4 L60.1 473.3 L58.5 472.8 L56.0 472.4 L54.7 471.9 L53.8 471.1 L53.4 470.4 L52.7 469.9 L54.2 469.7 L55.0 470.1 L57.4 470.1 L59.4 470.2 L61.7 470.6 L63.6 470.4 L65.2 470.8 L66.2 471.3 L66.7 471.2 L67.6 470.5 L67.4 469.7 L68.4 469.4 L69.7 468.6 L69.6 468.1 L68.6 467.5 L67.3 466.9 L65.1 466.3 L63.2 466.0 L60.7 465.9 L58.8 465.6 L56.4 465.2 L55.6 464.8 L55.5 464.2 L55.6 463.7 L56.3 462.9 L57.4 462.7 L58.8 462.6 L60.2 462.8 L61.2 463.1 L62.0 462.9 L61.1 462.4 L62.4 461.9 L63.8 461.4 L64.9 460.9 L66.0 460.7 L67.7 460.1 L69.0 459.6 L69.7 458.9 L70.4 458.2 L70.8 457.5 L70.0 456.8 L69.9 456.3 M61.3 464.4 L62.9 464.4 L64.0 463.8 L63.8 463.1 L62.6 463.0 L61.0 463.3 L60.2 463.9 L61.3 464.4 M53.8 475.9 L56.2 475.8 L57.9 475.5 L59.5 475.4" fill="none" stroke="#c8287a" stroke-width="0.4" stroke-opacity="0.5" stroke-dasharray="0.8 0.4"/><g clip-path="url(#c301)"><g filter="url(#f30)"><g transform="translate(17.30 445.75)"><rect x="-2" y="-12" width="83" height="30" fill="#0d0d0d"/><ellipse cx="20.0" cy="5.0" rx="3.0" ry="2.0" fill="#1c1c1c"/><ellipse cx="14.0" cy="-1.5" rx="10.0" ry="2.0" fill="#383838" transform="rotate(-10 14.0 -1.5)"/><ellipse cx="16.0" cy="-1.5" rx="3.0" ry="1.0" fill="#616161"/><ellipse cx="36.0" cy="1.0" rx="6.0" ry="4.5" fill="#333333"/><ellipse cx="36.0" cy="1.0" rx="3.0" ry="2.0" fill="#1f1f1f"/></g></g></g><path d="M26.4 450.6 L27.6 450.0 L29.1 449.9 L31.5 450.6 L33.8 451.0 L37.3 451.5 L39.2 452.1 L40.3 452.9 L41.7 452.8 L42.4 452.1 L44.1 451.6 L46.1 452.1 L47.6 452.8 L51.2 453.8 L53.7 454.9 L54.9 455.9 L56.2 456.5 L58.3 456.7 L60.9 456.8 L63.0 457.7 M68.0 456.8 L64.8 456.4 L62.3 456.3 L60.1 456.2 L58.5 455.7 L56.0 455.3 L54.7 454.8 L53.8 454.0 L53.4 453.3 L52.7 452.8 L54.2 452.6 L55.0 453.0 L57.4 453.0 L59.4 453.1 L61.7 453.5 L63.6 453.3 L65.2 453.7 L66.2 454.2 L66.7 454.1 L67.6 453.4 L67.4 452.6 L68.4 452.3 L69.7 451.5 L69.6 451.0 L68.6 450.4 L67.3 449.8 L65.1 449.2 L63.2 448.9 L60.7 448.8 L58.8 448.5 L56.4 448.1 L55.6 447.7 L55.5 447.1 L55.6 446.6 L56.3 445.8 L57.4 445.6 L58.8 445.5 L60.2 445.7 L61.2 446.0 L62.0 445.8 L61.1 445.3 L62.4 444.8 L63.8 444.3 L64.9 443.8 L66.0 443.6 L67.7 443.0 L69.0 442.5 L69.7 441.8 L70.4 441.1 L70.8 440.4 L70.0 439.7 L69.9 439.2 M61.3 447.3 L62.9 447.3 L64.0 446.7 L63.8 446.0 L62.6 445.9 L61.0 446.2 L60.2 446.8 L61.3 447.3 M53.8 458.8 L56.2 458.7 L57.9 458.4 L59.5 458.3" fill="none" stroke="#c8287a" stroke-width="0.4" stroke-opacity="0.5" stroke-dasharray="0.8 0.4"/><g clip-path="url(#c300)"><g filter="url(#f30)"><g transform="translate(17.30 428.65)"><rect x="-2" y="-12" width="83" height="30" fill="#0d0d0d"/><ellipse cx="20.0" cy="5.0" rx="3.0" ry="2.0" fill="#1c1c1c"/><ellipse cx="12.0" cy="-1.0" rx="9.0" ry="2.0" fill="#333333" transform="rotate(-10 12.0 -1.0)"/><ellipse cx="14.0" cy="-1.0" rx="3.0" ry="1.0" fill="#595959"/><ellipse cx="36.0" cy="1.5" rx="6.0" ry="4.0" fill="#262626"/><ellipse cx="36.0" cy="1.5" rx="3.5" ry="2.0" fill="#0f0f0f"/></g></g></g><path d="M26.4 433.4 L27.6 432.9 L29.1 432.8 L31.5 433.5 L33.8 433.9 L37.3 434.4 L39.2 435.0 L40.3 435.8 L41.7 435.7 L42.4 435.0 L44.1 434.5 L46.1 435.0 L47.6 435.7 L51.2 436.7 L53.7 437.8 L54.9 438.8 L56.2 439.4 L58.3 439.6 L60.9 439.7 L63.0 440.6 M68.0 439.7 L64.8 439.3 L62.3 439.2 L60.1 439.1 L58.5 438.6 L56.0 438.2 L54.7 437.7 L53.8 436.9 L53.4 436.2 L52.7 435.7 L54.2 435.5 L55.0 435.9 L57.4 435.9 L59.4 436.0 L61.7 436.4 L63.6 436.2 L65.2 436.6 L66.2 437.1 L66.7 437.0 L67.6 436.3 L67.4 435.5 L68.4 435.2 L69.7 434.4 L69.6 433.9 L68.6 433.3 L67.3 432.7 L65.1 432.1 L63.2 431.8 L60.7 431.7 L58.8 431.4 L56.4 431.0 L55.6 430.6 L55.5 430.0 L55.6 429.5 L56.3 428.7 L57.4 428.5 L58.8 428.4 L60.2 428.6 L61.2 428.9 L62.0 428.7 L61.1 428.2 L62.4 427.7 L63.8 427.2 L64.9 426.7 L66.0 426.5 L67.7 425.9 L69.0 425.4 L69.7 424.7 L70.4 424.0 L70.8 423.3 L70.0 422.6 L69.9 422.1 M61.3 430.2 L62.9 430.2 L64.0 429.6 L63.8 428.9 L62.6 428.8 L61.0 429.1 L60.2 429.7 L61.3 430.2 M53.8 441.7 L56.2 441.6 L57.9 441.3 L59.5 441.2" fill="none" stroke="#c8287a" stroke-width="0.4" stroke-opacity="0.5" stroke-dasharray="0.8 0.4"/><rect x="16.90" y="517.65" width="79.20" height="3.8" fill="url(#gpar)"/><line x1="119.30" y1="429.05" x2="119.30" y2="497.45" stroke="#c4c4c4" stroke-width="0.5"/><line x1="198.70" y1="434.95" x2="198.70" y2="503.35" stroke="#c4c4c4" stroke-width="0.5"/><g clip-path="url(#c314)"><g filter="url(#f31)"><g transform="translate(119.50 497.45)"><rect x="-2" y="-12" width="83" height="30" fill="#b5b5b5"/><ellipse cx="60.0" cy="0.0" rx="14.0" ry="5.0" fill="#a3a3a3"/><ellipse cx="67.0" cy="2.0" rx="16.0" ry="6.0" fill="#999999"/><ellipse cx="75.0" cy="4.0" rx="9.0" ry="4.0" fill="#8a8a8a"/><ellipse cx="5.0" cy="0.0" rx="8.0" ry="2.5" fill="#525252"/><ellipse cx="5.0" cy="-1.0" rx="3.0" ry="1.0" fill="#242424"/><ellipse cx="25.0" cy="-1.5" rx="5.5" ry="1.4" fill="#ededed" transform="rotate(-10 25.0 -1.5)"/><ellipse cx="40.0" cy="4.0" rx="10.0" ry="3.0" fill="#c7c7c7"/><ellipse cx="45.0" cy="-6.0" rx="6.0" ry="2.0" fill="#949494"/></g></g></g><path d="M128.6 502.2 L129.8 501.7 L131.3 501.6 L133.7 502.3 L136.0 502.6 L139.5 503.1 L141.5 503.8 L142.5 504.5 L143.9 504.4 L144.6 503.7 L146.3 503.1 L148.4 503.6 L149.9 504.4 L153.5 505.4 L155.9 506.5 L157.2 507.5 L158.5 508.1 L160.6 508.2 L163.2 508.4 L165.3 509.2 M170.3 508.3 L167.1 508.0 L164.6 507.8 L162.4 507.8 L160.7 507.2 L158.3 506.9 L156.9 506.3 L156.1 505.5 L155.7 504.9 L154.9 504.4 L156.4 504.1 L157.3 504.5 L159.7 504.5 L161.7 504.6 L164.0 505.0 L165.9 504.8 L167.5 505.3 L168.5 505.8 L169.1 505.6 L169.9 504.9 L169.8 504.1 L170.7 503.8 L172.0 503.0 L171.9 502.5 L170.9 501.9 L169.6 501.3 L167.4 500.6 L165.5 500.4 L163.0 500.2 L161.0 500.0 L158.6 499.6 L157.8 499.2 L157.7 498.6 L157.8 498.1 L158.5 497.3 L159.6 497.0 L160.9 496.9 L162.4 497.1 L163.4 497.4 L164.2 497.2 L163.3 496.7 L164.6 496.2 L165.9 495.7 L167.1 495.2 L168.1 494.9 L169.8 494.3 L171.1 493.9 L171.8 493.1 L172.5 492.3 L172.9 491.6 L172.1 490.9 L171.9 490.4 M163.5 498.8 L165.2 498.7 L166.2 498.1 L166.0 497.5 L164.8 497.3 L163.2 497.6 L162.4 498.3 L163.5 498.8 M156.0 510.4 L158.5 510.3 L160.2 510.0 L161.7 509.9" fill="none" stroke="#404040" stroke-width="0.3" stroke-opacity="0.35"/><g clip-path="url(#c313)"><g filter="url(#f31)"><g transform="translate(119.50 480.35)"><rect x="-2" y="-12" width="83" height="30" fill="#b5b5b5"/><ellipse cx="60.0" cy="0.0" rx="14.0" ry="5.0" fill="#a3a3a3"/><ellipse cx="67.0" cy="2.0" rx="16.0" ry="6.0" fill="#999999"/><ellipse cx="75.0" cy="4.0" rx="9.0" ry="4.0" fill="#8a8a8a"/><ellipse cx="5.0" cy="0.0" rx="7.0" ry="2.5" fill="#616161"/><ellipse cx="5.0" cy="-1.0" rx="3.0" ry="1.0" fill="#292929"/><ellipse cx="25.0" cy="-1.5" rx="5.5" ry="1.4" fill="#ededed" transform="rotate(-10 25.0 -1.5)"/><ellipse cx="40.0" cy="3.0" rx="10.0" ry="3.0" fill="#c7c7c7"/><ellipse cx="45.0" cy="-6.0" rx="6.0" ry="2.0" fill="#949494"/></g></g></g><path d="M128.6 485.1 L129.8 484.6 L131.3 484.5 L133.7 485.2 L136.0 485.5 L139.5 486.0 L141.5 486.7 L142.5 487.4 L143.9 487.3 L144.6 486.6 L146.3 486.0 L148.4 486.5 L149.9 487.3 L153.5 488.3 L155.9 489.4 L157.2 490.4 L158.5 491.0 L160.6 491.1 L163.2 491.3 L165.3 492.1 M170.3 491.2 L167.1 490.9 L164.6 490.7 L162.4 490.7 L160.7 490.1 L158.3 489.8 L156.9 489.2 L156.1 488.4 L155.7 487.8 L154.9 487.3 L156.4 487.0 L157.3 487.4 L159.7 487.4 L161.7 487.5 L164.0 487.9 L165.9 487.7 L167.5 488.2 L168.5 488.7 L169.1 488.5 L169.9 487.8 L169.8 487.0 L170.7 486.7 L172.0 485.9 L171.9 485.4 L170.9 484.8 L169.6 484.2 L167.4 483.5 L165.5 483.3 L163.0 483.1 L161.0 482.9 L158.6 482.5 L157.8 482.1 L157.7 481.5 L157.8 481.0 L158.5 480.2 L159.6 479.9 L160.9 479.8 L162.4 480.0 L163.4 480.3 L164.2 480.1 L163.3 479.6 L164.6 479.1 L165.9 478.6 L167.1 478.1 L168.1 477.8 L169.8 477.2 L171.1 476.8 L171.8 476.0 L172.5 475.2 L172.9 474.5 L172.1 473.8 L171.9 473.3 M163.5 481.7 L165.2 481.6 L166.2 481.0 L166.0 480.4 L164.8 480.2 L163.2 480.5 L162.4 481.2 L163.5 481.7 M156.0 493.3 L158.5 493.2 L160.2 492.9 L161.7 492.8" fill="none" stroke="#404040" stroke-width="0.3" stroke-opacity="0.35"/><g clip-path="url(#c312)"><g filter="url(#f31)"><g transform="translate(119.50 463.25)"><rect x="-2" y="-12" width="83" height="30" fill="#b5b5b5"/><ellipse cx="60.0" cy="0.0" rx="14.0" ry="5.0" fill="#a3a3a3"/><ellipse cx="67.0" cy="2.0" rx="16.0" ry="6.0" fill="#999999"/><ellipse cx="75.0" cy="4.0" rx="9.0" ry="4.0" fill="#8a8a8a"/><ellipse cx="5.0" cy="0.0" rx="7.0" ry="2.5" fill="#616161"/><ellipse cx="4.0" cy="-1.0" rx="2.0" ry="1.0" fill="#2e2e2e"/><ellipse cx="25.0" cy="-1.5" rx="5.5" ry="1.4" fill="#ededed" transform="rotate(-10 25.0 -1.5)"/><ellipse cx="40.0" cy="2.0" rx="10.0" ry="3.5" fill="#cccccc"/><ellipse cx="45.0" cy="-6.0" rx="6.0" ry="2.0" fill="#949494"/></g></g></g><path d="M128.6 468.0 L129.8 467.5 L131.3 467.4 L133.7 468.1 L136.0 468.4 L139.5 468.9 L141.5 469.6 L142.5 470.3 L143.9 470.2 L144.6 469.5 L146.3 468.9 L148.4 469.4 L149.9 470.2 L153.5 471.2 L155.9 472.3 L157.2 473.3 L158.5 473.9 L160.6 474.0 L163.2 474.2 L165.3 475.0 M170.3 474.1 L167.1 473.8 L164.6 473.6 L162.4 473.6 L160.7 473.0 L158.3 472.7 L156.9 472.1 L156.1 471.3 L155.7 470.7 L154.9 470.2 L156.4 469.9 L157.3 470.3 L159.7 470.3 L161.7 470.4 L164.0 470.8 L165.9 470.6 L167.5 471.1 L168.5 471.6 L169.1 471.4 L169.9 470.7 L169.8 469.9 L170.7 469.6 L172.0 468.8 L171.9 468.3 L170.9 467.7 L169.6 467.1 L167.4 466.4 L165.5 466.2 L163.0 466.0 L161.0 465.8 L158.6 465.4 L157.8 465.0 L157.7 464.4 L157.8 463.9 L158.5 463.1 L159.6 462.8 L160.9 462.7 L162.4 462.9 L163.4 463.2 L164.2 463.0 L163.3 462.5 L164.6 462.0 L165.9 461.5 L167.1 461.0 L168.1 460.7 L169.8 460.1 L171.1 459.7 L171.8 458.9 L172.5 458.1 L172.9 457.4 L172.1 456.7 L171.9 456.2 M163.5 464.6 L165.2 464.5 L166.2 463.9 L166.0 463.3 L164.8 463.1 L163.2 463.4 L162.4 464.1 L163.5 464.6 M156.0 476.2 L158.5 476.1 L160.2 475.8 L161.7 475.7" fill="none" stroke="#404040" stroke-width="0.3" stroke-opacity="0.35"/><g clip-path="url(#c311)"><g filter="url(#f31)"><g transform="translate(119.50 446.15)"><rect x="-2" y="-12" width="83" height="30" fill="#b5b5b5"/><ellipse cx="60.0" cy="0.0" rx="14.0" ry="5.0" fill="#a3a3a3"/><ellipse cx="67.0" cy="2.0" rx="16.0" ry="6.0" fill="#999999"/><ellipse cx="75.0" cy="4.0" rx="9.0" ry="4.0" fill="#8a8a8a"/><ellipse cx="33.0" cy="5.0" rx="17.0" ry="7.0" fill="#d6d6d6"/><ellipse cx="33.0" cy="4.5" rx="7.0" ry="3.0" fill="#ebebeb"/><ellipse cx="5.0" cy="0.0" rx="6.0" ry="2.5" fill="#737373"/><ellipse cx="15.0" cy="-2.0" rx="8.0" ry="2.5" fill="#9e9e9e"/><ellipse cx="47.0" cy="-6.0" rx="5.0" ry="2.0" fill="#949494"/></g></g></g><path d="M128.6 450.9 L129.8 450.4 L131.3 450.3 L133.7 451.0 L136.0 451.3 L139.5 451.8 L141.5 452.5 L142.5 453.2 L143.9 453.1 L144.6 452.4 L146.3 451.8 L148.4 452.3 L149.9 453.1 L153.5 454.1 L155.9 455.2 L157.2 456.2 L158.5 456.8 L160.6 456.9 L163.2 457.1 L165.3 457.9 M170.3 457.0 L167.1 456.7 L164.6 456.5 L162.4 456.5 L160.7 455.9 L158.3 455.6 L156.9 455.0 L156.1 454.2 L155.7 453.6 L154.9 453.1 L156.4 452.8 L157.3 453.2 L159.7 453.2 L161.7 453.3 L164.0 453.7 L165.9 453.5 L167.5 454.0 L168.5 454.5 L169.1 454.3 L169.9 453.6 L169.8 452.8 L170.7 452.5 L172.0 451.7 L171.9 451.2 L170.9 450.6 L169.6 450.0 L167.4 449.3 L165.5 449.1 L163.0 448.9 L161.0 448.7 L158.6 448.3 L157.8 447.9 L157.7 447.3 L157.8 446.8 L158.5 446.0 L159.6 445.7 L160.9 445.6 L162.4 445.8 L163.4 446.1 L164.2 445.9 L163.3 445.4 L164.6 444.9 L165.9 444.4 L167.1 443.9 L168.1 443.6 L169.8 443.0 L171.1 442.6 L171.8 441.8 L172.5 441.0 L172.9 440.3 L172.1 439.6 L171.9 439.1 M163.5 447.5 L165.2 447.4 L166.2 446.8 L166.0 446.2 L164.8 446.0 L163.2 446.3 L162.4 447.0 L163.5 447.5 M156.0 459.1 L158.5 459.0 L160.2 458.7 L161.7 458.6" fill="none" stroke="#404040" stroke-width="0.3" stroke-opacity="0.35"/><g clip-path="url(#c310)"><g filter="url(#f31)"><g transform="translate(119.50 429.05)"><rect x="-2" y="-12" width="83" height="30" fill="#b5b5b5"/><ellipse cx="60.0" cy="0.0" rx="14.0" ry="5.0" fill="#a3a3a3"/><ellipse cx="67.0" cy="2.0" rx="16.0" ry="6.0" fill="#999999"/><ellipse cx="75.0" cy="4.0" rx="9.0" ry="4.0" fill="#8a8a8a"/><ellipse cx="33.0" cy="4.5" rx="18.0" ry="7.5" fill="#d9d9d9"/><ellipse cx="36.0" cy="3.0" rx="9.0" ry="4.0" fill="#ededed"/><ellipse cx="4.0" cy="0.0" rx="6.0" ry="2.5" fill="#8c8c8c"/><ellipse cx="16.0" cy="-3.0" rx="7.0" ry="2.5" fill="#a3a3a3"/><ellipse cx="47.0" cy="-7.0" rx="5.0" ry="2.0" fill="#949494"/><ellipse cx="12.0" cy="6.0" rx="7.0" ry="3.0" fill="#b8b8b8"/></g></g></g><path d="M128.6 433.8 L129.8 433.3 L131.3 433.2 L133.7 433.9 L136.0 434.2 L139.5 434.7 L141.5 435.4 L142.5 436.1 L143.9 436.0 L144.6 435.3 L146.3 434.7 L148.4 435.2 L149.9 436.0 L153.5 437.0 L155.9 438.1 L157.2 439.1 L158.5 439.7 L160.6 439.8 L163.2 440.0 L165.3 440.8 M170.3 439.9 L167.1 439.6 L164.6 439.4 L162.4 439.4 L160.7 438.8 L158.3 438.5 L156.9 437.9 L156.1 437.1 L155.7 436.5 L154.9 436.0 L156.4 435.7 L157.3 436.1 L159.7 436.1 L161.7 436.2 L164.0 436.6 L165.9 436.4 L167.5 436.9 L168.5 437.4 L169.1 437.2 L169.9 436.5 L169.8 435.7 L170.7 435.4 L172.0 434.6 L171.9 434.1 L170.9 433.5 L169.6 432.9 L167.4 432.2 L165.5 432.0 L163.0 431.8 L161.0 431.6 L158.6 431.2 L157.8 430.8 L157.7 430.2 L157.8 429.7 L158.5 428.9 L159.6 428.6 L160.9 428.5 L162.4 428.7 L163.4 429.0 L164.2 428.8 L163.3 428.3 L164.6 427.8 L165.9 427.3 L167.1 426.8 L168.1 426.5 L169.8 425.9 L171.1 425.5 L171.8 424.7 L172.5 423.9 L172.9 423.2 L172.1 422.5 L171.9 422.0 M163.5 430.4 L165.2 430.3 L166.2 429.7 L166.0 429.1 L164.8 428.9 L163.2 429.2 L162.4 429.9 L163.5 430.4 M156.0 442.0 L158.5 441.9 L160.2 441.6 L161.7 441.5" fill="none" stroke="#404040" stroke-width="0.3" stroke-opacity="0.35"/><rect x="119.20" y="517.65" width="78.40" height="3.8" fill="url(#gjet)"/><line x1="221.30" y1="429.45" x2="221.30" y2="497.85" stroke="#c4c4c4" stroke-width="0.5"/><line x1="301.40" y1="435.25" x2="301.40" y2="503.65" stroke="#c4c4c4" stroke-width="0.5"/><g clip-path="url(#c324)"><g filter="url(#f32)"><g transform="translate(221.50 497.85)"><rect x="-2" y="-12" width="83" height="30" fill="#696969"/><ellipse cx="34.7" cy="1.7" rx="2.1" ry="1.6" fill="#b9b9b9"/><ellipse cx="24.2" cy="2.5" rx="1.6" ry="1.1" fill="#b7b7b7"/><ellipse cx="36.1" cy="2.6" rx="2.0" ry="1.3" fill="#999999"/><ellipse cx="58.5" cy="5.4" rx="1.9" ry="1.3" fill="#5f5f5f"/><ellipse cx="59.6" cy="-1.3" rx="2.2" ry="1.1" fill="#606060"/><ellipse cx="50.6" cy="-3.6" rx="1.9" ry="1.4" fill="#646464"/><ellipse cx="66.2" cy="4.4" rx="1.4" ry="1.0" fill="#5f5f5f"/><ellipse cx="44.6" cy="4.8" rx="2.3" ry="1.2" fill="#606060"/><ellipse cx="24.6" cy="7.1" rx="2.6" ry="1.3" fill="#646464"/><ellipse cx="28.5" cy="-2.9" rx="2.1" ry="1.1" fill="#656565"/><ellipse cx="40.0" cy="-1.0" rx="7.0" ry="2.5" fill="#999999"/><ellipse cx="30.0" cy="10.0" rx="3.0" ry="1.5" fill="#2e2e2e"/></g></g></g><path d="M230.7 502.6 L231.9 502.0 L233.5 501.9 L235.9 502.6 L238.2 503.0 L241.7 503.4 L243.7 504.0 L244.8 504.8 L246.2 504.7 L246.9 503.9 L248.6 503.4 L250.7 503.9 L252.2 504.7 L255.9 505.6 L258.4 506.8 L259.6 507.7 L261.0 508.3 L263.1 508.5 L265.7 508.6 L267.8 509.5 M272.9 508.6 L269.6 508.2 L267.1 508.1 L264.9 508.0 L263.2 507.5 L260.7 507.1 L259.4 506.6 L258.5 505.8 L258.1 505.1 L257.3 504.6 L258.8 504.4 L259.6 504.8 L262.1 504.8 L264.1 504.9 L266.5 505.3 L268.4 505.1 L269.9 505.5 L271.0 506.0 L271.6 505.9 L272.4 505.2 L272.2 504.4 L273.2 504.1 L274.5 503.3 L274.4 502.7 L273.3 502.1 L272.0 501.6 L269.8 500.9 L267.8 500.6 L265.3 500.5 L263.3 500.3 L260.9 499.9 L260.0 499.5 L259.9 498.8 L260.0 498.3 L260.7 497.6 L261.8 497.3 L263.2 497.2 L264.6 497.4 L265.6 497.6 L266.5 497.5 L265.6 496.9 L266.8 496.5 L268.1 496.0 L269.3 495.5 L270.4 495.2 L272.0 494.6 L273.3 494.1 L274.0 493.3 L274.7 492.6 L275.0 491.9 L274.2 491.1 L274.0 490.6 M265.8 499.1 L267.5 499.0 L268.5 498.4 L268.3 497.7 L267.0 497.6 L265.5 497.9 L264.7 498.5 L265.8 499.1 M258.5 510.6 L261.0 510.5 L262.7 510.2 L264.3 510.1" fill="none" stroke="#404040" stroke-width="0.3" stroke-opacity="0.45"/><g clip-path="url(#c323)"><g filter="url(#f32)"><g transform="translate(221.50 480.75)"><rect x="-2" y="-12" width="83" height="30" fill="#696969"/><ellipse cx="57.2" cy="-1.4" rx="2.0" ry="1.1" fill="#a7a7a7"/><ellipse cx="58.5" cy="4.5" rx="1.6" ry="1.0" fill="#9b9b9b"/><ellipse cx="55.3" cy="-0.8" rx="2.4" ry="1.4" fill="#a3a3a3"/><ellipse cx="32.7" cy="-1.9" rx="2.1" ry="1.6" fill="#636363"/><ellipse cx="30.3" cy="-0.4" rx="1.9" ry="1.2" fill="#636363"/><ellipse cx="44.3" cy="6.0" rx="2.6" ry="1.4" fill="#626262"/><ellipse cx="31.3" cy="1.7" rx="2.3" ry="1.5" fill="#616161"/><ellipse cx="46.4" cy="5.2" rx="2.4" ry="1.9" fill="#5d5d5d"/><ellipse cx="7.8" cy="0.5" rx="2.1" ry="1.4" fill="#5f5f5f"/><ellipse cx="37.3" cy="-0.1" rx="1.9" ry="1.1" fill="#626262"/><ellipse cx="30.0" cy="7.4" rx="4.0" ry="2.5" fill="#262626"/><ellipse cx="44.0" cy="0.0" rx="6.0" ry="2.5" fill="#a8a8a8"/></g></g></g><path d="M230.7 485.5 L231.9 484.9 L233.5 484.8 L235.9 485.5 L238.2 485.9 L241.7 486.3 L243.7 486.9 L244.8 487.7 L246.2 487.6 L246.9 486.8 L248.6 486.3 L250.7 486.8 L252.2 487.6 L255.9 488.5 L258.4 489.7 L259.6 490.6 L261.0 491.2 L263.1 491.4 L265.7 491.5 L267.8 492.4 M272.9 491.5 L269.6 491.1 L267.1 491.0 L264.9 490.9 L263.2 490.4 L260.7 490.0 L259.4 489.5 L258.5 488.7 L258.1 488.0 L257.3 487.5 L258.8 487.3 L259.6 487.7 L262.1 487.7 L264.1 487.8 L266.5 488.2 L268.4 488.0 L269.9 488.4 L271.0 488.9 L271.6 488.8 L272.4 488.1 L272.2 487.3 L273.2 487.0 L274.5 486.2 L274.4 485.6 L273.3 485.0 L272.0 484.5 L269.8 483.8 L267.8 483.5 L265.3 483.4 L263.3 483.2 L260.9 482.8 L260.0 482.4 L259.9 481.7 L260.0 481.2 L260.7 480.5 L261.8 480.2 L263.2 480.1 L264.6 480.3 L265.6 480.5 L266.5 480.4 L265.6 479.8 L266.8 479.4 L268.1 478.9 L269.3 478.4 L270.4 478.1 L272.0 477.5 L273.3 477.0 L274.0 476.2 L274.7 475.5 L275.0 474.8 L274.2 474.0 L274.0 473.5 M265.8 482.0 L267.5 481.9 L268.5 481.3 L268.3 480.6 L267.0 480.5 L265.5 480.8 L264.7 481.4 L265.8 482.0 M258.5 493.5 L261.0 493.4 L262.7 493.1 L264.3 493.0" fill="none" stroke="#404040" stroke-width="0.3" stroke-opacity="0.45"/><g clip-path="url(#c322)"><g filter="url(#f32)"><g transform="translate(221.50 463.65)"><rect x="-2" y="-12" width="83" height="30" fill="#696969"/><ellipse cx="29.6" cy="0.9" rx="1.3" ry="1.0" fill="#9e9e9e"/><ellipse cx="49.0" cy="6.6" rx="1.2" ry="0.8" fill="#d7d7d7"/><ellipse cx="28.6" cy="5.1" rx="2.5" ry="1.3" fill="#9e9e9e"/><ellipse cx="37.9" cy="4.5" rx="1.9" ry="1.4" fill="#616161"/><ellipse cx="24.3" cy="2.8" rx="2.4" ry="1.4" fill="#636363"/><ellipse cx="41.9" cy="10.1" rx="2.3" ry="1.2" fill="#5e5e5e"/><ellipse cx="58.7" cy="-0.3" rx="1.3" ry="1.0" fill="#5e5e5e"/><ellipse cx="13.7" cy="1.9" rx="1.2" ry="0.7" fill="#666666"/><ellipse cx="38.6" cy="-4.4" rx="1.2" ry="0.7" fill="#5f5f5f"/><ellipse cx="39.8" cy="-4.0" rx="1.8" ry="1.0" fill="#606060"/><ellipse cx="44.0" cy="-1.0" rx="6.0" ry="2.5" fill="#cccccc"/><ellipse cx="29.0" cy="10.4" rx="3.0" ry="2.0" fill="#1f1f1f"/><ellipse cx="60.0" cy="2.0" rx="5.0" ry="2.0" fill="#949494"/></g></g></g><path d="M230.7 468.4 L231.9 467.8 L233.5 467.7 L235.9 468.4 L238.2 468.8 L241.7 469.2 L243.7 469.8 L244.8 470.6 L246.2 470.5 L246.9 469.7 L248.6 469.2 L250.7 469.7 L252.2 470.5 L255.9 471.4 L258.4 472.6 L259.6 473.5 L261.0 474.1 L263.1 474.3 L265.7 474.4 L267.8 475.3 M272.9 474.4 L269.6 474.0 L267.1 473.9 L264.9 473.8 L263.2 473.3 L260.7 472.9 L259.4 472.4 L258.5 471.6 L258.1 470.9 L257.3 470.4 L258.8 470.2 L259.6 470.6 L262.1 470.6 L264.1 470.7 L266.5 471.1 L268.4 470.9 L269.9 471.3 L271.0 471.8 L271.6 471.7 L272.4 471.0 L272.2 470.2 L273.2 469.9 L274.5 469.1 L274.4 468.5 L273.3 467.9 L272.0 467.4 L269.8 466.7 L267.8 466.4 L265.3 466.3 L263.3 466.1 L260.9 465.7 L260.0 465.3 L259.9 464.6 L260.0 464.1 L260.7 463.4 L261.8 463.1 L263.2 463.0 L264.6 463.2 L265.6 463.4 L266.5 463.3 L265.6 462.7 L266.8 462.3 L268.1 461.8 L269.3 461.3 L270.4 461.0 L272.0 460.4 L273.3 459.9 L274.0 459.1 L274.7 458.4 L275.0 457.7 L274.2 456.9 L274.0 456.4 M265.8 464.9 L267.5 464.8 L268.5 464.2 L268.3 463.5 L267.0 463.4 L265.5 463.7 L264.7 464.3 L265.8 464.9 M258.5 476.4 L261.0 476.3 L262.7 476.0 L264.3 475.9" fill="none" stroke="#404040" stroke-width="0.3" stroke-opacity="0.45"/><g clip-path="url(#c321)"><g filter="url(#f32)"><g transform="translate(221.50 446.55)"><rect x="-2" y="-12" width="83" height="30" fill="#696969"/><ellipse cx="39.0" cy="1.9" rx="2.3" ry="1.3" fill="#9d9d9d"/><ellipse cx="52.0" cy="3.9" rx="2.5" ry="1.9" fill="#c5c5c5"/><ellipse cx="29.7" cy="12.9" rx="1.7" ry="1.1" fill="#a6a6a6"/><ellipse cx="47.2" cy="1.5" rx="1.5" ry="1.0" fill="#616161"/><ellipse cx="45.3" cy="-4.9" rx="1.9" ry="1.4" fill="#656565"/><ellipse cx="17.0" cy="5.7" rx="1.2" ry="1.0" fill="#636363"/><ellipse cx="53.1" cy="1.4" rx="1.8" ry="1.2" fill="#5e5e5e"/><ellipse cx="36.2" cy="8.0" rx="2.3" ry="1.5" fill="#616161"/><ellipse cx="39.6" cy="8.1" rx="2.3" ry="1.8" fill="#646464"/><ellipse cx="52.6" cy="1.0" rx="1.6" ry="0.9" fill="#646464"/><ellipse cx="34.0" cy="4.5" rx="6.0" ry="3.5" fill="#1a1a1a" transform="rotate(30 34.0 4.5)"/><ellipse cx="48.0" cy="0.0" rx="7.5" ry="2.6" fill="#d9d9d9" transform="rotate(100 48.0 0.0)"/><ellipse cx="56.0" cy="4.0" rx="4.0" ry="3.0" fill="#999999"/></g></g></g><path d="M230.7 451.3 L231.9 450.7 L233.5 450.6 L235.9 451.3 L238.2 451.7 L241.7 452.1 L243.7 452.7 L244.8 453.5 L246.2 453.4 L246.9 452.6 L248.6 452.1 L250.7 452.6 L252.2 453.4 L255.9 454.3 L258.4 455.5 L259.6 456.4 L261.0 457.0 L263.1 457.2 L265.7 457.3 L267.8 458.2 M272.9 457.3 L269.6 456.9 L267.1 456.8 L264.9 456.7 L263.2 456.2 L260.7 455.8 L259.4 455.3 L258.5 454.5 L258.1 453.8 L257.3 453.3 L258.8 453.1 L259.6 453.5 L262.1 453.5 L264.1 453.6 L266.5 454.0 L268.4 453.8 L269.9 454.2 L271.0 454.7 L271.6 454.6 L272.4 453.9 L272.2 453.1 L273.2 452.8 L274.5 452.0 L274.4 451.4 L273.3 450.8 L272.0 450.3 L269.8 449.6 L267.8 449.3 L265.3 449.2 L263.3 449.0 L260.9 448.6 L260.0 448.2 L259.9 447.5 L260.0 447.0 L260.7 446.3 L261.8 446.0 L263.2 445.9 L264.6 446.1 L265.6 446.3 L266.5 446.2 L265.6 445.6 L266.8 445.2 L268.1 444.7 L269.3 444.2 L270.4 443.9 L272.0 443.3 L273.3 442.8 L274.0 442.0 L274.7 441.3 L275.0 440.6 L274.2 439.8 L274.0 439.3 M265.8 447.8 L267.5 447.7 L268.5 447.1 L268.3 446.4 L267.0 446.3 L265.5 446.6 L264.7 447.2 L265.8 447.8 M258.5 459.3 L261.0 459.2 L262.7 458.9 L264.3 458.8" fill="none" stroke="#404040" stroke-width="0.3" stroke-opacity="0.45"/><g clip-path="url(#c320)"><g filter="url(#f32)"><g transform="translate(221.50 429.45)"><rect x="-2" y="-12" width="83" height="30" fill="#696969"/><ellipse cx="24.5" cy="6.3" rx="1.2" ry="0.7" fill="#c1c1c1"/><ellipse cx="6.0" cy="0.9" rx="1.3" ry="0.9" fill="#a1a1a1"/><ellipse cx="17.4" cy="1.0" rx="1.8" ry="1.2" fill="#a4a4a4"/><ellipse cx="32.1" cy="2.6" rx="1.8" ry="1.1" fill="#5e5e5e"/><ellipse cx="35.0" cy="-4.1" rx="2.4" ry="1.2" fill="#606060"/><ellipse cx="16.8" cy="1.5" rx="2.1" ry="1.3" fill="#5c5c5c"/><ellipse cx="50.8" cy="0.3" rx="2.4" ry="1.3" fill="#646464"/><ellipse cx="63.4" cy="7.3" rx="1.5" ry="0.9" fill="#5d5d5d"/><ellipse cx="34.8" cy="6.7" rx="1.7" ry="0.9" fill="#656565"/><ellipse cx="34.8" cy="-1.3" rx="1.7" ry="1.1" fill="#656565"/><ellipse cx="32.0" cy="4.0" rx="8.0" ry="3.0" fill="#262626" transform="rotate(20 32.0 4.0)"/><ellipse cx="35.5" cy="4.8" rx="4.0" ry="2.0" fill="#0f0f0f"/><ellipse cx="47.0" cy="2.0" rx="9.0" ry="2.8" fill="#e0e0e0" transform="rotate(100 47.0 2.0)"/><ellipse cx="44.0" cy="-5.0" rx="4.0" ry="1.8" fill="#a6a6a6"/><ellipse cx="55.0" cy="3.0" rx="3.0" ry="4.0" fill="#999999"/><ellipse cx="70.0" cy="4.0" rx="4.0" ry="1.5" fill="#8c8c8c"/><ellipse cx="40.0" cy="13.0" rx="4.0" ry="1.5" fill="#b2b2b2"/><ellipse cx="15.0" cy="-1.5" rx="3.0" ry="1.0" fill="#949494"/></g></g></g><path d="M230.7 434.2 L231.9 433.6 L233.5 433.5 L235.9 434.2 L238.2 434.6 L241.7 435.0 L243.7 435.6 L244.8 436.4 L246.2 436.3 L246.9 435.5 L248.6 435.0 L250.7 435.5 L252.2 436.3 L255.9 437.2 L258.4 438.4 L259.6 439.3 L261.0 439.9 L263.1 440.1 L265.7 440.2 L267.8 441.1 M272.9 440.2 L269.6 439.8 L267.1 439.7 L264.9 439.6 L263.2 439.1 L260.7 438.7 L259.4 438.2 L258.5 437.4 L258.1 436.7 L257.3 436.2 L258.8 436.0 L259.6 436.4 L262.1 436.4 L264.1 436.5 L266.5 436.9 L268.4 436.7 L269.9 437.1 L271.0 437.6 L271.6 437.5 L272.4 436.8 L272.2 436.0 L273.2 435.7 L274.5 434.9 L274.4 434.3 L273.3 433.7 L272.0 433.2 L269.8 432.5 L267.8 432.2 L265.3 432.1 L263.3 431.9 L260.9 431.5 L260.0 431.1 L259.9 430.4 L260.0 429.9 L260.7 429.2 L261.8 428.9 L263.2 428.8 L264.6 429.0 L265.6 429.2 L266.5 429.1 L265.6 428.5 L266.8 428.1 L268.1 427.6 L269.3 427.1 L270.4 426.8 L272.0 426.2 L273.3 425.7 L274.0 424.9 L274.7 424.2 L275.0 423.5 L274.2 422.7 L274.0 422.2 M265.8 430.7 L267.5 430.6 L268.5 430.0 L268.3 429.3 L267.0 429.2 L265.5 429.5 L264.7 430.1 L265.8 430.7 M258.5 442.2 L261.0 442.1 L262.7 441.8 L264.3 441.7" fill="none" stroke="#404040" stroke-width="0.3" stroke-opacity="0.45"/><rect x="221.70" y="517.65" width="78.90" height="3.8" fill="url(#gjet)"/><line x1="323.30" y1="429.45" x2="323.30" y2="497.85" stroke="#c4c4c4" stroke-width="0.5"/><line x1="402.90" y1="434.75" x2="402.90" y2="503.15" stroke="#c4c4c4" stroke-width="0.5"/><g clip-path="url(#c334)"><g filter="url(#f33)"><g transform="translate(323.50 497.85)"><rect x="-2" y="-12" width="83" height="30" fill="#707070"/><ellipse cx="53.7" cy="5.3" rx="2.6" ry="1.9" fill="#a0a0a0"/><ellipse cx="36.9" cy="6.5" rx="1.9" ry="1.1" fill="#d3d3d3"/><ellipse cx="36.4" cy="6.3" rx="2.2" ry="1.4" fill="#a3a3a3"/><ellipse cx="58.5" cy="0.8" rx="2.5" ry="1.6" fill="#c2c2c2"/><ellipse cx="14.7" cy="-0.5" rx="2.1" ry="1.3" fill="#b7b7b7"/><ellipse cx="32.8" cy="9.3" rx="1.5" ry="1.0" fill="#c5c5c5"/><ellipse cx="45.8" cy="3.6" rx="2.2" ry="1.3" fill="#c1c1c1"/><ellipse cx="54.1" cy="0.7" rx="2.6" ry="2.0" fill="#bebebe"/><ellipse cx="50.3" cy="4.4" rx="2.1" ry="1.1" fill="#9f9f9f"/><ellipse cx="29.1" cy="-1.5" rx="1.2" ry="0.9" fill="#9e9e9e"/><ellipse cx="26.9" cy="4.2" rx="2.2" ry="1.1" fill="#bdbdbd"/><ellipse cx="47.9" cy="2.6" rx="2.6" ry="1.7" fill="#bbbbbb"/><ellipse cx="13.9" cy="1.6" rx="2.1" ry="1.4" fill="#cecece"/><ellipse cx="32.7" cy="-0.7" rx="2.4" ry="1.2" fill="#a2a2a2"/><ellipse cx="29.4" cy="12.7" rx="1.4" ry="0.7" fill="#5e5e5e"/><ellipse cx="42.2" cy="10.0" rx="1.3" ry="0.8" fill="#646464"/><ellipse cx="38.5" cy="4.9" rx="1.8" ry="1.2" fill="#616161"/><ellipse cx="21.9" cy="0.2" rx="1.8" ry="1.0" fill="#636363"/><ellipse cx="21.7" cy="1.2" rx="1.9" ry="1.2" fill="#626262"/><ellipse cx="38.8" cy="4.3" rx="2.4" ry="1.7" fill="#606060"/><ellipse cx="41.0" cy="5.5" rx="10.0" ry="3.0" fill="#262626" transform="rotate(35 41.0 5.5)"/><ellipse cx="12.0" cy="0.0" rx="6.0" ry="1.5" fill="#333333" transform="rotate(-10 12.0 0.0)"/><ellipse cx="28.0" cy="6.0" rx="5.0" ry="2.0" fill="#a8a8a8"/><ellipse cx="66.0" cy="6.0" rx="6.0" ry="2.0" fill="#9e9e9e"/></g></g></g><path d="M332.7 502.5 L333.9 502.0 L335.5 501.9 L338.0 502.5 L340.3 502.9 L343.8 503.3 L345.8 504.0 L346.8 504.7 L348.2 504.6 L349.0 503.9 L350.7 503.4 L352.8 503.8 L354.3 504.6 L357.9 505.5 L360.4 506.6 L361.6 507.5 L362.9 508.1 L365.0 508.2 L367.6 508.4 L369.7 509.2 M374.7 508.2 L371.5 507.9 L369.0 507.8 L366.8 507.7 L365.2 507.3 L362.7 506.9 L361.4 506.4 L360.5 505.6 L360.1 505.0 L359.4 504.5 L360.9 504.3 L361.7 504.7 L364.1 504.6 L366.1 504.7 L368.4 505.1 L370.3 504.9 L371.9 505.3 L372.9 505.8 L373.5 505.6 L374.3 504.9 L374.2 504.2 L375.1 503.9 L376.5 503.1 L376.4 502.6 L375.4 502.0 L374.1 501.5 L371.9 500.9 L370.0 500.6 L367.5 500.5 L365.6 500.3 L363.1 499.9 L362.3 499.5 L362.3 499.0 L362.4 498.5 L363.2 497.8 L364.2 497.5 L365.6 497.4 L367.0 497.5 L368.1 497.8 L368.9 497.7 L368.0 497.2 L369.4 496.7 L370.7 496.3 L371.9 495.8 L373.0 495.5 L374.7 494.9 L376.1 494.5 L376.8 493.8 L377.6 493.1 L378.0 492.4 L377.3 491.7 L377.2 491.3 M368.1 499.2 L369.8 499.1 L370.9 498.5 L370.7 497.9 L369.5 497.7 L367.9 498.1 L367.1 498.7 L368.1 499.2 M360.5 510.4 L362.9 510.2 L364.6 509.9 L366.2 509.8" fill="none" stroke="#404040" stroke-width="0.3" stroke-opacity="0.45"/><g clip-path="url(#c333)"><g filter="url(#f33)"><g transform="translate(323.50 480.75)"><rect x="-2" y="-12" width="83" height="30" fill="#707070"/><ellipse cx="50.1" cy="8.9" rx="2.5" ry="1.4" fill="#a4a4a4"/><ellipse cx="62.5" cy="0.3" rx="1.4" ry="0.9" fill="#c5c5c5"/><ellipse cx="20.8" cy="2.6" rx="1.7" ry="0.9" fill="#bbbbbb"/><ellipse cx="33.3" cy="3.1" rx="1.4" ry="0.7" fill="#b4b4b4"/><ellipse cx="27.3" cy="-3.0" rx="2.4" ry="1.4" fill="#a3a3a3"/><ellipse cx="53.8" cy="1.6" rx="2.4" ry="1.4" fill="#9f9f9f"/><ellipse cx="44.7" cy="0.9" rx="2.6" ry="1.4" fill="#b7b7b7"/><ellipse cx="40.3" cy="-1.5" rx="2.0" ry="1.2" fill="#9d9d9d"/><ellipse cx="63.0" cy="0.9" rx="2.2" ry="1.3" fill="#d0d0d0"/><ellipse cx="69.9" cy="5.4" rx="1.6" ry="0.8" fill="#a5a5a5"/><ellipse cx="22.9" cy="-1.7" rx="1.9" ry="1.5" fill="#bababa"/><ellipse cx="31.8" cy="3.0" rx="2.0" ry="1.0" fill="#9c9c9c"/><ellipse cx="27.8" cy="-1.8" rx="1.8" ry="1.1" fill="#bdbdbd"/><ellipse cx="26.2" cy="11.0" rx="2.1" ry="1.3" fill="#b5b5b5"/><ellipse cx="36.5" cy="-1.3" rx="1.8" ry="1.2" fill="#616161"/><ellipse cx="40.5" cy="10.6" rx="2.0" ry="1.3" fill="#656565"/><ellipse cx="25.6" cy="0.6" rx="1.6" ry="0.9" fill="#5d5d5d"/><ellipse cx="57.2" cy="-2.5" rx="1.5" ry="1.1" fill="#5e5e5e"/><ellipse cx="9.3" cy="1.5" rx="1.3" ry="0.9" fill="#5c5c5c"/><ellipse cx="21.5" cy="3.5" rx="1.9" ry="1.4" fill="#666666"/><ellipse cx="38.0" cy="2.4" rx="10.0" ry="3.0" fill="#262626" transform="rotate(40 38.0 2.4)"/><ellipse cx="25.0" cy="3.0" rx="5.0" ry="2.0" fill="#b8b8b8"/><ellipse cx="68.0" cy="5.0" rx="6.0" ry="2.0" fill="#adadad"/></g></g></g><path d="M332.7 485.4 L333.9 484.9 L335.5 484.8 L338.0 485.4 L340.3 485.8 L343.8 486.2 L345.8 486.9 L346.8 487.6 L348.2 487.5 L349.0 486.8 L350.7 486.3 L352.8 486.7 L354.3 487.5 L357.9 488.4 L360.4 489.5 L361.6 490.4 L362.9 491.0 L365.0 491.1 L367.6 491.3 L369.7 492.1 M374.7 491.1 L371.5 490.8 L369.0 490.7 L366.8 490.6 L365.2 490.2 L362.7 489.8 L361.4 489.3 L360.5 488.5 L360.1 487.9 L359.4 487.4 L360.9 487.2 L361.7 487.6 L364.1 487.5 L366.1 487.6 L368.4 488.0 L370.3 487.8 L371.9 488.2 L372.9 488.7 L373.5 488.5 L374.3 487.8 L374.2 487.1 L375.1 486.8 L376.5 486.0 L376.4 485.5 L375.4 484.9 L374.1 484.4 L371.9 483.8 L370.0 483.5 L367.5 483.4 L365.6 483.2 L363.1 482.8 L362.3 482.4 L362.3 481.9 L362.4 481.4 L363.2 480.7 L364.2 480.4 L365.6 480.3 L367.0 480.4 L368.1 480.7 L368.9 480.6 L368.0 480.1 L369.4 479.6 L370.7 479.2 L371.9 478.7 L373.0 478.4 L374.7 477.8 L376.1 477.4 L376.8 476.7 L377.6 476.0 L378.0 475.3 L377.3 474.6 L377.2 474.2 M368.1 482.1 L369.8 482.0 L370.9 481.4 L370.7 480.8 L369.5 480.6 L367.9 481.0 L367.1 481.6 L368.1 482.1 M360.5 493.3 L362.9 493.1 L364.6 492.8 L366.2 492.7" fill="none" stroke="#404040" stroke-width="0.3" stroke-opacity="0.45"/><g clip-path="url(#c332)"><g filter="url(#f33)"><g transform="translate(323.50 463.65)"><rect x="-2" y="-12" width="83" height="30" fill="#707070"/><ellipse cx="16.1" cy="5.0" rx="1.5" ry="0.9" fill="#a8a8a8"/><ellipse cx="9.3" cy="2.3" rx="2.1" ry="1.2" fill="#a8a8a8"/><ellipse cx="42.1" cy="10.7" rx="2.3" ry="1.6" fill="#b5b5b5"/><ellipse cx="49.1" cy="5.6" rx="2.5" ry="1.4" fill="#a7a7a7"/><ellipse cx="41.3" cy="-5.2" rx="2.3" ry="1.4" fill="#b4b4b4"/><ellipse cx="17.5" cy="3.0" rx="1.6" ry="0.9" fill="#9b9b9b"/><ellipse cx="36.1" cy="-0.1" rx="1.3" ry="0.7" fill="#bfbfbf"/><ellipse cx="36.4" cy="8.2" rx="2.5" ry="1.6" fill="#b5b5b5"/><ellipse cx="38.9" cy="-4.5" rx="2.5" ry="1.6" fill="#c1c1c1"/><ellipse cx="66.4" cy="6.9" rx="1.5" ry="0.9" fill="#a5a5a5"/><ellipse cx="40.2" cy="3.5" rx="1.8" ry="0.9" fill="#a1a1a1"/><ellipse cx="57.9" cy="8.0" rx="1.6" ry="1.1" fill="#9b9b9b"/><ellipse cx="17.7" cy="5.1" rx="2.5" ry="1.3" fill="#a2a2a2"/><ellipse cx="51.9" cy="1.3" rx="2.3" ry="1.3" fill="#b3b3b3"/><ellipse cx="22.8" cy="-1.0" rx="1.7" ry="1.3" fill="#5c5c5c"/><ellipse cx="26.6" cy="0.2" rx="1.9" ry="1.2" fill="#616161"/><ellipse cx="26.0" cy="3.9" rx="1.7" ry="0.9" fill="#5c5c5c"/><ellipse cx="43.5" cy="4.9" rx="2.5" ry="2.0" fill="#5c5c5c"/><ellipse cx="33.8" cy="-3.7" rx="1.4" ry="1.0" fill="#626262"/><ellipse cx="46.9" cy="0.1" rx="2.1" ry="1.4" fill="#5e5e5e"/><ellipse cx="40.0" cy="1.0" rx="10.0" ry="3.0" fill="#262626" transform="rotate(45 40.0 1.0)"/><ellipse cx="44.0" cy="-4.0" rx="5.0" ry="1.5" fill="#333333"/><ellipse cx="25.0" cy="3.0" rx="5.0" ry="2.0" fill="#b8b8b8"/><ellipse cx="66.0" cy="5.0" rx="8.0" ry="2.0" fill="#b2b2b2"/></g></g></g><path d="M332.7 468.3 L333.9 467.8 L335.5 467.7 L338.0 468.3 L340.3 468.7 L343.8 469.1 L345.8 469.8 L346.8 470.5 L348.2 470.4 L349.0 469.7 L350.7 469.2 L352.8 469.6 L354.3 470.4 L357.9 471.3 L360.4 472.4 L361.6 473.3 L362.9 473.9 L365.0 474.0 L367.6 474.2 L369.7 475.0 M374.7 474.0 L371.5 473.7 L369.0 473.6 L366.8 473.5 L365.2 473.1 L362.7 472.7 L361.4 472.2 L360.5 471.4 L360.1 470.8 L359.4 470.3 L360.9 470.1 L361.7 470.5 L364.1 470.4 L366.1 470.5 L368.4 470.9 L370.3 470.7 L371.9 471.1 L372.9 471.6 L373.5 471.4 L374.3 470.7 L374.2 470.0 L375.1 469.7 L376.5 468.9 L376.4 468.4 L375.4 467.8 L374.1 467.3 L371.9 466.7 L370.0 466.4 L367.5 466.3 L365.6 466.1 L363.1 465.7 L362.3 465.3 L362.3 464.8 L362.4 464.3 L363.2 463.6 L364.2 463.3 L365.6 463.2 L367.0 463.3 L368.1 463.6 L368.9 463.5 L368.0 463.0 L369.4 462.5 L370.7 462.1 L371.9 461.6 L373.0 461.3 L374.7 460.7 L376.1 460.3 L376.8 459.6 L377.6 458.9 L378.0 458.2 L377.3 457.5 L377.2 457.1 M368.1 465.0 L369.8 464.9 L370.9 464.3 L370.7 463.7 L369.5 463.5 L367.9 463.9 L367.1 464.5 L368.1 465.0 M360.5 476.2 L362.9 476.0 L364.6 475.7 L366.2 475.6" fill="none" stroke="#404040" stroke-width="0.3" stroke-opacity="0.45"/><g clip-path="url(#c331)"><g filter="url(#f33)"><g transform="translate(323.50 446.55)"><rect x="-2" y="-12" width="83" height="30" fill="#707070"/><ellipse cx="42.8" cy="2.4" rx="1.9" ry="1.1" fill="#a2a2a2"/><ellipse cx="53.4" cy="-0.3" rx="2.0" ry="1.4" fill="#c0c0c0"/><ellipse cx="45.9" cy="6.0" rx="1.4" ry="0.9" fill="#bbbbbb"/><ellipse cx="37.3" cy="1.7" rx="1.2" ry="0.8" fill="#a7a7a7"/><ellipse cx="63.1" cy="4.7" rx="2.1" ry="1.6" fill="#a6a6a6"/><ellipse cx="40.1" cy="-2.3" rx="1.7" ry="1.1" fill="#9b9b9b"/><ellipse cx="43.4" cy="11.2" rx="1.8" ry="1.2" fill="#bbbbbb"/><ellipse cx="56.8" cy="1.3" rx="1.8" ry="1.2" fill="#bdbdbd"/><ellipse cx="23.9" cy="1.9" rx="2.0" ry="1.4" fill="#c4c4c4"/><ellipse cx="45.0" cy="0.8" rx="1.9" ry="1.1" fill="#a3a3a3"/><ellipse cx="24.9" cy="-0.5" rx="2.2" ry="1.5" fill="#a4a4a4"/><ellipse cx="16.4" cy="-0.2" rx="1.3" ry="0.9" fill="#a4a4a4"/><ellipse cx="11.2" cy="3.3" rx="1.7" ry="1.0" fill="#bbbbbb"/><ellipse cx="59.2" cy="-0.8" rx="1.5" ry="1.0" fill="#9b9b9b"/><ellipse cx="52.1" cy="-4.4" rx="1.5" ry="1.2" fill="#5e5e5e"/><ellipse cx="48.5" cy="8.8" rx="2.1" ry="1.5" fill="#606060"/><ellipse cx="55.2" cy="0.6" rx="2.1" ry="1.1" fill="#626262"/><ellipse cx="55.6" cy="0.9" rx="1.8" ry="1.0" fill="#646464"/><ellipse cx="42.3" cy="7.0" rx="2.0" ry="1.2" fill="#666666"/><ellipse cx="54.2" cy="8.2" rx="2.3" ry="1.5" fill="#5d5d5d"/><ellipse cx="38.0" cy="-0.5" rx="8.0" ry="2.5" fill="#262626" transform="rotate(20 38.0 -0.5)"/><ellipse cx="45.0" cy="5.0" rx="6.0" ry="3.0" fill="#141414" transform="rotate(70 45.0 5.0)"/><ellipse cx="50.0" cy="-4.0" rx="5.0" ry="1.5" fill="#d9d9d9" transform="rotate(-10 50.0 -4.0)"/><ellipse cx="5.0" cy="0.0" rx="4.0" ry="1.5" fill="#404040"/><ellipse cx="17.0" cy="7.5" rx="2.5" ry="1.2" fill="#d9d9d9"/><ellipse cx="57.0" cy="8.0" rx="5.0" ry="1.5" fill="#cccccc"/><ellipse cx="18.0" cy="1.0" rx="6.0" ry="2.5" fill="#999999"/></g></g></g><path d="M332.7 451.2 L333.9 450.7 L335.5 450.6 L338.0 451.2 L340.3 451.6 L343.8 452.0 L345.8 452.7 L346.8 453.4 L348.2 453.3 L349.0 452.6 L350.7 452.1 L352.8 452.5 L354.3 453.3 L357.9 454.2 L360.4 455.3 L361.6 456.2 L362.9 456.8 L365.0 456.9 L367.6 457.1 L369.7 457.9 M374.7 456.9 L371.5 456.6 L369.0 456.5 L366.8 456.4 L365.2 456.0 L362.7 455.6 L361.4 455.1 L360.5 454.3 L360.1 453.7 L359.4 453.2 L360.9 453.0 L361.7 453.4 L364.1 453.3 L366.1 453.4 L368.4 453.8 L370.3 453.6 L371.9 454.0 L372.9 454.5 L373.5 454.3 L374.3 453.6 L374.2 452.9 L375.1 452.6 L376.5 451.8 L376.4 451.3 L375.4 450.7 L374.1 450.2 L371.9 449.6 L370.0 449.3 L367.5 449.2 L365.6 449.0 L363.1 448.6 L362.3 448.2 L362.3 447.7 L362.4 447.2 L363.2 446.5 L364.2 446.2 L365.6 446.1 L367.0 446.2 L368.1 446.5 L368.9 446.4 L368.0 445.9 L369.4 445.4 L370.7 445.0 L371.9 444.5 L373.0 444.2 L374.7 443.6 L376.1 443.2 L376.8 442.5 L377.6 441.8 L378.0 441.1 L377.3 440.4 L377.2 440.0 M368.1 447.9 L369.8 447.8 L370.9 447.2 L370.7 446.6 L369.5 446.4 L367.9 446.8 L367.1 447.4 L368.1 447.9 M360.5 459.1 L362.9 458.9 L364.6 458.6 L366.2 458.5" fill="none" stroke="#404040" stroke-width="0.3" stroke-opacity="0.45"/><g clip-path="url(#c330)"><g filter="url(#f33)"><g transform="translate(323.50 429.45)"><rect x="-2" y="-12" width="83" height="30" fill="#707070"/><ellipse cx="24.0" cy="-0.1" rx="1.8" ry="1.4" fill="#a5a5a5"/><ellipse cx="18.2" cy="2.8" rx="2.2" ry="1.5" fill="#a8a8a8"/><ellipse cx="48.3" cy="7.5" rx="2.3" ry="1.5" fill="#a5a5a5"/><ellipse cx="28.2" cy="5.3" rx="1.5" ry="1.0" fill="#a5a5a5"/><ellipse cx="71.0" cy="6.5" rx="1.7" ry="1.2" fill="#c1c1c1"/><ellipse cx="22.1" cy="6.6" rx="2.3" ry="1.3" fill="#a0a0a0"/><ellipse cx="43.7" cy="-5.6" rx="1.7" ry="1.0" fill="#9a9a9a"/><ellipse cx="11.4" cy="1.8" rx="2.5" ry="2.0" fill="#b7b7b7"/><ellipse cx="20.4" cy="5.8" rx="1.7" ry="1.0" fill="#a5a5a5"/><ellipse cx="55.5" cy="4.3" rx="2.1" ry="1.1" fill="#bdbdbd"/><ellipse cx="16.8" cy="0.7" rx="2.5" ry="1.5" fill="#c2c2c2"/><ellipse cx="57.4" cy="3.2" rx="1.9" ry="1.4" fill="#dbdbdb"/><ellipse cx="39.9" cy="-1.0" rx="2.6" ry="1.9" fill="#c5c5c5"/><ellipse cx="23.1" cy="-0.6" rx="1.6" ry="0.9" fill="#b8b8b8"/><ellipse cx="32.2" cy="-3.0" rx="2.0" ry="1.2" fill="#5c5c5c"/><ellipse cx="35.9" cy="11.8" rx="2.2" ry="1.5" fill="#616161"/><ellipse cx="20.6" cy="8.0" rx="1.5" ry="0.9" fill="#5e5e5e"/><ellipse cx="59.2" cy="7.1" rx="2.5" ry="1.3" fill="#646464"/><ellipse cx="25.6" cy="10.6" rx="1.3" ry="0.7" fill="#616161"/><ellipse cx="42.7" cy="-1.7" rx="2.2" ry="1.6" fill="#636363"/><ellipse cx="48.0" cy="-6.3" rx="6.0" ry="1.5" fill="#e0e0e0" transform="rotate(-10 48.0 -6.3)"/><ellipse cx="43.0" cy="3.0" rx="12.0" ry="5.0" fill="#262626" transform="rotate(60 43.0 3.0)"/><ellipse cx="46.0" cy="4.8" rx="5.0" ry="4.8" fill="#0f0f0f"/><ellipse cx="9.0" cy="0.0" rx="7.0" ry="2.0" fill="#383838" transform="rotate(-10 9.0 0.0)"/><ellipse cx="21.0" cy="2.8" rx="7.0" ry="3.0" fill="#8f8f8f"/><ellipse cx="52.0" cy="12.0" rx="3.0" ry="1.5" fill="#d1d1d1"/><ellipse cx="72.0" cy="5.5" rx="6.0" ry="2.0" fill="#808080"/><ellipse cx="62.0" cy="1.0" rx="4.0" ry="2.0" fill="#595959"/></g></g></g><path d="M332.7 434.1 L333.9 433.6 L335.5 433.5 L338.0 434.1 L340.3 434.5 L343.8 434.9 L345.8 435.6 L346.8 436.3 L348.2 436.2 L349.0 435.5 L350.7 435.0 L352.8 435.4 L354.3 436.2 L357.9 437.1 L360.4 438.2 L361.6 439.1 L362.9 439.7 L365.0 439.8 L367.6 440.0 L369.7 440.8 M374.7 439.8 L371.5 439.5 L369.0 439.4 L366.8 439.3 L365.2 438.9 L362.7 438.5 L361.4 438.0 L360.5 437.2 L360.1 436.6 L359.4 436.1 L360.9 435.9 L361.7 436.3 L364.1 436.2 L366.1 436.3 L368.4 436.7 L370.3 436.5 L371.9 436.9 L372.9 437.4 L373.5 437.2 L374.3 436.5 L374.2 435.8 L375.1 435.5 L376.5 434.7 L376.4 434.2 L375.4 433.6 L374.1 433.1 L371.9 432.5 L370.0 432.2 L367.5 432.1 L365.6 431.9 L363.1 431.5 L362.3 431.1 L362.3 430.6 L362.4 430.1 L363.2 429.4 L364.2 429.1 L365.6 429.0 L367.0 429.1 L368.1 429.4 L368.9 429.3 L368.0 428.8 L369.4 428.3 L370.7 427.9 L371.9 427.4 L373.0 427.1 L374.7 426.5 L376.1 426.1 L376.8 425.4 L377.6 424.7 L378.0 424.0 L377.3 423.3 L377.2 422.9 M368.1 430.8 L369.8 430.7 L370.9 430.1 L370.7 429.5 L369.5 429.3 L367.9 429.7 L367.1 430.3 L368.1 430.8 M360.5 442.0 L362.9 441.8 L364.6 441.5 L366.2 441.4" fill="none" stroke="#404040" stroke-width="0.3" stroke-opacity="0.45"/><rect x="324.10" y="517.65" width="78.80" height="3.8" fill="url(#gjet)"/><g opacity="0.99" text-rendering="geometricPrecision"><text x="14.80" y="88.40" font-size="2.6" text-anchor="end" class="t">850hPa</text><text x="14.80" y="71.30" font-size="2.6" text-anchor="end" class="t">700hPa</text><text x="14.80" y="54.20" font-size="2.6" text-anchor="end" class="t">500hPa</text><text x="14.80" y="37.10" font-size="2.6" text-anchor="end" class="t">300hPa</text><text x="14.80" y="20.00" font-size="2.6" text-anchor="end" class="t">200hPa</text><text x="55.00" y="9.90" font-size="2.6" text-anchor="middle" class="t">19 April 2001</text><text x="11.70" y="91.90" font-size="2.4" text-anchor="middle" class="t">30°N</text><text x="17.36" y="94.90" font-size="2.4" text-anchor="middle" class="t">25°N</text><text x="23.02" y="97.90" font-size="2.4" text-anchor="middle" class="t">20°N</text><text x="28.68" y="100.90" font-size="2.4" text-anchor="middle" class="t">15°N</text><text x="34.34" y="103.90" font-size="2.4" text-anchor="middle" class="t">10°N</text><text x="40.00" y="106.90" font-size="2.4" text-anchor="middle" class="t">5°N</text><text x="51.20" y="107.30" font-size="2.4" text-anchor="middle" class="t">90°E</text><text x="59.55" y="105.82" font-size="2.4" text-anchor="middle" class="t">95°E</text><text x="67.90" y="104.33" font-size="2.4" text-anchor="middle" class="t">100°E</text><text x="76.25" y="102.85" font-size="2.4" text-anchor="middle" class="t">105°E</text><text x="84.60" y="101.37" font-size="2.4" text-anchor="middle" class="t">110°E</text><text x="92.95" y="99.88" font-size="2.4" text-anchor="middle" class="t">115°E</text><text x="101.30" y="98.40" font-size="2.4" text-anchor="middle" class="t">120°E</text><text x="21.32" y="116.20" font-size="2.3" text-anchor="middle" class="t">-8</text><text x="33.74" y="116.20" font-size="2.3" text-anchor="middle" class="t">-6</text><text x="46.15" y="116.20" font-size="2.3" text-anchor="middle" class="t">-4</text><text x="58.56" y="116.20" font-size="2.3" text-anchor="middle" class="t">-2</text><text x="70.97" y="116.20" font-size="2.3" text-anchor="middle" class="t">0</text><text x="83.39" y="116.20" font-size="2.3" text-anchor="middle" class="t">2</text><text x="95.80" y="116.20" font-size="2.3" text-anchor="middle" class="t">4</text><text x="56.50" y="120.30" font-size="2.4" text-anchor="middle" class="t">Air Temperature</text><text x="117.00" y="88.80" font-size="2.6" text-anchor="end" class="t">850hPa</text><text x="117.00" y="71.70" font-size="2.6" text-anchor="end" class="t">700hPa</text><text x="117.00" y="54.60" font-size="2.6" text-anchor="end" class="t">500hPa</text><text x="117.00" y="37.50" font-size="2.6" text-anchor="end" class="t">300hPa</text><text x="117.00" y="20.40" font-size="2.6" text-anchor="end" class="t">200hPa</text><text x="157.00" y="9.80" font-size="2.6" text-anchor="middle" class="t">19 April 2001</text><text x="113.90" y="92.30" font-size="2.4" text-anchor="middle" class="t">30°N</text><text x="119.56" y="95.28" font-size="2.4" text-anchor="middle" class="t">25°N</text><text x="125.22" y="98.26" font-size="2.4" text-anchor="middle" class="t">20°N</text><text x="130.88" y="101.24" font-size="2.4" text-anchor="middle" class="t">15°N</text><text x="136.54" y="104.22" font-size="2.4" text-anchor="middle" class="t">10°N</text><text x="142.20" y="107.20" font-size="2.4" text-anchor="middle" class="t">5°N</text><text x="153.40" y="107.60" font-size="2.4" text-anchor="middle" class="t">90°E</text><text x="161.80" y="106.10" font-size="2.4" text-anchor="middle" class="t">95°E</text><text x="170.20" y="104.60" font-size="2.4" text-anchor="middle" class="t">100°E</text><text x="178.60" y="103.10" font-size="2.4" text-anchor="middle" class="t">105°E</text><text x="187.00" y="101.60" font-size="2.4" text-anchor="middle" class="t">110°E</text><text x="195.40" y="100.10" font-size="2.4" text-anchor="middle" class="t">115°E</text><text x="203.80" y="98.60" font-size="2.4" text-anchor="middle" class="t">120°E</text><text x="121.89" y="116.20" font-size="2.3" text-anchor="middle" class="t">-120</text><text x="133.73" y="116.20" font-size="2.3" text-anchor="middle" class="t">-100</text><text x="145.57" y="116.20" font-size="2.3" text-anchor="middle" class="t">-80</text><text x="157.41" y="116.20" font-size="2.3" text-anchor="middle" class="t">-60</text><text x="169.24" y="116.20" font-size="2.3" text-anchor="middle" class="t">-40</text><text x="181.08" y="116.20" font-size="2.3" text-anchor="middle" class="t">-20</text><text x="192.92" y="116.20" font-size="2.3" text-anchor="middle" class="t">0</text><text x="158.40" y="120.30" font-size="2.4" text-anchor="middle" class="t">Geopotential Height</text><text x="201.10" y="115.80" font-size="2.2" text-anchor="middle" class="t">m</text><text x="219.00" y="89.20" font-size="2.6" text-anchor="end" class="t">850hPa</text><text x="219.00" y="72.10" font-size="2.6" text-anchor="end" class="t">700hPa</text><text x="219.00" y="55.00" font-size="2.6" text-anchor="end" class="t">500hPa</text><text x="219.00" y="37.90" font-size="2.6" text-anchor="end" class="t">300hPa</text><text x="219.00" y="20.80" font-size="2.6" text-anchor="end" class="t">200hPa</text><text x="259.00" y="10.00" font-size="2.6" text-anchor="middle" class="t">19 April 2001</text><text x="215.90" y="92.70" font-size="2.4" text-anchor="middle" class="t">30°N</text><text x="221.66" y="95.64" font-size="2.4" text-anchor="middle" class="t">25°N</text><text x="227.42" y="98.58" font-size="2.4" text-anchor="middle" class="t">20°N</text><text x="233.18" y="101.52" font-size="2.4" text-anchor="middle" class="t">15°N</text><text x="238.94" y="104.46" font-size="2.4" text-anchor="middle" class="t">10°N</text><text x="244.70" y="107.40" font-size="2.4" text-anchor="middle" class="t">5°N</text><text x="255.90" y="107.80" font-size="2.4" text-anchor="middle" class="t">90°E</text><text x="264.33" y="106.32" font-size="2.4" text-anchor="middle" class="t">95°E</text><text x="272.77" y="104.83" font-size="2.4" text-anchor="middle" class="t">100°E</text><text x="281.20" y="103.35" font-size="2.4" text-anchor="middle" class="t">105°E</text><text x="289.63" y="101.87" font-size="2.4" text-anchor="middle" class="t">110°E</text><text x="298.07" y="100.38" font-size="2.4" text-anchor="middle" class="t">115°E</text><text x="306.50" y="98.90" font-size="2.4" text-anchor="middle" class="t">120°E</text><text x="230.71" y="116.20" font-size="2.3" text-anchor="middle" class="t">-1.5</text><text x="240.96" y="116.20" font-size="2.3" text-anchor="middle" class="t">-1</text><text x="251.22" y="116.20" font-size="2.3" text-anchor="middle" class="t">-0.5</text><text x="261.47" y="116.20" font-size="2.3" text-anchor="middle" class="t">0</text><text x="271.72" y="116.20" font-size="2.3" text-anchor="middle" class="t">0.5</text><text x="281.98" y="116.20" font-size="2.3" text-anchor="middle" class="t">1</text><text x="292.23" y="116.20" font-size="2.3" text-anchor="middle" class="t">1.5</text><text x="261.15" y="120.30" font-size="2.4" text-anchor="middle" class="t">Vertical Vorticity field</text><text x="304.70" y="115.80" font-size="2.2" text-anchor="middle" class="t">unit</text><text x="296.70" y="118.40" font-size="2.2" text-anchor="middle" class="t">×10<tspan font-size="1.5" dy="-0.8">-5</tspan></text><text x="321.00" y="89.20" font-size="2.6" text-anchor="end" class="t">850hPa</text><text x="321.00" y="72.10" font-size="2.6" text-anchor="end" class="t">700hPa</text><text x="321.00" y="55.00" font-size="2.6" text-anchor="end" class="t">500hPa</text><text x="321.00" y="37.90" font-size="2.6" text-anchor="end" class="t">300hPa</text><text x="321.00" y="20.80" font-size="2.6" text-anchor="end" class="t">200hPa</text><text x="362.40" y="10.80" font-size="2.6" text-anchor="middle" class="t">19 April 2001</text><text x="317.90" y="92.70" font-size="2.4" text-anchor="middle" class="t">30°N</text><text x="323.66" y="95.60" font-size="2.4" text-anchor="middle" class="t">25°N</text><text x="329.42" y="98.50" font-size="2.4" text-anchor="middle" class="t">20°N</text><text x="335.18" y="101.40" font-size="2.4" text-anchor="middle" class="t">15°N</text><text x="340.94" y="104.30" font-size="2.4" text-anchor="middle" class="t">10°N</text><text x="346.70" y="107.20" font-size="2.4" text-anchor="middle" class="t">5°N</text><text x="357.90" y="107.60" font-size="2.4" text-anchor="middle" class="t">90°E</text><text x="366.25" y="106.07" font-size="2.4" text-anchor="middle" class="t">95°E</text><text x="374.60" y="104.53" font-size="2.4" text-anchor="middle" class="t">100°E</text><text x="382.95" y="103.00" font-size="2.4" text-anchor="middle" class="t">105°E</text><text x="391.30" y="101.47" font-size="2.4" text-anchor="middle" class="t">110°E</text><text x="399.65" y="99.93" font-size="2.4" text-anchor="middle" class="t">115°E</text><text x="408.00" y="98.40" font-size="2.4" text-anchor="middle" class="t">120°E</text><text x="329.70" y="116.20" font-size="2.3" text-anchor="middle" class="t">-80</text><text x="338.28" y="116.20" font-size="2.3" text-anchor="middle" class="t">-60</text><text x="346.86" y="116.20" font-size="2.3" text-anchor="middle" class="t">-40</text><text x="355.44" y="116.20" font-size="2.3" text-anchor="middle" class="t">-20</text><text x="364.02" y="116.20" font-size="2.3" text-anchor="middle" class="t">0</text><text x="372.60" y="116.20" font-size="2.3" text-anchor="middle" class="t">20</text><text x="381.18" y="116.20" font-size="2.3" text-anchor="middle" class="t">40</text><text x="389.76" y="116.20" font-size="2.3" text-anchor="middle" class="t">60</text><text x="398.34" y="116.20" font-size="2.3" text-anchor="middle" class="t">80</text><text x="363.50" y="120.30" font-size="2.4" text-anchor="middle" class="t">Relative Humidity</text><text x="406.10" y="115.80" font-size="2.2" text-anchor="middle" class="t">%</text><text x="208.4" y="137.70" font-size="7.3" text-anchor="middle" font-family="Liberation Serif" font-weight="bold" fill="#2a2a2a">(l)</text><text x="14.80" y="224.55" font-size="2.6" text-anchor="end" class="t">850hPa</text><text x="14.80" y="207.45" font-size="2.6" text-anchor="end" class="t">700hPa</text><text x="14.80" y="190.35" font-size="2.6" text-anchor="end" class="t">500hPa</text><text x="14.80" y="173.25" font-size="2.6" text-anchor="end" class="t">300hPa</text><text x="14.80" y="156.15" font-size="2.6" text-anchor="end" class="t">200hPa</text><text x="55.00" y="146.05" font-size="2.6" text-anchor="middle" class="t">19 April 2001</text><text x="11.70" y="228.05" font-size="2.4" text-anchor="middle" class="t">30°N</text><text x="17.36" y="231.05" font-size="2.4" text-anchor="middle" class="t">25°N</text><text x="23.02" y="234.05" font-size="2.4" text-anchor="middle" class="t">20°N</text><text x="28.68" y="237.05" font-size="2.4" text-anchor="middle" class="t">15°N</text><text x="34.34" y="240.05" font-size="2.4" text-anchor="middle" class="t">10°N</text><text x="40.00" y="243.05" font-size="2.4" text-anchor="middle" class="t">5°N</text><text x="51.20" y="243.45" font-size="2.4" text-anchor="middle" class="t">90°E</text><text x="59.55" y="241.97" font-size="2.4" text-anchor="middle" class="t">95°E</text><text x="67.90" y="240.48" font-size="2.4" text-anchor="middle" class="t">100°E</text><text x="76.25" y="239.00" font-size="2.4" text-anchor="middle" class="t">105°E</text><text x="84.60" y="237.52" font-size="2.4" text-anchor="middle" class="t">110°E</text><text x="92.95" y="236.03" font-size="2.4" text-anchor="middle" class="t">115°E</text><text x="101.30" y="234.55" font-size="2.4" text-anchor="middle" class="t">120°E</text><text x="21.32" y="252.35" font-size="2.3" text-anchor="middle" class="t">-8</text><text x="33.74" y="252.35" font-size="2.3" text-anchor="middle" class="t">-6</text><text x="46.15" y="252.35" font-size="2.3" text-anchor="middle" class="t">-4</text><text x="58.56" y="252.35" font-size="2.3" text-anchor="middle" class="t">-2</text><text x="70.97" y="252.35" font-size="2.3" text-anchor="middle" class="t">0</text><text x="83.39" y="252.35" font-size="2.3" text-anchor="middle" class="t">2</text><text x="95.80" y="252.35" font-size="2.3" text-anchor="middle" class="t">4</text><text x="56.50" y="256.45" font-size="2.4" text-anchor="middle" class="t">Air Temperature</text><text x="117.00" y="224.95" font-size="2.6" text-anchor="end" class="t">850hPa</text><text x="117.00" y="207.85" font-size="2.6" text-anchor="end" class="t">700hPa</text><text x="117.00" y="190.75" font-size="2.6" text-anchor="end" class="t">500hPa</text><text x="117.00" y="173.65" font-size="2.6" text-anchor="end" class="t">300hPa</text><text x="117.00" y="156.55" font-size="2.6" text-anchor="end" class="t">200hPa</text><text x="157.00" y="145.95" font-size="2.6" text-anchor="middle" class="t">19 April 2001</text><text x="113.90" y="228.45" font-size="2.4" text-anchor="middle" class="t">30°N</text><text x="119.56" y="231.43" font-size="2.4" text-anchor="middle" class="t">25°N</text><text x="125.22" y="234.41" font-size="2.4" text-anchor="middle" class="t">20°N</text><text x="130.88" y="237.39" font-size="2.4" text-anchor="middle" class="t">15°N</text><text x="136.54" y="240.37" font-size="2.4" text-anchor="middle" class="t">10°N</text><text x="142.20" y="243.35" font-size="2.4" text-anchor="middle" class="t">5°N</text><text x="153.40" y="243.75" font-size="2.4" text-anchor="middle" class="t">90°E</text><text x="161.80" y="242.25" font-size="2.4" text-anchor="middle" class="t">95°E</text><text x="170.20" y="240.75" font-size="2.4" text-anchor="middle" class="t">100°E</text><text x="178.60" y="239.25" font-size="2.4" text-anchor="middle" class="t">105°E</text><text x="187.00" y="237.75" font-size="2.4" text-anchor="middle" class="t">110°E</text><text x="195.40" y="236.25" font-size="2.4" text-anchor="middle" class="t">115°E</text><text x="203.80" y="234.75" font-size="2.4" text-anchor="middle" class="t">120°E</text><text x="121.89" y="252.35" font-size="2.3" text-anchor="middle" class="t">-120</text><text x="133.73" y="252.35" font-size="2.3" text-anchor="middle" class="t">-100</text><text x="145.57" y="252.35" font-size="2.3" text-anchor="middle" class="t">-80</text><text x="157.41" y="252.35" font-size="2.3" text-anchor="middle" class="t">-60</text><text x="169.24" y="252.35" font-size="2.3" text-anchor="middle" class="t">-40</text><text x="181.08" y="252.35" font-size="2.3" text-anchor="middle" class="t">-20</text><text x="192.92" y="252.35" font-size="2.3" text-anchor="middle" class="t">0</text><text x="158.40" y="256.45" font-size="2.4" text-anchor="middle" class="t">Geopotential Height</text><text x="201.10" y="251.95" font-size="2.2" text-anchor="middle" class="t">m</text><text x="219.00" y="225.35" font-size="2.6" text-anchor="end" class="t">850hPa</text><text x="219.00" y="208.25" font-size="2.6" text-anchor="end" class="t">700hPa</text><text x="219.00" y="191.15" font-size="2.6" text-anchor="end" class="t">500hPa</text><text x="219.00" y="174.05" font-size="2.6" text-anchor="end" class="t">300hPa</text><text x="219.00" y="156.95" font-size="2.6" text-anchor="end" class="t">200hPa</text><text x="259.00" y="146.15" font-size="2.6" text-anchor="middle" class="t">19 April 2001</text><text x="215.90" y="228.85" font-size="2.4" text-anchor="middle" class="t">30°N</text><text x="221.66" y="231.79" font-size="2.4" text-anchor="middle" class="t">25°N</text><text x="227.42" y="234.73" font-size="2.4" text-anchor="middle" class="t">20°N</text><text x="233.18" y="237.67" font-size="2.4" text-anchor="middle" class="t">15°N</text><text x="238.94" y="240.61" font-size="2.4" text-anchor="middle" class="t">10°N</text><text x="244.70" y="243.55" font-size="2.4" text-anchor="middle" class="t">5°N</text><text x="255.90" y="243.95" font-size="2.4" text-anchor="middle" class="t">90°E</text><text x="264.33" y="242.47" font-size="2.4" text-anchor="middle" class="t">95°E</text><text x="272.77" y="240.98" font-size="2.4" text-anchor="middle" class="t">100°E</text><text x="281.20" y="239.50" font-size="2.4" text-anchor="middle" class="t">105°E</text><text x="289.63" y="238.02" font-size="2.4" text-anchor="middle" class="t">110°E</text><text x="298.07" y="236.53" font-size="2.4" text-anchor="middle" class="t">115°E</text><text x="306.50" y="235.05" font-size="2.4" text-anchor="middle" class="t">120°E</text><text x="230.71" y="252.35" font-size="2.3" text-anchor="middle" class="t">-1.5</text><text x="240.96" y="252.35" font-size="2.3" text-anchor="middle" class="t">-1</text><text x="251.22" y="252.35" font-size="2.3" text-anchor="middle" class="t">-0.5</text><text x="261.47" y="252.35" font-size="2.3" text-anchor="middle" class="t">0</text><text x="271.72" y="252.35" font-size="2.3" text-anchor="middle" class="t">0.5</text><text x="281.98" y="252.35" font-size="2.3" text-anchor="middle" class="t">1</text><text x="292.23" y="252.35" font-size="2.3" text-anchor="middle" class="t">1.5</text><text x="261.15" y="256.45" font-size="2.4" text-anchor="middle" class="t">Vertical Vorticity field</text><text x="304.70" y="251.95" font-size="2.2" text-anchor="middle" class="t">unit</text><text x="296.70" y="254.55" font-size="2.2" text-anchor="middle" class="t">×10<tspan font-size="1.5" dy="-0.8">-5</tspan></text><text x="324.00" y="224.80" font-size="2.6" text-anchor="end" class="t">850hPa</text><text x="324.00" y="207.70" font-size="2.6" text-anchor="end" class="t">700hPa</text><text x="324.00" y="190.60" font-size="2.6" text-anchor="end" class="t">500hPa</text><text x="324.00" y="173.50" font-size="2.6" text-anchor="end" class="t">300hPa</text><text x="324.00" y="156.40" font-size="2.6" text-anchor="end" class="t">200hPa</text><text x="362.90" y="146.50" font-size="2.6" text-anchor="middle" class="t">19 April 2001</text><text x="320.90" y="228.30" font-size="2.4" text-anchor="middle" class="t">30°N</text><text x="326.26" y="231.16" font-size="2.4" text-anchor="middle" class="t">25°N</text><text x="331.62" y="234.02" font-size="2.4" text-anchor="middle" class="t">20°N</text><text x="336.98" y="236.88" font-size="2.4" text-anchor="middle" class="t">15°N</text><text x="342.34" y="239.74" font-size="2.4" text-anchor="middle" class="t">10°N</text><text x="347.70" y="242.60" font-size="2.4" text-anchor="middle" class="t">5°N</text><text x="358.90" y="243.00" font-size="2.4" text-anchor="middle" class="t">90°E</text><text x="367.13" y="241.60" font-size="2.4" text-anchor="middle" class="t">95°E</text><text x="375.37" y="240.20" font-size="2.4" text-anchor="middle" class="t">100°E</text><text x="383.60" y="238.80" font-size="2.4" text-anchor="middle" class="t">105°E</text><text x="391.83" y="237.40" font-size="2.4" text-anchor="middle" class="t">110°E</text><text x="400.07" y="236.00" font-size="2.4" text-anchor="middle" class="t">115°E</text><text x="408.30" y="234.60" font-size="2.4" text-anchor="middle" class="t">120°E</text><text x="332.38" y="252.35" font-size="2.3" text-anchor="middle" class="t">-80</text><text x="340.62" y="252.35" font-size="2.3" text-anchor="middle" class="t">-60</text><text x="348.86" y="252.35" font-size="2.3" text-anchor="middle" class="t">-40</text><text x="357.11" y="252.35" font-size="2.3" text-anchor="middle" class="t">-20</text><text x="365.35" y="252.35" font-size="2.3" text-anchor="middle" class="t">0</text><text x="373.59" y="252.35" font-size="2.3" text-anchor="middle" class="t">20</text><text x="381.83" y="252.35" font-size="2.3" text-anchor="middle" class="t">40</text><text x="390.08" y="252.35" font-size="2.3" text-anchor="middle" class="t">60</text><text x="398.32" y="252.35" font-size="2.3" text-anchor="middle" class="t">80</text><text x="364.85" y="256.45" font-size="2.4" text-anchor="middle" class="t">Relative Humidity</text><text x="409.00" y="251.95" font-size="2.2" text-anchor="middle" class="t">%</text><text x="208.4" y="273.85" font-size="7.3" text-anchor="middle" font-family="Liberation Serif" font-weight="bold" fill="#2a2a2a">(m)</text><text x="14.80" y="360.70" font-size="2.6" text-anchor="end" class="t">850hPa</text><text x="14.80" y="343.60" font-size="2.6" text-anchor="end" class="t">700hPa</text><text x="14.80" y="326.50" font-size="2.6" text-anchor="end" class="t">500hPa</text><text x="14.80" y="309.40" font-size="2.6" text-anchor="end" class="t">300hPa</text><text x="14.80" y="292.30" font-size="2.6" text-anchor="end" class="t">200hPa</text><text x="55.00" y="282.20" font-size="2.6" text-anchor="middle" class="t">20 April 2001</text><text x="11.70" y="364.20" font-size="2.4" text-anchor="middle" class="t">30°N</text><text x="17.36" y="367.20" font-size="2.4" text-anchor="middle" class="t">25°N</text><text x="23.02" y="370.20" font-size="2.4" text-anchor="middle" class="t">20°N</text><text x="28.68" y="373.20" font-size="2.4" text-anchor="middle" class="t">15°N</text><text x="34.34" y="376.20" font-size="2.4" text-anchor="middle" class="t">10°N</text><text x="40.00" y="379.20" font-size="2.4" text-anchor="middle" class="t">5°N</text><text x="51.20" y="379.60" font-size="2.4" text-anchor="middle" class="t">90°E</text><text x="59.55" y="378.12" font-size="2.4" text-anchor="middle" class="t">95°E</text><text x="67.90" y="376.63" font-size="2.4" text-anchor="middle" class="t">100°E</text><text x="76.25" y="375.15" font-size="2.4" text-anchor="middle" class="t">105°E</text><text x="84.60" y="373.67" font-size="2.4" text-anchor="middle" class="t">110°E</text><text x="92.95" y="372.18" font-size="2.4" text-anchor="middle" class="t">115°E</text><text x="101.30" y="370.70" font-size="2.4" text-anchor="middle" class="t">120°E</text><text x="21.32" y="388.50" font-size="2.3" text-anchor="middle" class="t">-8</text><text x="33.74" y="388.50" font-size="2.3" text-anchor="middle" class="t">-6</text><text x="46.15" y="388.50" font-size="2.3" text-anchor="middle" class="t">-4</text><text x="58.56" y="388.50" font-size="2.3" text-anchor="middle" class="t">-2</text><text x="70.97" y="388.50" font-size="2.3" text-anchor="middle" class="t">0</text><text x="83.39" y="388.50" font-size="2.3" text-anchor="middle" class="t">2</text><text x="95.80" y="388.50" font-size="2.3" text-anchor="middle" class="t">4</text><text x="56.50" y="392.60" font-size="2.4" text-anchor="middle" class="t">Air Temperature</text><text x="117.00" y="361.10" font-size="2.6" text-anchor="end" class="t">850hPa</text><text x="117.00" y="344.00" font-size="2.6" text-anchor="end" class="t">700hPa</text><text x="117.00" y="326.90" font-size="2.6" text-anchor="end" class="t">500hPa</text><text x="117.00" y="309.80" font-size="2.6" text-anchor="end" class="t">300hPa</text><text x="117.00" y="292.70" font-size="2.6" text-anchor="end" class="t">200hPa</text><text x="157.00" y="282.10" font-size="2.6" text-anchor="middle" class="t">20 April 2001</text><text x="113.90" y="364.60" font-size="2.4" text-anchor="middle" class="t">30°N</text><text x="119.56" y="367.58" font-size="2.4" text-anchor="middle" class="t">25°N</text><text x="125.22" y="370.56" font-size="2.4" text-anchor="middle" class="t">20°N</text><text x="130.88" y="373.54" font-size="2.4" text-anchor="middle" class="t">15°N</text><text x="136.54" y="376.52" font-size="2.4" text-anchor="middle" class="t">10°N</text><text x="142.20" y="379.50" font-size="2.4" text-anchor="middle" class="t">5°N</text><text x="153.40" y="379.90" font-size="2.4" text-anchor="middle" class="t">90°E</text><text x="161.80" y="378.40" font-size="2.4" text-anchor="middle" class="t">95°E</text><text x="170.20" y="376.90" font-size="2.4" text-anchor="middle" class="t">100°E</text><text x="178.60" y="375.40" font-size="2.4" text-anchor="middle" class="t">105°E</text><text x="187.00" y="373.90" font-size="2.4" text-anchor="middle" class="t">110°E</text><text x="195.40" y="372.40" font-size="2.4" text-anchor="middle" class="t">115°E</text><text x="203.80" y="370.90" font-size="2.4" text-anchor="middle" class="t">120°E</text><text x="121.89" y="388.50" font-size="2.3" text-anchor="middle" class="t">-120</text><text x="133.73" y="388.50" font-size="2.3" text-anchor="middle" class="t">-100</text><text x="145.57" y="388.50" font-size="2.3" text-anchor="middle" class="t">-80</text><text x="157.41" y="388.50" font-size="2.3" text-anchor="middle" class="t">-60</text><text x="169.24" y="388.50" font-size="2.3" text-anchor="middle" class="t">-40</text><text x="181.08" y="388.50" font-size="2.3" text-anchor="middle" class="t">-20</text><text x="192.92" y="388.50" font-size="2.3" text-anchor="middle" class="t">0</text><text x="158.40" y="392.60" font-size="2.4" text-anchor="middle" class="t">Geopotential Height</text><text x="201.10" y="388.10" font-size="2.2" text-anchor="middle" class="t">m</text><text x="219.00" y="361.50" font-size="2.6" text-anchor="end" class="t">850hPa</text><text x="219.00" y="344.40" font-size="2.6" text-anchor="end" class="t">700hPa</text><text x="219.00" y="327.30" font-size="2.6" text-anchor="end" class="t">500hPa</text><text x="219.00" y="310.20" font-size="2.6" text-anchor="end" class="t">300hPa</text><text x="219.00" y="293.10" font-size="2.6" text-anchor="end" class="t">200hPa</text><text x="259.00" y="282.30" font-size="2.6" text-anchor="middle" class="t">20 April 2001</text><text x="215.90" y="365.00" font-size="2.4" text-anchor="middle" class="t">30°N</text><text x="221.66" y="367.94" font-size="2.4" text-anchor="middle" class="t">25°N</text><text x="227.42" y="370.88" font-size="2.4" text-anchor="middle" class="t">20°N</text><text x="233.18" y="373.82" font-size="2.4" text-anchor="middle" class="t">15°N</text><text x="238.94" y="376.76" font-size="2.4" text-anchor="middle" class="t">10°N</text><text x="244.70" y="379.70" font-size="2.4" text-anchor="middle" class="t">5°N</text><text x="255.90" y="380.10" font-size="2.4" text-anchor="middle" class="t">90°E</text><text x="264.33" y="378.62" font-size="2.4" text-anchor="middle" class="t">95°E</text><text x="272.77" y="377.13" font-size="2.4" text-anchor="middle" class="t">100°E</text><text x="281.20" y="375.65" font-size="2.4" text-anchor="middle" class="t">105°E</text><text x="289.63" y="374.17" font-size="2.4" text-anchor="middle" class="t">110°E</text><text x="298.07" y="372.68" font-size="2.4" text-anchor="middle" class="t">115°E</text><text x="306.50" y="371.20" font-size="2.4" text-anchor="middle" class="t">120°E</text><text x="230.71" y="388.50" font-size="2.3" text-anchor="middle" class="t">-1.5</text><text x="240.96" y="388.50" font-size="2.3" text-anchor="middle" class="t">-1</text><text x="251.22" y="388.50" font-size="2.3" text-anchor="middle" class="t">-0.5</text><text x="261.47" y="388.50" font-size="2.3" text-anchor="middle" class="t">0</text><text x="271.72" y="388.50" font-size="2.3" text-anchor="middle" class="t">0.5</text><text x="281.98" y="388.50" font-size="2.3" text-anchor="middle" class="t">1</text><text x="292.23" y="388.50" font-size="2.3" text-anchor="middle" class="t">1.5</text><text x="261.15" y="392.60" font-size="2.4" text-anchor="middle" class="t">Vertical Vorticity field</text><text x="304.70" y="388.10" font-size="2.2" text-anchor="middle" class="t">unit</text><text x="296.70" y="390.70" font-size="2.2" text-anchor="middle" class="t">×10<tspan font-size="1.5" dy="-0.8">-5</tspan></text><text x="321.00" y="361.50" font-size="2.6" text-anchor="end" class="t">850hPa</text><text x="321.00" y="344.40" font-size="2.6" text-anchor="end" class="t">700hPa</text><text x="321.00" y="327.30" font-size="2.6" text-anchor="end" class="t">500hPa</text><text x="321.00" y="310.20" font-size="2.6" text-anchor="end" class="t">300hPa</text><text x="321.00" y="293.10" font-size="2.6" text-anchor="end" class="t">200hPa</text><text x="362.40" y="283.10" font-size="2.6" text-anchor="middle" class="t">20 April 2001</text><text x="317.90" y="365.00" font-size="2.4" text-anchor="middle" class="t">30°N</text><text x="323.66" y="367.90" font-size="2.4" text-anchor="middle" class="t">25°N</text><text x="329.42" y="370.80" font-size="2.4" text-anchor="middle" class="t">20°N</text><text x="335.18" y="373.70" font-size="2.4" text-anchor="middle" class="t">15°N</text><text x="340.94" y="376.60" font-size="2.4" text-anchor="middle" class="t">10°N</text><text x="346.70" y="379.50" font-size="2.4" text-anchor="middle" class="t">5°N</text><text x="357.90" y="379.90" font-size="2.4" text-anchor="middle" class="t">90°E</text><text x="366.25" y="378.37" font-size="2.4" text-anchor="middle" class="t">95°E</text><text x="374.60" y="376.83" font-size="2.4" text-anchor="middle" class="t">100°E</text><text x="382.95" y="375.30" font-size="2.4" text-anchor="middle" class="t">105°E</text><text x="391.30" y="373.77" font-size="2.4" text-anchor="middle" class="t">110°E</text><text x="399.65" y="372.23" font-size="2.4" text-anchor="middle" class="t">115°E</text><text x="408.00" y="370.70" font-size="2.4" text-anchor="middle" class="t">120°E</text><text x="329.70" y="388.50" font-size="2.3" text-anchor="middle" class="t">-80</text><text x="338.28" y="388.50" font-size="2.3" text-anchor="middle" class="t">-60</text><text x="346.86" y="388.50" font-size="2.3" text-anchor="middle" class="t">-40</text><text x="355.44" y="388.50" font-size="2.3" text-anchor="middle" class="t">-20</text><text x="364.02" y="388.50" font-size="2.3" text-anchor="middle" class="t">0</text><text x="372.60" y="388.50" font-size="2.3" text-anchor="middle" class="t">20</text><text x="381.18" y="388.50" font-size="2.3" text-anchor="middle" class="t">40</text><text x="389.76" y="388.50" font-size="2.3" text-anchor="middle" class="t">60</text><text x="398.34" y="388.50" font-size="2.3" text-anchor="middle" class="t">80</text><text x="363.50" y="392.60" font-size="2.4" text-anchor="middle" class="t">Relative Humidity</text><text x="406.10" y="388.10" font-size="2.2" text-anchor="middle" class="t">%</text><text x="208.4" y="410.00" font-size="7.3" text-anchor="middle" font-family="Liberation Serif" font-weight="bold" fill="#2a2a2a">(n)</text><text x="14.80" y="496.85" font-size="2.6" text-anchor="end" class="t">850hPa</text><text x="14.80" y="479.75" font-size="2.6" text-anchor="end" class="t">700hPa</text><text x="14.80" y="462.65" font-size="2.6" text-anchor="end" class="t">500hPa</text><text x="14.80" y="445.55" font-size="2.6" text-anchor="end" class="t">300hPa</text><text x="14.80" y="428.45" font-size="2.6" text-anchor="end" class="t">200hPa</text><text x="55.00" y="418.35" font-size="2.6" text-anchor="middle" class="t">21 April 2001</text><text x="11.70" y="500.35" font-size="2.4" text-anchor="middle" class="t">30°N</text><text x="17.36" y="503.35" font-size="2.4" text-anchor="middle" class="t">25°N</text><text x="23.02" y="506.35" font-size="2.4" text-anchor="middle" class="t">20°N</text><text x="28.68" y="509.35" font-size="2.4" text-anchor="middle" class="t">15°N</text><text x="34.34" y="512.35" font-size="2.4" text-anchor="middle" class="t">10°N</text><text x="40.00" y="515.35" font-size="2.4" text-anchor="middle" class="t">5°N</text><text x="51.20" y="515.75" font-size="2.4" text-anchor="middle" class="t">90°E</text><text x="59.55" y="514.27" font-size="2.4" text-anchor="middle" class="t">95°E</text><text x="67.90" y="512.78" font-size="2.4" text-anchor="middle" class="t">100°E</text><text x="76.25" y="511.30" font-size="2.4" text-anchor="middle" class="t">105°E</text><text x="84.60" y="509.82" font-size="2.4" text-anchor="middle" class="t">110°E</text><text x="92.95" y="508.33" font-size="2.4" text-anchor="middle" class="t">115°E</text><text x="101.30" y="506.85" font-size="2.4" text-anchor="middle" class="t">120°E</text><text x="21.32" y="524.65" font-size="2.3" text-anchor="middle" class="t">-8</text><text x="33.74" y="524.65" font-size="2.3" text-anchor="middle" class="t">-6</text><text x="46.15" y="524.65" font-size="2.3" text-anchor="middle" class="t">-4</text><text x="58.56" y="524.65" font-size="2.3" text-anchor="middle" class="t">-2</text><text x="70.97" y="524.65" font-size="2.3" text-anchor="middle" class="t">0</text><text x="83.39" y="524.65" font-size="2.3" text-anchor="middle" class="t">2</text><text x="95.80" y="524.65" font-size="2.3" text-anchor="middle" class="t">4</text><text x="56.50" y="528.75" font-size="2.4" text-anchor="middle" class="t">Air Temperature</text><text x="117.00" y="497.25" font-size="2.6" text-anchor="end" class="t">850hPa</text><text x="117.00" y="480.15" font-size="2.6" text-anchor="end" class="t">700hPa</text><text x="117.00" y="463.05" font-size="2.6" text-anchor="end" class="t">500hPa</text><text x="117.00" y="445.95" font-size="2.6" text-anchor="end" class="t">300hPa</text><text x="117.00" y="428.85" font-size="2.6" text-anchor="end" class="t">200hPa</text><text x="157.00" y="418.25" font-size="2.6" text-anchor="middle" class="t">21 April 2001</text><text x="113.90" y="500.75" font-size="2.4" text-anchor="middle" class="t">30°N</text><text x="119.56" y="503.73" font-size="2.4" text-anchor="middle" class="t">25°N</text><text x="125.22" y="506.71" font-size="2.4" text-anchor="middle" class="t">20°N</text><text x="130.88" y="509.69" font-size="2.4" text-anchor="middle" class="t">15°N</text><text x="136.54" y="512.67" font-size="2.4" text-anchor="middle" class="t">10°N</text><text x="142.20" y="515.65" font-size="2.4" text-anchor="middle" class="t">5°N</text><text x="153.40" y="516.05" font-size="2.4" text-anchor="middle" class="t">90°E</text><text x="161.80" y="514.55" font-size="2.4" text-anchor="middle" class="t">95°E</text><text x="170.20" y="513.05" font-size="2.4" text-anchor="middle" class="t">100°E</text><text x="178.60" y="511.55" font-size="2.4" text-anchor="middle" class="t">105°E</text><text x="187.00" y="510.05" font-size="2.4" text-anchor="middle" class="t">110°E</text><text x="195.40" y="508.55" font-size="2.4" text-anchor="middle" class="t">115°E</text><text x="203.80" y="507.05" font-size="2.4" text-anchor="middle" class="t">120°E</text><text x="121.89" y="524.65" font-size="2.3" text-anchor="middle" class="t">-120</text><text x="133.73" y="524.65" font-size="2.3" text-anchor="middle" class="t">-100</text><text x="145.57" y="524.65" font-size="2.3" text-anchor="middle" class="t">-80</text><text x="157.41" y="524.65" font-size="2.3" text-anchor="middle" class="t">-60</text><text x="169.24" y="524.65" font-size="2.3" text-anchor="middle" class="t">-40</text><text x="181.08" y="524.65" font-size="2.3" text-anchor="middle" class="t">-20</text><text x="192.92" y="524.65" font-size="2.3" text-anchor="middle" class="t">0</text><text x="158.40" y="528.75" font-size="2.4" text-anchor="middle" class="t">Geopotential Height</text><text x="201.10" y="524.25" font-size="2.2" text-anchor="middle" class="t">m</text><text x="219.00" y="497.65" font-size="2.6" text-anchor="end" class="t">850hPa</text><text x="219.00" y="480.55" font-size="2.6" text-anchor="end" class="t">700hPa</text><text x="219.00" y="463.45" font-size="2.6" text-anchor="end" class="t">500hPa</text><text x="219.00" y="446.35" font-size="2.6" text-anchor="end" class="t">300hPa</text><text x="219.00" y="429.25" font-size="2.6" text-anchor="end" class="t">200hPa</text><text x="259.00" y="418.45" font-size="2.6" text-anchor="middle" class="t">21 April 2001</text><text x="215.90" y="501.15" font-size="2.4" text-anchor="middle" class="t">30°N</text><text x="221.66" y="504.09" font-size="2.4" text-anchor="middle" class="t">25°N</text><text x="227.42" y="507.03" font-size="2.4" text-anchor="middle" class="t">20°N</text><text x="233.18" y="509.97" font-size="2.4" text-anchor="middle" class="t">15°N</text><text x="238.94" y="512.91" font-size="2.4" text-anchor="middle" class="t">10°N</text><text x="244.70" y="515.85" font-size="2.4" text-anchor="middle" class="t">5°N</text><text x="255.90" y="516.25" font-size="2.4" text-anchor="middle" class="t">90°E</text><text x="264.33" y="514.77" font-size="2.4" text-anchor="middle" class="t">95°E</text><text x="272.77" y="513.28" font-size="2.4" text-anchor="middle" class="t">100°E</text><text x="281.20" y="511.80" font-size="2.4" text-anchor="middle" class="t">105°E</text><text x="289.63" y="510.32" font-size="2.4" text-anchor="middle" class="t">110°E</text><text x="298.07" y="508.83" font-size="2.4" text-anchor="middle" class="t">115°E</text><text x="306.50" y="507.35" font-size="2.4" text-anchor="middle" class="t">120°E</text><text x="230.71" y="524.65" font-size="2.3" text-anchor="middle" class="t">-1.5</text><text x="240.96" y="524.65" font-size="2.3" text-anchor="middle" class="t">-1</text><text x="251.22" y="524.65" font-size="2.3" text-anchor="middle" class="t">-0.5</text><text x="261.47" y="524.65" font-size="2.3" text-anchor="middle" class="t">0</text><text x="271.72" y="524.65" font-size="2.3" text-anchor="middle" class="t">0.5</text><text x="281.98" y="524.65" font-size="2.3" text-anchor="middle" class="t">1</text><text x="292.23" y="524.65" font-size="2.3" text-anchor="middle" class="t">1.5</text><text x="261.15" y="528.75" font-size="2.4" text-anchor="middle" class="t">Vertical Vorticity field</text><text x="304.70" y="524.25" font-size="2.2" text-anchor="middle" class="t">unit</text><text x="296.70" y="526.85" font-size="2.2" text-anchor="middle" class="t">×10<tspan font-size="1.5" dy="-0.8">-5</tspan></text><text x="321.00" y="497.65" font-size="2.6" text-anchor="end" class="t">850hPa</text><text x="321.00" y="480.55" font-size="2.6" text-anchor="end" class="t">700hPa</text><text x="321.00" y="463.45" font-size="2.6" text-anchor="end" class="t">500hPa</text><text x="321.00" y="446.35" font-size="2.6" text-anchor="end" class="t">300hPa</text><text x="321.00" y="429.25" font-size="2.6" text-anchor="end" class="t">200hPa</text><text x="362.40" y="419.25" font-size="2.6" text-anchor="middle" class="t">21 April 2001</text><text x="317.90" y="501.15" font-size="2.4" text-anchor="middle" class="t">30°N</text><text x="323.66" y="504.05" font-size="2.4" text-anchor="middle" class="t">25°N</text><text x="329.42" y="506.95" font-size="2.4" text-anchor="middle" class="t">20°N</text><text x="335.18" y="509.85" font-size="2.4" text-anchor="middle" class="t">15°N</text><text x="340.94" y="512.75" font-size="2.4" text-anchor="middle" class="t">10°N</text><text x="346.70" y="515.65" font-size="2.4" text-anchor="middle" class="t">5°N</text><text x="357.90" y="516.05" font-size="2.4" text-anchor="middle" class="t">90°E</text><text x="366.25" y="514.52" font-size="2.4" text-anchor="middle" class="t">95°E</text><text x="374.60" y="512.98" font-size="2.4" text-anchor="middle" class="t">100°E</text><text x="382.95" y="511.45" font-size="2.4" text-anchor="middle" class="t">105°E</text><text x="391.30" y="509.92" font-size="2.4" text-anchor="middle" class="t">110°E</text><text x="399.65" y="508.38" font-size="2.4" text-anchor="middle" class="t">115°E</text><text x="408.00" y="506.85" font-size="2.4" text-anchor="middle" class="t">120°E</text><text x="329.70" y="524.65" font-size="2.3" text-anchor="middle" class="t">-80</text><text x="338.28" y="524.65" font-size="2.3" text-anchor="middle" class="t">-60</text><text x="346.86" y="524.65" font-size="2.3" text-anchor="middle" class="t">-40</text><text x="355.44" y="524.65" font-size="2.3" text-anchor="middle" class="t">-20</text><text x="364.02" y="524.65" font-size="2.3" text-anchor="middle" class="t">0</text><text x="372.60" y="524.65" font-size="2.3" text-anchor="middle" class="t">20</text><text x="381.18" y="524.65" font-size="2.3" text-anchor="middle" class="t">40</text><text x="389.76" y="524.65" font-size="2.3" text-anchor="middle" class="t">60</text><text x="398.34" y="524.65" font-size="2.3" text-anchor="middle" class="t">80</text><text x="363.50" y="528.75" font-size="2.4" text-anchor="middle" class="t">Relative Humidity</text><text x="406.10" y="524.25" font-size="2.2" text-anchor="middle" class="t">%</text><text x="208.4" y="546.15" font-size="7.3" text-anchor="middle" font-family="Liberation Serif" font-weight="bold" fill="#2a2a2a">(o)</text></g></svg></body></html>
